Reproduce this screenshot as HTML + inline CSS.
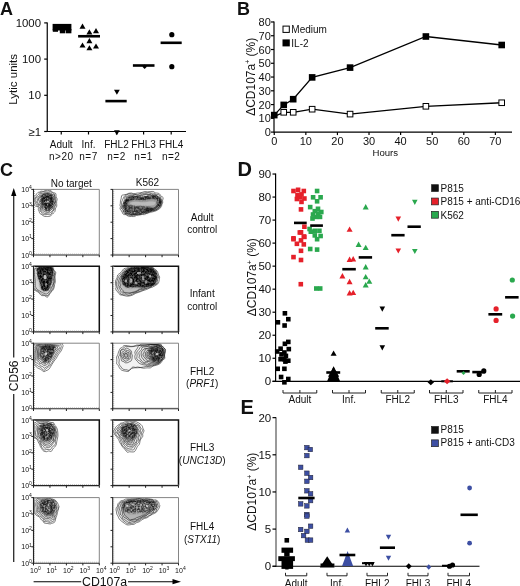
<!DOCTYPE html>
<html><head><meta charset="utf-8"><style>
html,body{margin:0;padding:0;background:#fff;width:520px;height:586px;overflow:hidden;}
svg{display:block;will-change:transform;}
text{font-family:"Liberation Sans",sans-serif;fill:#111;}
</style></head><body>
<svg width="520" height="586" viewBox="0 0 520 586">
<defs><filter id="bl" x="-20%" y="-20%" width="140%" height="140%"><feGaussianBlur stdDeviation="0.7"/></filter><filter id="tx" x="-20%" y="-20%" width="140%" height="140%"><feTurbulence type="fractalNoise" baseFrequency="0.55" numOctaves="2" seed="4" result="n"/><feColorMatrix in="n" type="matrix" values="0 0 0 0 0  0 0 0 0 0  0 0 0 0 0  0 0 0 -3 2.1" result="a"/><feGaussianBlur in="SourceGraphic" stdDeviation="0.8" result="b"/><feComposite in="b" in2="a" operator="in"/></filter><clipPath id="c00"><rect x="33.5" y="189.4" width="65.8" height="65.6"/></clipPath><clipPath id="c01"><rect x="112.7" y="189.4" width="65.8" height="65.6"/></clipPath><clipPath id="c10"><rect x="33.5" y="266.3" width="65.8" height="65.6"/></clipPath><clipPath id="c11"><rect x="112.7" y="266.3" width="65.8" height="65.6"/></clipPath><clipPath id="c20"><rect x="33.5" y="343.2" width="65.8" height="65.6"/></clipPath><clipPath id="c21"><rect x="112.7" y="343.2" width="65.8" height="65.6"/></clipPath><clipPath id="c30"><rect x="33.5" y="420.0" width="65.8" height="65.6"/></clipPath><clipPath id="c31"><rect x="112.7" y="420.0" width="65.8" height="65.6"/></clipPath><clipPath id="c40"><rect x="33.5" y="497.6" width="65.8" height="65.6"/></clipPath><clipPath id="c41"><rect x="112.7" y="497.6" width="65.8" height="65.6"/></clipPath></defs>
<g clip-path="url(#c00)"><path d="M33.04,197.19C33.31,196.71 34.04,196.42 34.44,196.12C34.83,195.81 35.15,195.65 35.43,195.38C35.71,195.11 35.83,194.81 36.10,194.51C36.38,194.20 36.75,193.90 37.08,193.54C37.42,193.18 37.72,192.57 38.11,192.33C38.50,192.09 38.95,192.29 39.43,192.09C39.91,191.90 40.35,191.27 40.99,191.15C41.64,191.04 42.60,191.51 43.28,191.40C43.96,191.30 44.38,190.69 45.07,190.51C45.76,190.32 46.72,190.27 47.43,190.29C48.14,190.31 48.78,190.57 49.32,190.61C49.86,190.65 50.18,190.32 50.68,190.56C51.18,190.80 51.82,191.69 52.33,192.05C52.83,192.41 53.16,192.48 53.71,192.71C54.26,192.93 55.24,193.01 55.63,193.39C56.01,193.76 55.96,194.35 56.04,194.94C56.12,195.53 55.92,196.24 56.10,196.90C56.29,197.57 57.07,198.18 57.16,198.93C57.26,199.69 56.76,200.65 56.67,201.41C56.58,202.17 56.61,202.69 56.62,203.49C56.64,204.28 56.94,205.42 56.76,206.18C56.59,206.94 55.87,207.37 55.60,208.07C55.34,208.76 55.34,209.71 55.19,210.34C55.04,210.96 55.00,211.35 54.71,211.81C54.41,212.27 53.98,212.54 53.43,213.09C52.89,213.64 52.05,214.56 51.43,215.10C50.80,215.63 50.33,216.05 49.69,216.29C49.05,216.53 48.16,216.48 47.59,216.52C47.01,216.55 46.78,216.53 46.24,216.50C45.70,216.47 44.93,216.51 44.34,216.33C43.74,216.15 43.22,215.79 42.68,215.42C42.13,215.05 41.55,214.46 41.07,214.13C40.59,213.79 40.14,213.87 39.81,213.40C39.47,212.93 39.33,211.96 39.08,211.31C38.83,210.67 38.41,210.08 38.30,209.51C38.20,208.95 38.57,208.42 38.43,207.94C38.30,207.46 37.90,206.91 37.49,206.64C37.08,206.37 36.48,206.51 36.00,206.32C35.51,206.12 34.89,205.85 34.57,205.47C34.25,205.08 34.30,204.33 34.10,203.99C33.91,203.65 33.61,203.78 33.40,203.41C33.20,203.04 32.92,202.20 32.87,201.77C32.82,201.34 33.11,201.30 33.10,200.83C33.09,200.36 32.83,199.56 32.82,198.95C32.81,198.35 32.77,197.66 33.04,197.19Z" fill="#000" fill-opacity="0.0" stroke="#000" stroke-width="0.6" stroke-opacity="0.85"/>
<path d="M34.67,198.20C34.91,197.95 35.62,197.65 35.91,197.28C36.20,196.91 36.15,196.27 36.41,195.97C36.67,195.68 37.06,195.82 37.47,195.50C37.89,195.17 38.64,194.39 38.91,194.03C39.18,193.66 38.92,193.51 39.11,193.29C39.30,193.07 39.57,192.90 40.06,192.71C40.55,192.52 41.51,192.28 42.03,192.15C42.55,192.02 42.64,192.00 43.15,191.93C43.67,191.85 44.41,191.70 45.13,191.70C45.85,191.70 46.84,191.86 47.46,191.90C48.08,191.94 48.31,191.99 48.86,191.93C49.42,191.86 50.23,191.34 50.81,191.51C51.39,191.68 51.88,192.57 52.36,192.94C52.84,193.31 53.31,193.54 53.69,193.74C54.06,193.94 54.42,193.78 54.60,194.16C54.79,194.54 54.69,195.52 54.79,196.02C54.89,196.52 55.04,196.68 55.21,197.16C55.37,197.64 55.70,198.27 55.79,198.90C55.88,199.52 55.84,200.20 55.76,200.90C55.67,201.60 55.39,202.34 55.30,203.09C55.21,203.83 55.36,204.62 55.24,205.38C55.12,206.14 54.70,207.07 54.57,207.64C54.45,208.20 54.67,208.26 54.50,208.78C54.34,209.30 53.94,210.25 53.58,210.76C53.21,211.27 52.69,211.32 52.33,211.85C51.97,212.38 51.85,213.44 51.41,213.92C50.98,214.41 50.36,214.66 49.72,214.76C49.08,214.85 48.20,214.48 47.58,214.47C46.96,214.46 46.50,214.65 46.01,214.68C45.52,214.71 45.22,214.71 44.65,214.65C44.07,214.58 43.07,214.66 42.57,214.31C42.08,213.95 42.05,213.02 41.68,212.53C41.30,212.04 40.62,211.70 40.34,211.37C40.05,211.05 40.04,211.03 39.97,210.58C39.89,210.13 40.07,209.32 39.91,208.68C39.75,208.03 39.33,207.09 39.01,206.73C38.68,206.37 38.22,206.63 37.93,206.49C37.64,206.36 37.57,206.18 37.27,205.90C36.96,205.62 36.31,205.04 36.10,204.80C35.88,204.56 36.09,204.70 35.99,204.44C35.89,204.17 35.67,203.61 35.49,203.23C35.31,202.84 35.10,202.56 34.92,202.12C34.73,201.67 34.45,201.12 34.38,200.57C34.31,200.01 34.45,199.17 34.50,198.78C34.55,198.38 34.44,198.44 34.67,198.20Z" fill="#000" fill-opacity="0.015" stroke="#000" stroke-width="0.6" stroke-opacity="0.85"/>
<path d="M35.64,198.00C35.78,197.73 36.29,197.81 36.72,197.57C37.16,197.33 37.84,196.77 38.23,196.55C38.63,196.33 38.81,196.50 39.09,196.24C39.37,195.97 39.75,195.31 39.91,194.96C40.07,194.60 39.90,194.38 40.05,194.11C40.20,193.85 40.39,193.45 40.83,193.37C41.27,193.30 42.09,193.75 42.68,193.68C43.26,193.61 43.85,193.10 44.34,192.98C44.83,192.86 45.24,192.96 45.64,192.95C46.04,192.94 46.15,192.88 46.73,192.90C47.30,192.93 48.44,193.09 49.07,193.09C49.70,193.09 50.17,192.77 50.53,192.90C50.88,193.03 50.87,193.59 51.21,193.87C51.55,194.15 52.03,194.41 52.55,194.58C53.07,194.75 54.05,194.52 54.32,194.91C54.60,195.29 54.11,196.41 54.21,196.87C54.31,197.32 54.81,197.27 54.90,197.64C54.99,198.01 54.69,198.44 54.76,199.09C54.84,199.74 55.37,200.82 55.33,201.54C55.29,202.27 54.55,202.83 54.51,203.43C54.48,204.03 55.21,204.61 55.13,205.14C55.05,205.68 54.34,206.21 54.03,206.64C53.73,207.08 53.39,207.21 53.30,207.76C53.22,208.31 53.75,209.34 53.52,209.93C53.29,210.53 52.40,210.92 51.92,211.34C51.44,211.75 51.00,212.15 50.64,212.43C50.29,212.70 50.29,212.87 49.79,212.98C49.30,213.09 48.30,213.03 47.68,213.11C47.06,213.18 46.60,213.39 46.07,213.42C45.53,213.46 44.97,213.43 44.48,213.33C44.00,213.23 43.55,213.14 43.17,212.84C42.78,212.53 42.50,211.81 42.17,211.50C41.84,211.18 41.42,211.29 41.18,210.96C40.93,210.63 40.83,210.05 40.71,209.51C40.59,208.96 40.55,208.32 40.46,207.70C40.37,207.07 40.37,206.15 40.16,205.77C39.95,205.38 39.58,205.44 39.21,205.38C38.83,205.32 38.27,205.54 37.93,205.40C37.60,205.27 37.32,204.86 37.21,204.58C37.09,204.30 37.36,204.02 37.22,203.72C37.09,203.41 36.57,203.03 36.38,202.75C36.20,202.47 36.22,202.41 36.11,202.06C36.00,201.71 35.75,201.13 35.71,200.65C35.66,200.18 35.85,199.64 35.83,199.20C35.82,198.76 35.49,198.27 35.64,198.00Z" fill="#000" fill-opacity="0.03" stroke="#000" stroke-width="0.6" stroke-opacity="0.85"/>
<path d="M37.74,198.56C37.86,198.24 38.04,198.33 38.32,198.08C38.59,197.84 39.14,197.37 39.40,197.10C39.67,196.83 39.72,196.64 39.90,196.45C40.09,196.27 40.30,196.20 40.51,195.99C40.72,195.79 40.93,195.39 41.16,195.22C41.39,195.05 41.51,195.06 41.88,194.96C42.25,194.86 42.87,194.81 43.36,194.62C43.86,194.42 44.46,193.87 44.86,193.78C45.27,193.70 45.37,194.17 45.80,194.12C46.24,194.07 47.06,193.52 47.46,193.46C47.86,193.41 47.86,193.77 48.21,193.81C48.56,193.85 49.16,193.55 49.57,193.70C49.97,193.84 50.16,194.39 50.62,194.69C51.07,194.99 51.94,195.29 52.31,195.50C52.67,195.71 52.57,195.74 52.79,195.94C53.00,196.15 53.37,196.25 53.59,196.71C53.82,197.18 54.09,198.19 54.14,198.74C54.20,199.29 53.93,199.59 53.90,200.01C53.86,200.42 53.87,200.70 53.94,201.22C54.02,201.75 54.43,202.63 54.36,203.17C54.28,203.70 53.66,204.01 53.50,204.44C53.33,204.87 53.50,205.31 53.35,205.76C53.20,206.20 52.72,206.72 52.59,207.14C52.47,207.56 52.80,207.85 52.60,208.27C52.40,208.69 51.85,209.27 51.40,209.65C50.94,210.03 50.21,210.21 49.87,210.56C49.53,210.90 49.76,211.45 49.36,211.72C48.96,211.99 47.90,212.11 47.46,212.19C47.02,212.28 47.17,212.32 46.71,212.23C46.25,212.14 45.21,211.80 44.69,211.64C44.17,211.48 43.91,211.58 43.59,211.28C43.26,210.99 43.04,210.14 42.74,209.88C42.45,209.63 41.97,210.10 41.83,209.77C41.69,209.44 42.04,208.33 41.91,207.90C41.77,207.47 41.16,207.57 41.02,207.21C40.89,206.85 41.31,206.15 41.12,205.73C40.94,205.31 40.16,204.88 39.92,204.69C39.68,204.49 39.95,204.57 39.69,204.55C39.43,204.53 38.57,204.70 38.37,204.54C38.16,204.39 38.59,203.89 38.45,203.60C38.31,203.32 37.76,203.10 37.54,202.84C37.31,202.57 37.11,202.42 37.10,202.03C37.09,201.64 37.38,200.85 37.45,200.51C37.52,200.16 37.49,200.31 37.54,199.98C37.59,199.66 37.61,198.87 37.74,198.56Z" fill="#000" fill-opacity="0.045" stroke="#000" stroke-width="0.6" stroke-opacity="0.85"/>
<path d="M38.71,198.57C38.89,198.23 39.41,198.26 39.60,198.06C39.80,197.87 39.74,197.60 39.89,197.40C40.04,197.19 40.25,197.00 40.50,196.83C40.74,196.66 41.02,196.55 41.33,196.38C41.64,196.22 42.11,196.03 42.33,195.83C42.56,195.63 42.48,195.36 42.70,195.19C42.92,195.02 43.33,194.91 43.66,194.81C43.99,194.70 44.25,194.56 44.68,194.56C45.10,194.56 45.84,194.77 46.21,194.81C46.58,194.84 46.49,194.84 46.92,194.80C47.35,194.75 48.30,194.51 48.79,194.53C49.29,194.54 49.60,194.67 49.89,194.88C50.17,195.08 50.26,195.58 50.50,195.76C50.73,195.95 50.97,195.79 51.30,195.99C51.63,196.18 52.28,196.62 52.47,196.93C52.66,197.25 52.36,197.58 52.46,197.90C52.56,198.21 52.98,198.53 53.09,198.82C53.20,199.12 53.18,199.32 53.11,199.66C53.05,200.00 52.78,200.34 52.70,200.87C52.62,201.39 52.62,202.35 52.61,202.82C52.61,203.29 52.76,203.25 52.68,203.70C52.60,204.15 52.17,205.03 52.13,205.51C52.08,205.98 52.54,206.24 52.43,206.55C52.33,206.86 51.81,207.06 51.50,207.37C51.20,207.68 50.93,208.11 50.61,208.42C50.30,208.74 49.90,208.91 49.59,209.27C49.29,209.63 49.01,210.43 48.79,210.60C48.56,210.76 48.63,210.25 48.23,210.26C47.82,210.28 46.87,210.69 46.37,210.68C45.87,210.66 45.62,210.37 45.23,210.17C44.84,209.97 44.33,209.70 44.05,209.49C43.78,209.28 43.85,209.12 43.58,208.90C43.31,208.69 42.69,208.54 42.43,208.20C42.17,207.87 42.11,207.27 42.01,206.89C41.92,206.51 41.93,206.31 41.85,205.91C41.78,205.51 41.69,204.75 41.57,204.47C41.45,204.20 41.28,204.32 41.14,204.26C41.01,204.20 40.89,204.20 40.74,204.13C40.58,204.06 40.38,203.97 40.23,203.84C40.08,203.71 40.01,203.62 39.83,203.34C39.66,203.06 39.26,202.49 39.18,202.14C39.10,201.80 39.37,201.50 39.36,201.28C39.35,201.07 39.26,201.03 39.12,200.83C38.98,200.63 38.58,200.48 38.51,200.10C38.44,199.72 38.53,198.91 38.71,198.57Z" fill="#000" fill-opacity="0.06" stroke="#000" stroke-width="0.6" stroke-opacity="0.85"/>
<path d="M40.70,199.36C40.83,199.27 41.04,199.21 41.11,199.03C41.18,198.85 40.98,198.43 41.13,198.27C41.27,198.11 41.73,198.16 42.00,198.05C42.28,197.94 42.60,197.74 42.77,197.59C42.95,197.45 42.93,197.37 43.08,197.20C43.22,197.03 43.48,196.81 43.66,196.57C43.85,196.34 43.95,195.89 44.17,195.78C44.40,195.66 44.72,195.82 45.00,195.87C45.29,195.93 45.51,196.09 45.89,196.10C46.28,196.12 46.89,195.97 47.30,195.96C47.71,195.96 48.04,196.14 48.36,196.06C48.69,195.99 48.92,195.41 49.24,195.50C49.56,195.59 50.02,196.38 50.27,196.61C50.52,196.83 50.52,196.81 50.75,196.85C50.98,196.89 51.44,196.68 51.64,196.86C51.85,197.04 51.97,197.61 51.96,197.94C51.96,198.28 51.53,198.57 51.62,198.87C51.70,199.17 52.33,199.28 52.46,199.73C52.58,200.19 52.45,201.18 52.38,201.59C52.32,202.01 52.14,201.88 52.08,202.23C52.01,202.57 52.01,203.27 51.98,203.67C51.95,204.06 51.99,204.36 51.91,204.61C51.82,204.85 51.67,204.84 51.46,205.12C51.26,205.40 50.85,205.96 50.68,206.28C50.52,206.60 50.66,206.84 50.47,207.04C50.28,207.24 49.91,207.26 49.56,207.49C49.21,207.73 48.63,208.21 48.35,208.44C48.08,208.67 48.15,208.84 47.90,208.86C47.66,208.87 47.26,208.55 46.91,208.53C46.55,208.51 46.09,208.84 45.76,208.72C45.44,208.60 45.16,208.06 44.97,207.82C44.78,207.59 44.78,207.38 44.60,207.31C44.43,207.24 44.22,207.60 43.93,207.39C43.64,207.18 42.96,206.35 42.87,206.05C42.78,205.75 43.39,205.92 43.39,205.59C43.39,205.25 43.07,204.25 42.85,204.04C42.64,203.83 42.31,204.38 42.09,204.32C41.87,204.25 41.73,203.83 41.54,203.66C41.35,203.48 40.96,203.49 40.93,203.27C40.90,203.05 41.36,202.53 41.36,202.34C41.36,202.14 41.05,202.20 40.94,202.09C40.83,201.98 40.84,201.85 40.70,201.68C40.56,201.52 40.17,201.46 40.11,201.11C40.05,200.76 40.24,199.86 40.34,199.57C40.44,199.28 40.57,199.45 40.70,199.36Z" fill="#000" fill-opacity="0.07" stroke="#000" stroke-width="0.6" stroke-opacity="0.85"/>
<path d="M41.05,199.52C41.12,199.30 41.74,199.09 41.91,198.93C42.09,198.77 41.96,198.61 42.09,198.55C42.23,198.49 42.59,198.65 42.71,198.58C42.84,198.50 42.63,198.35 42.85,198.12C43.07,197.88 43.75,197.30 44.03,197.17C44.30,197.04 44.32,197.39 44.52,197.33C44.73,197.26 45.10,196.88 45.27,196.78C45.44,196.67 45.29,196.71 45.56,196.70C45.84,196.69 46.63,196.73 46.90,196.71C47.17,196.70 46.99,196.68 47.16,196.61C47.34,196.54 47.69,196.23 47.93,196.31C48.17,196.38 48.36,196.86 48.61,197.06C48.86,197.26 49.17,197.48 49.41,197.51C49.64,197.55 49.76,197.27 50.00,197.28C50.25,197.28 50.71,197.28 50.87,197.57C51.03,197.86 50.83,198.68 50.96,199.03C51.08,199.38 51.52,199.42 51.63,199.67C51.73,199.92 51.58,200.28 51.61,200.53C51.64,200.78 51.83,200.99 51.82,201.18C51.81,201.38 51.60,201.40 51.55,201.71C51.49,202.03 51.54,202.66 51.49,203.06C51.44,203.45 51.39,203.85 51.23,204.07C51.07,204.29 50.59,204.17 50.53,204.37C50.46,204.58 50.95,205.00 50.82,205.28C50.70,205.57 50.09,205.79 49.78,206.08C49.48,206.37 49.13,206.85 49.00,207.04C48.86,207.23 49.17,207.17 48.98,207.21C48.79,207.25 48.19,207.25 47.85,207.27C47.51,207.30 47.27,207.40 46.92,207.39C46.57,207.38 46.03,207.21 45.73,207.21C45.43,207.21 45.30,207.54 45.14,207.39C44.98,207.23 44.87,206.43 44.77,206.28C44.66,206.13 44.65,206.71 44.51,206.49C44.37,206.26 44.09,205.34 43.93,204.95C43.76,204.55 43.60,204.40 43.53,204.13C43.45,203.87 43.59,203.51 43.49,203.36C43.40,203.21 43.06,203.21 42.94,203.23C42.82,203.26 42.85,203.59 42.77,203.52C42.70,203.45 42.62,202.99 42.47,202.81C42.33,202.63 42.06,202.60 41.92,202.42C41.78,202.25 41.77,201.96 41.64,201.76C41.50,201.56 41.05,201.44 41.10,201.22C41.15,201.00 41.85,200.61 41.91,200.45C41.98,200.30 41.64,200.43 41.50,200.28C41.35,200.12 40.98,199.75 41.05,199.52Z" fill="#000" fill-opacity="0.08" stroke="#000" stroke-width="0.6" stroke-opacity="0.85"/>
<path d="M42.96,199.55C43.03,199.39 42.75,199.32 42.81,199.24C42.86,199.16 43.07,199.10 43.30,199.08C43.52,199.06 43.98,199.28 44.17,199.10C44.36,198.93 44.46,198.18 44.44,198.05C44.41,197.93 43.90,198.40 44.02,198.37C44.14,198.33 44.89,198.03 45.14,197.85C45.38,197.67 45.35,197.26 45.48,197.29C45.61,197.31 45.69,197.90 45.93,197.98C46.17,198.07 46.64,197.90 46.94,197.78C47.25,197.67 47.64,197.37 47.76,197.27C47.87,197.18 47.50,197.14 47.66,197.22C47.82,197.30 48.39,197.59 48.71,197.73C49.03,197.87 49.41,197.95 49.60,198.06C49.79,198.17 49.75,198.32 49.84,198.39C49.94,198.47 50.16,198.34 50.18,198.50C50.20,198.65 49.95,199.06 49.98,199.33C50.00,199.59 50.17,199.94 50.32,200.07C50.47,200.21 50.86,200.01 50.86,200.14C50.86,200.28 50.36,200.57 50.34,200.89C50.32,201.21 50.76,201.85 50.74,202.09C50.72,202.32 50.27,202.09 50.21,202.31C50.15,202.54 50.39,203.20 50.36,203.45C50.32,203.70 50.07,203.67 50.01,203.81C49.94,203.95 50.11,204.07 49.97,204.30C49.84,204.53 49.31,204.93 49.19,205.19C49.08,205.45 49.36,205.68 49.27,205.84C49.19,206.01 49.00,206.15 48.70,206.18C48.39,206.21 47.65,205.96 47.43,206.00C47.22,206.04 47.62,206.46 47.40,206.43C47.19,206.41 46.40,205.91 46.14,205.84C45.87,205.77 45.95,206.13 45.80,206.03C45.65,205.93 45.36,205.35 45.22,205.26C45.07,205.16 45.07,205.67 44.93,205.46C44.79,205.26 44.49,204.32 44.40,204.04C44.30,203.75 44.34,203.95 44.36,203.76C44.39,203.58 44.55,203.03 44.54,202.94C44.52,202.84 44.42,203.27 44.27,203.20C44.11,203.12 43.73,202.63 43.63,202.49C43.53,202.35 43.72,202.46 43.67,202.36C43.62,202.26 43.51,201.96 43.33,201.89C43.15,201.83 42.74,202.00 42.59,201.97C42.44,201.95 42.45,201.98 42.45,201.75C42.46,201.51 42.64,200.80 42.63,200.55C42.62,200.30 42.33,200.41 42.39,200.25C42.44,200.08 42.90,199.72 42.96,199.55Z" fill="#000" fill-opacity="0.1" stroke="#000" stroke-width="0.6" stroke-opacity="0.85"/>
<path d="M41.00,196.00C41.75,194.42 44.17,193.75 46.00,193.50C47.83,193.25 50.67,193.42 52.00,194.50C53.33,195.58 53.83,197.92 54.00,200.00C54.17,202.08 53.83,205.17 53.00,207.00C52.17,208.83 50.50,210.67 49.00,211.00C47.50,211.33 45.25,210.33 44.00,209.00C42.75,207.67 42.00,205.17 41.50,203.00C41.00,200.83 40.25,197.58 41.00,196.00Z" fill="#000" fill-opacity="0.18" filter="url(#bl)"/><path d="M41.00,196.00C41.75,194.42 44.17,193.75 46.00,193.50C47.83,193.25 50.67,193.42 52.00,194.50C53.33,195.58 53.83,197.92 54.00,200.00C54.17,202.08 53.83,205.17 53.00,207.00C52.17,208.83 50.50,210.67 49.00,211.00C47.50,211.33 45.25,210.33 44.00,209.00C42.75,207.67 42.00,205.17 41.50,203.00C41.00,200.83 40.25,197.58 41.00,196.00Z" fill="#000" fill-opacity="0.75" filter="url(#tx)"/>
<path d="M44.00,198.00C44.67,197.17 46.83,196.67 48.00,197.00C49.17,197.33 50.75,198.67 51.00,200.00C51.25,201.33 50.33,204.00 49.50,205.00C48.67,206.00 46.92,206.50 46.00,206.00C45.08,205.50 44.33,203.33 44.00,202.00C43.67,200.67 43.33,198.83 44.00,198.00Z" fill="#000" fill-opacity="0.5" filter="url(#tx)"/>
<circle cx="47.8" cy="201.5" r="1" fill="#fff" fill-opacity="0.7"/></g>
<g clip-path="url(#c01)"><path d="M120.35,203.40C120.44,202.63 120.35,201.34 120.48,200.57C120.61,199.80 120.94,199.59 121.14,198.76C121.34,197.93 121.27,196.24 121.68,195.60C122.09,194.95 122.82,195.11 123.60,194.90C124.38,194.70 125.59,194.59 126.36,194.35C127.13,194.10 127.37,193.67 128.21,193.45C129.05,193.23 130.47,192.97 131.39,193.01C132.31,193.06 132.74,193.71 133.72,193.73C134.69,193.74 136.21,193.22 137.22,193.08C138.24,192.94 138.98,193.01 139.81,192.89C140.65,192.77 141.41,192.57 142.22,192.35C143.03,192.13 143.83,191.64 144.70,191.55C145.58,191.46 146.46,191.80 147.47,191.80C148.48,191.80 149.75,191.57 150.74,191.53C151.73,191.48 152.67,191.32 153.42,191.54C154.16,191.75 154.45,192.54 155.20,192.82C155.96,193.10 157.22,193.01 157.96,193.21C158.69,193.40 159.12,193.56 159.59,193.98C160.07,194.39 160.49,195.28 160.82,195.71C161.15,196.14 161.20,196.23 161.59,196.54C161.98,196.86 163.00,196.90 163.16,197.58C163.32,198.26 162.63,199.83 162.55,200.61C162.48,201.39 162.82,201.59 162.71,202.25C162.59,202.92 162.13,203.91 161.88,204.61C161.64,205.31 161.62,205.77 161.24,206.45C160.87,207.13 160.22,208.13 159.66,208.69C159.09,209.25 158.51,209.42 157.86,209.80C157.20,210.17 156.65,210.59 155.75,210.94C154.84,211.28 153.44,211.64 152.45,211.86C151.47,212.09 150.87,212.01 149.83,212.30C148.80,212.58 147.24,213.23 146.22,213.56C145.20,213.89 144.68,214.12 143.71,214.29C142.74,214.46 141.61,214.37 140.40,214.57C139.19,214.77 137.54,215.17 136.43,215.48C135.32,215.78 134.83,216.28 133.74,216.41C132.66,216.54 130.92,216.40 129.90,216.28C128.87,216.15 128.30,215.95 127.60,215.66C126.91,215.37 126.44,214.79 125.72,214.55C125.00,214.31 123.83,214.54 123.27,214.21C122.71,213.89 122.70,213.20 122.36,212.58C122.02,211.96 121.62,211.13 121.23,210.51C120.84,209.89 120.17,209.52 120.04,208.88C119.91,208.23 120.47,207.23 120.45,206.62C120.44,206.01 119.95,205.76 119.93,205.23C119.91,204.69 120.26,204.18 120.35,203.40Z" fill="#000" fill-opacity="0.0" stroke="#000" stroke-width="0.6" stroke-opacity="0.85"/>
<path d="M121.64,202.69C121.69,201.96 121.80,201.56 122.00,200.98C122.19,200.40 122.50,199.87 122.81,199.22C123.12,198.57 123.48,197.72 123.87,197.08C124.25,196.43 124.65,195.73 125.15,195.35C125.64,194.97 126.16,195.05 126.84,194.80C127.52,194.55 128.44,193.97 129.23,193.83C130.02,193.69 130.65,193.87 131.56,193.96C132.47,194.04 133.67,194.23 134.67,194.34C135.67,194.46 136.67,194.79 137.54,194.65C138.42,194.52 139.09,193.78 139.92,193.54C140.75,193.30 141.73,193.35 142.53,193.23C143.34,193.12 143.94,192.95 144.74,192.85C145.54,192.74 146.58,192.67 147.35,192.63C148.12,192.59 148.63,192.53 149.36,192.61C150.09,192.69 150.91,193.01 151.73,193.12C152.54,193.24 153.51,193.05 154.26,193.29C155.01,193.54 155.53,194.36 156.24,194.57C156.94,194.78 157.92,194.29 158.49,194.56C159.05,194.82 159.26,195.78 159.62,196.16C159.98,196.55 160.40,196.46 160.64,196.90C160.88,197.33 160.94,198.08 161.03,198.77C161.13,199.45 161.33,200.36 161.21,201.00C161.09,201.64 160.49,201.98 160.34,202.59C160.18,203.19 160.36,203.98 160.25,204.64C160.15,205.30 160.02,205.99 159.70,206.53C159.39,207.07 158.80,207.38 158.35,207.87C157.89,208.36 157.70,209.03 156.97,209.47C156.24,209.92 154.78,210.33 153.97,210.54C153.16,210.74 152.90,210.47 152.13,210.70C151.37,210.93 150.40,211.63 149.37,211.93C148.34,212.22 147.05,212.28 145.96,212.47C144.87,212.66 143.84,212.80 142.82,213.09C141.81,213.38 140.81,214.01 139.86,214.21C138.91,214.41 138.21,214.20 137.15,214.31C136.09,214.43 134.53,214.73 133.51,214.88C132.49,215.04 131.86,215.29 131.04,215.22C130.22,215.15 129.26,214.67 128.56,214.47C127.87,214.27 127.61,214.28 126.85,214.01C126.10,213.74 124.61,213.22 124.05,212.84C123.49,212.46 123.69,212.22 123.49,211.71C123.29,211.20 123.17,210.25 122.85,209.77C122.53,209.28 121.74,209.31 121.56,208.78C121.38,208.24 121.76,207.14 121.78,206.56C121.80,205.99 121.72,205.97 121.69,205.33C121.67,204.68 121.59,203.41 121.64,202.69Z" fill="#000" fill-opacity="0.02" stroke="#000" stroke-width="0.6" stroke-opacity="0.85"/>
<path d="M123.36,203.22C123.48,202.61 123.65,201.71 123.90,201.12C124.15,200.54 124.69,200.37 124.86,199.69C125.03,199.00 124.57,197.59 124.92,197.01C125.26,196.42 126.42,196.35 126.93,196.17C127.43,196.00 127.44,196.15 127.96,195.96C128.47,195.77 129.25,195.17 130.01,195.05C130.77,194.93 131.67,195.30 132.52,195.24C133.36,195.19 134.30,194.74 135.08,194.74C135.87,194.73 136.38,195.16 137.20,195.23C138.02,195.29 139.25,195.26 140.01,195.13C140.76,195.00 141.04,194.65 141.75,194.45C142.46,194.25 143.49,194.05 144.24,193.92C145.00,193.79 145.51,193.62 146.28,193.67C147.05,193.71 148.12,194.18 148.86,194.19C149.60,194.20 149.99,193.64 150.73,193.74C151.47,193.84 152.65,194.64 153.31,194.79C153.98,194.94 154.05,194.44 154.73,194.65C155.40,194.85 156.86,195.75 157.36,196.03C157.86,196.31 157.47,196.03 157.73,196.32C157.99,196.60 158.59,197.28 158.91,197.74C159.24,198.20 159.58,198.59 159.68,199.07C159.77,199.55 159.53,200.02 159.46,200.61C159.40,201.21 159.40,201.87 159.29,202.63C159.18,203.39 159.02,204.60 158.81,205.15C158.59,205.71 158.41,205.55 157.98,205.95C157.55,206.35 156.68,207.05 156.23,207.55C155.78,208.05 155.88,208.61 155.30,208.94C154.71,209.26 153.42,209.20 152.70,209.51C151.99,209.82 151.76,210.52 151.00,210.80C150.24,211.08 148.98,211.09 148.15,211.20C147.31,211.30 146.81,211.26 145.99,211.42C145.18,211.59 144.22,211.89 143.26,212.20C142.31,212.51 141.21,213.07 140.25,213.29C139.28,213.50 138.43,213.34 137.47,213.49C136.51,213.63 135.45,213.96 134.49,214.15C133.52,214.35 132.48,214.71 131.69,214.64C130.90,214.57 130.47,213.98 129.75,213.74C129.04,213.51 128.06,213.47 127.41,213.21C126.76,212.94 126.22,212.49 125.87,212.16C125.52,211.84 125.60,211.73 125.33,211.25C125.07,210.78 124.58,209.88 124.27,209.31C123.97,208.74 123.68,208.32 123.50,207.85C123.32,207.37 123.25,206.97 123.19,206.46C123.14,205.95 123.13,205.33 123.16,204.79C123.19,204.25 123.24,203.83 123.36,203.22Z" fill="#000" fill-opacity="0.04" stroke="#000" stroke-width="0.6" stroke-opacity="0.85"/>
<path d="M125.20,202.83C125.36,202.24 125.59,201.57 125.77,201.09C125.96,200.61 126.18,200.54 126.31,199.94C126.45,199.35 126.28,198.00 126.57,197.52C126.87,197.04 127.51,197.29 128.08,197.05C128.66,196.81 129.45,196.23 130.01,196.07C130.57,195.91 130.84,196.09 131.44,196.09C132.04,196.08 132.95,196.01 133.61,196.05C134.27,196.09 134.68,196.26 135.40,196.33C136.13,196.39 137.13,196.60 137.95,196.43C138.78,196.27 139.64,195.47 140.36,195.34C141.08,195.21 141.72,195.75 142.27,195.65C142.82,195.55 142.98,194.93 143.65,194.75C144.32,194.56 145.50,194.55 146.30,194.52C147.10,194.49 147.77,194.60 148.45,194.58C149.13,194.56 149.83,194.23 150.40,194.41C150.98,194.59 151.40,195.46 151.90,195.66C152.40,195.87 152.81,195.53 153.40,195.63C154.00,195.72 155.06,195.99 155.45,196.24C155.83,196.49 155.55,196.70 155.73,197.13C155.92,197.56 156.22,198.37 156.55,198.82C156.89,199.26 157.63,199.35 157.73,199.80C157.83,200.24 157.27,200.93 157.14,201.47C157.02,202.01 156.94,202.49 156.97,203.01C157.00,203.54 157.40,204.12 157.31,204.63C157.22,205.14 156.81,205.58 156.43,206.08C156.06,206.58 155.56,207.15 155.08,207.64C154.60,208.13 154.08,208.76 153.56,209.00C153.05,209.25 152.58,209.00 152.01,209.10C151.44,209.20 150.76,209.38 150.13,209.61C149.51,209.85 149.11,210.24 148.28,210.53C147.46,210.82 146.11,211.18 145.18,211.33C144.25,211.48 143.51,211.33 142.72,211.44C141.93,211.54 141.25,211.77 140.46,211.95C139.67,212.13 138.85,212.25 137.99,212.52C137.13,212.79 136.18,213.37 135.30,213.56C134.42,213.74 133.48,213.84 132.72,213.65C131.95,213.46 131.37,212.71 130.70,212.42C130.02,212.13 129.22,212.06 128.67,211.92C128.13,211.77 127.77,211.74 127.42,211.54C127.08,211.33 126.93,211.14 126.62,210.69C126.31,210.24 125.79,209.37 125.57,208.82C125.35,208.27 125.47,207.82 125.33,207.37C125.19,206.92 124.83,206.61 124.74,206.15C124.66,205.69 124.76,205.19 124.84,204.63C124.91,204.08 125.05,203.42 125.20,202.83Z" fill="#000" fill-opacity="0.06" stroke="#000" stroke-width="0.6" stroke-opacity="0.85"/>
<path d="M124.00,208.00C123.83,206.00 124.33,201.50 127.00,200.00C129.67,198.50 135.17,199.17 140.00,199.00C144.83,198.83 153.00,198.00 156.00,199.00C159.00,200.00 159.00,203.17 158.00,205.00C157.00,206.83 153.00,208.83 150.00,210.00C147.00,211.17 143.67,211.67 140.00,212.00C136.33,212.33 130.67,212.67 128.00,212.00C125.33,211.33 124.17,210.00 124.00,208.00Z" fill="#000" fill-opacity="0.30" filter="url(#bl)"/><path d="M124.00,208.00C123.83,206.00 124.33,201.50 127.00,200.00C129.67,198.50 135.17,199.17 140.00,199.00C144.83,198.83 153.00,198.00 156.00,199.00C159.00,200.00 159.00,203.17 158.00,205.00C157.00,206.83 153.00,208.83 150.00,210.00C147.00,211.17 143.67,211.67 140.00,212.00C136.33,212.33 130.67,212.67 128.00,212.00C125.33,211.33 124.17,210.00 124.00,208.00Z" fill="#000" fill-opacity="0.0" filter="url(#tx)"/>
<path d="M123.50,212.00C122.58,210.25 121.75,206.17 122.50,205.00C123.25,203.83 125.75,204.83 128.00,205.00C130.25,205.17 133.17,205.75 136.00,206.00C138.83,206.25 142.17,206.08 145.00,206.50C147.83,206.92 152.50,207.42 153.00,208.50C153.50,209.58 150.50,211.92 148.00,213.00C145.50,214.08 141.33,214.58 138.00,215.00C134.67,215.42 130.42,216.00 128.00,215.50C125.58,215.00 124.42,213.75 123.50,212.00Z" fill="#000" fill-opacity="0.22" filter="url(#bl)"/><path d="M123.50,212.00C122.58,210.25 121.75,206.17 122.50,205.00C123.25,203.83 125.75,204.83 128.00,205.00C130.25,205.17 133.17,205.75 136.00,206.00C138.83,206.25 142.17,206.08 145.00,206.50C147.83,206.92 152.50,207.42 153.00,208.50C153.50,209.58 150.50,211.92 148.00,213.00C145.50,214.08 141.33,214.58 138.00,215.00C134.67,215.42 130.42,216.00 128.00,215.50C125.58,215.00 124.42,213.75 123.50,212.00Z" fill="#000" fill-opacity="0.6" filter="url(#tx)"/>
<path d="M124.50,205.00C125.08,204.08 126.25,200.70 128.00,199.50C129.75,198.30 132.50,198.02 135.00,197.80C137.50,197.58 140.33,198.33 143.00,198.20C145.67,198.07 148.67,197.12 151.00,197.00C153.33,196.88 155.47,196.75 157.00,197.50C158.53,198.25 159.95,200.00 160.20,201.50C160.45,203.00 159.62,205.17 158.50,206.50C157.38,207.83 155.58,209.00 153.50,209.50C151.42,210.00 147.25,209.50 146.00,209.50" fill="none" stroke="#000" stroke-opacity="0.5" stroke-width="3.6" filter="url(#bl)"/>
<path d="M124.50,205.00C125.08,204.08 126.25,200.70 128.00,199.50C129.75,198.30 132.50,198.02 135.00,197.80C137.50,197.58 140.33,198.33 143.00,198.20C145.67,198.07 148.67,197.12 151.00,197.00C153.33,196.88 155.47,196.75 157.00,197.50C158.53,198.25 159.95,200.00 160.20,201.50C160.45,203.00 158.78,205.67 158.50,206.50" fill="none" stroke="#000" stroke-opacity="0.95" stroke-width="3.0" filter="url(#tx)"/>
<path d="M130.00,203.00C130.33,202.42 132.83,201.92 135.00,201.80C137.17,201.68 140.33,202.35 143.00,202.30C145.67,202.25 148.92,201.50 151.00,201.50C153.08,201.50 155.00,201.72 155.50,202.30C156.00,202.88 155.25,204.42 154.00,205.00C152.75,205.58 150.33,205.72 148.00,205.80C145.67,205.88 142.50,205.58 140.00,205.50C137.50,205.42 134.67,205.72 133.00,205.30C131.33,204.88 129.67,203.58 130.00,203.00Z" fill="#fff" fill-opacity="0.3" filter="url(#bl)"/></g>
<g clip-path="url(#c10)"><path d="M32.75,266.08C33.78,264.82 37.24,265.75 39.41,265.73C41.58,265.72 43.74,265.87 45.78,265.98C47.82,266.09 50.48,266.11 51.67,266.39C52.86,266.68 52.53,267.06 52.90,267.68C53.27,268.31 53.43,269.36 53.90,270.12C54.37,270.89 55.51,271.42 55.73,272.25C55.96,273.09 55.40,274.03 55.25,275.12C55.09,276.21 54.83,277.67 54.83,278.80C54.83,279.92 55.29,280.90 55.26,281.87C55.22,282.84 54.79,283.67 54.60,284.62C54.41,285.56 54.43,286.59 54.13,287.54C53.82,288.50 53.31,289.57 52.77,290.36C52.24,291.16 51.45,291.64 50.92,292.30C50.39,292.95 50.14,293.50 49.58,294.30C49.03,295.09 48.27,296.70 47.60,297.05C46.93,297.40 46.10,296.65 45.56,296.41C45.03,296.17 45.04,295.75 44.40,295.61C43.76,295.48 42.46,295.84 41.73,295.60C41.00,295.35 40.58,294.69 40.01,294.13C39.43,293.56 38.98,292.76 38.28,292.21C37.59,291.66 36.44,291.13 35.83,290.82C35.21,290.51 34.86,290.62 34.59,290.35C34.33,290.08 34.59,289.53 34.25,289.19C33.92,288.85 32.73,289.74 32.56,288.31C32.38,286.88 33.11,283.14 33.22,280.64C33.33,278.13 33.30,275.72 33.22,273.29C33.14,270.86 31.72,267.33 32.75,266.08Z" fill="#000" fill-opacity="0.04" stroke="#000" stroke-width="0.6" stroke-opacity="0.85"/>
<path d="M33.71,266.76C34.71,265.64 37.59,266.61 39.55,266.70C41.50,266.80 43.45,267.22 45.47,267.34C47.48,267.47 50.41,267.20 51.62,267.43C52.82,267.66 52.35,268.20 52.67,268.75C53.00,269.30 53.21,270.09 53.57,270.74C53.93,271.39 54.71,271.81 54.83,272.66C54.95,273.51 54.29,274.86 54.30,275.83C54.30,276.81 54.79,277.59 54.86,278.52C54.94,279.45 54.95,280.48 54.73,281.40C54.50,282.33 53.74,283.10 53.49,284.06C53.25,285.01 53.41,286.32 53.25,287.15C53.10,287.98 52.93,288.38 52.58,289.04C52.23,289.71 51.76,290.35 51.17,291.13C50.58,291.91 49.61,292.99 49.06,293.74C48.51,294.49 48.38,295.34 47.88,295.63C47.38,295.92 46.71,295.60 46.07,295.49C45.43,295.38 44.66,295.12 44.05,294.96C43.44,294.81 43.04,294.90 42.42,294.58C41.80,294.27 40.98,293.62 40.34,293.08C39.71,292.54 39.27,291.80 38.62,291.33C37.98,290.85 36.99,290.52 36.46,290.23C35.93,289.94 35.74,289.97 35.42,289.57C35.10,289.17 34.86,288.16 34.56,287.85C34.26,287.55 33.73,289.01 33.61,287.75C33.48,286.49 33.83,282.67 33.82,280.29C33.81,277.91 33.55,275.71 33.54,273.45C33.52,271.20 32.71,267.89 33.71,266.76Z" fill="#000" fill-opacity="0.06" stroke="#000" stroke-width="0.6" stroke-opacity="0.85"/>
<path d="M35.09,268.36C36.08,267.41 38.74,268.46 40.42,268.45C42.10,268.45 43.45,268.31 45.17,268.32C46.89,268.33 49.60,268.20 50.76,268.53C51.92,268.85 51.85,269.70 52.12,270.27C52.39,270.84 52.06,271.36 52.39,271.93C52.72,272.50 53.95,273.03 54.11,273.68C54.26,274.33 53.47,275.02 53.33,275.82C53.19,276.61 53.18,277.44 53.27,278.46C53.37,279.49 53.91,281.00 53.88,281.96C53.85,282.92 53.31,283.54 53.07,284.21C52.83,284.88 52.74,285.33 52.45,285.97C52.17,286.61 51.68,287.36 51.36,288.04C51.04,288.72 50.99,289.35 50.55,290.04C50.12,290.72 49.33,291.50 48.76,292.14C48.18,292.78 47.61,293.59 47.09,293.89C46.57,294.19 46.15,294.05 45.64,293.94C45.14,293.83 44.50,293.38 44.04,293.22C43.58,293.07 43.39,293.25 42.90,293.02C42.41,292.80 41.82,292.30 41.12,291.87C40.42,291.43 39.32,290.82 38.70,290.42C38.08,290.02 37.76,289.79 37.38,289.49C37.01,289.18 36.73,288.95 36.46,288.58C36.20,288.22 36.00,287.68 35.79,287.30C35.59,286.93 35.34,287.53 35.25,286.35C35.15,285.18 35.34,282.30 35.21,280.26C35.08,278.23 34.49,276.12 34.47,274.13C34.45,272.15 34.10,269.31 35.09,268.36Z" fill="#000" fill-opacity="0.08" stroke="#000" stroke-width="0.6" stroke-opacity="0.85"/>
<path d="M37.40,268.00C38.65,266.42 42.45,266.50 45.00,266.50C47.55,266.50 51.45,266.08 52.70,268.00C53.95,269.92 52.87,275.00 52.50,278.00C52.13,281.00 51.25,283.92 50.50,286.00C49.75,288.08 49.42,289.83 48.00,290.50C46.58,291.17 43.33,291.25 42.00,290.00C40.67,288.75 40.75,285.33 40.00,283.00C39.25,280.67 37.93,278.50 37.50,276.00C37.07,273.50 36.15,269.58 37.40,268.00Z" fill="#000" fill-opacity="0.60" filter="url(#bl)"/><path d="M37.40,268.00C38.65,266.42 42.45,266.50 45.00,266.50C47.55,266.50 51.45,266.08 52.70,268.00C53.95,269.92 52.87,275.00 52.50,278.00C52.13,281.00 51.25,283.92 50.50,286.00C49.75,288.08 49.42,289.83 48.00,290.50C46.58,291.17 43.33,291.25 42.00,290.00C40.67,288.75 40.75,285.33 40.00,283.00C39.25,280.67 37.93,278.50 37.50,276.00C37.07,273.50 36.15,269.58 37.40,268.00Z" fill="#000" fill-opacity="0.95" filter="url(#tx)"/>
<ellipse cx="45" cy="277" rx="1.6" ry="2.2" fill="#fff" fill-opacity="0.7"/>
<ellipse cx="46" cy="284.5" rx="1.2" ry="1.5" fill="#fff" fill-opacity="0.4"/></g>
<g clip-path="url(#c11)"><path d="M115.44,283.43C115.44,282.66 115.42,281.24 115.69,280.33C115.96,279.41 116.72,278.82 117.06,277.93C117.40,277.05 117.25,275.77 117.72,275.00C118.18,274.22 119.18,273.90 119.86,273.30C120.54,272.70 121.13,272.16 121.78,271.40C122.44,270.64 122.96,269.31 123.81,268.74C124.65,268.18 125.98,268.27 126.85,268.00C127.71,267.73 128.19,267.41 128.98,267.12C129.78,266.83 130.20,266.40 131.62,266.26C133.04,266.12 135.65,266.32 137.51,266.26C139.37,266.19 141.05,265.93 142.78,265.87C144.52,265.81 146.54,265.72 147.91,265.91C149.28,266.09 150.06,266.57 151.02,266.96C151.98,267.35 152.90,267.77 153.68,268.24C154.47,268.71 155.07,269.10 155.74,269.79C156.40,270.47 157.20,271.46 157.66,272.33C158.12,273.21 158.16,274.24 158.49,275.01C158.82,275.78 159.53,276.21 159.66,276.96C159.79,277.72 159.43,278.76 159.30,279.56C159.16,280.37 159.10,281.08 158.86,281.80C158.62,282.51 158.50,283.20 157.86,283.84C157.22,284.48 155.86,285.14 155.02,285.64C154.18,286.15 153.70,286.50 152.81,286.88C151.93,287.27 150.69,287.52 149.70,287.94C148.72,288.36 148.03,288.96 146.91,289.40C145.80,289.85 144.09,290.24 143.00,290.63C141.90,291.03 141.56,291.32 140.35,291.76C139.13,292.21 137.08,292.73 135.72,293.32C134.36,293.91 133.52,294.83 132.18,295.31C130.84,295.79 128.87,296.10 127.69,296.19C126.51,296.28 125.94,296.01 125.11,295.84C124.27,295.68 123.56,295.38 122.69,295.19C121.81,295.01 120.44,295.05 119.85,294.72C119.25,294.39 119.57,293.76 119.09,293.21C118.62,292.66 117.55,292.13 116.97,291.42C116.40,290.70 115.78,289.59 115.64,288.90C115.51,288.20 116.16,287.92 116.17,287.27C116.17,286.61 115.80,285.58 115.68,284.94C115.55,284.30 115.43,284.20 115.44,283.43Z" fill="#000" fill-opacity="0.04" stroke="#000" stroke-width="0.6" stroke-opacity="0.85"/>
<path d="M116.45,282.91C116.57,282.16 116.92,280.96 117.24,280.05C117.56,279.13 118.03,278.15 118.36,277.41C118.69,276.67 118.74,276.27 119.24,275.61C119.74,274.96 120.71,274.16 121.36,273.49C122.02,272.82 122.63,272.20 123.17,271.60C123.71,270.99 123.90,270.29 124.59,269.86C125.28,269.44 126.36,269.39 127.30,269.06C128.25,268.72 129.39,268.16 130.24,267.85C131.09,267.54 131.25,267.39 132.42,267.20C133.58,267.02 135.56,266.72 137.24,266.74C138.91,266.76 140.76,267.25 142.47,267.32C144.18,267.39 146.22,266.98 147.48,267.16C148.74,267.34 149.22,268.01 150.03,268.38C150.83,268.76 151.57,269.01 152.32,269.42C153.06,269.82 153.97,270.25 154.50,270.82C155.03,271.38 155.04,272.06 155.52,272.80C155.99,273.53 156.86,274.53 157.34,275.23C157.82,275.93 158.36,276.30 158.41,276.99C158.46,277.67 157.84,278.59 157.64,279.34C157.44,280.09 157.39,280.67 157.23,281.47C157.07,282.26 157.26,283.50 156.69,284.11C156.11,284.71 154.58,284.77 153.76,285.10C152.95,285.43 152.60,285.64 151.82,286.10C151.04,286.56 150.12,287.43 149.08,287.87C148.04,288.30 146.66,288.33 145.57,288.72C144.49,289.10 143.48,289.76 142.58,290.17C141.69,290.58 141.33,290.77 140.19,291.18C139.04,291.59 137.01,292.13 135.71,292.62C134.41,293.12 133.57,293.67 132.39,294.15C131.21,294.62 129.63,295.34 128.64,295.47C127.65,295.60 127.29,295.01 126.45,294.90C125.60,294.79 124.51,294.95 123.59,294.82C122.67,294.69 121.55,294.53 120.93,294.12C120.31,293.70 120.28,292.90 119.85,292.33C119.43,291.75 118.79,291.39 118.37,290.67C117.95,289.94 117.57,288.68 117.34,287.97C117.11,287.26 117.15,286.99 117.02,286.42C116.88,285.85 116.63,285.16 116.54,284.58C116.44,283.99 116.34,283.67 116.45,282.91Z" fill="#000" fill-opacity="0.06" stroke="#000" stroke-width="0.6" stroke-opacity="0.85"/>
<path d="M118.18,282.76C118.30,282.03 118.68,280.83 118.92,280.08C119.16,279.32 119.25,278.94 119.61,278.21C119.97,277.49 120.64,276.38 121.06,275.72C121.48,275.06 121.64,274.87 122.13,274.25C122.62,273.63 123.44,272.58 124.00,272.00C124.56,271.42 124.75,271.16 125.49,270.79C126.22,270.42 127.58,270.12 128.39,269.80C129.21,269.48 129.70,269.11 130.38,268.88C131.06,268.64 131.32,268.51 132.45,268.38C133.58,268.25 135.54,268.11 137.15,268.08C138.77,268.06 140.61,268.30 142.16,268.24C143.71,268.19 145.33,267.69 146.43,267.77C147.54,267.86 147.98,268.38 148.80,268.77C149.62,269.16 150.54,269.72 151.35,270.12C152.16,270.53 153.16,270.68 153.66,271.19C154.16,271.70 154.04,272.53 154.35,273.18C154.66,273.84 155.19,274.39 155.51,275.13C155.83,275.87 156.17,276.94 156.25,277.62C156.32,278.30 156.09,278.56 155.95,279.20C155.82,279.83 155.59,280.69 155.43,281.41C155.27,282.14 155.42,283.06 155.00,283.56C154.58,284.07 153.60,284.05 152.91,284.46C152.22,284.88 151.71,285.60 150.86,286.05C150.00,286.50 148.64,286.80 147.78,287.18C146.92,287.55 146.62,287.90 145.68,288.28C144.74,288.67 143.12,289.20 142.12,289.47C141.13,289.74 140.77,289.46 139.70,289.88C138.63,290.31 136.84,291.55 135.70,292.02C134.56,292.48 133.97,292.37 132.84,292.68C131.71,292.98 129.92,293.65 128.90,293.87C127.88,294.09 127.45,294.15 126.73,294.01C126.00,293.87 125.20,293.16 124.54,293.02C123.87,292.88 123.34,293.41 122.74,293.16C122.14,292.91 121.36,292.11 120.93,291.53C120.51,290.96 120.49,290.29 120.18,289.71C119.88,289.14 119.29,288.66 119.09,288.09C118.89,287.53 119.12,286.93 118.97,286.32C118.82,285.72 118.34,285.07 118.21,284.47C118.08,283.88 118.06,283.49 118.18,282.76Z" fill="#000" fill-opacity="0.08" stroke="#000" stroke-width="0.6" stroke-opacity="0.85"/>
<path d="M119.81,282.59C119.86,281.99 120.21,281.38 120.46,280.61C120.71,279.83 121.09,278.76 121.30,277.94C121.52,277.13 121.37,276.37 121.75,275.73C122.13,275.08 123.00,274.60 123.56,274.07C124.13,273.55 124.59,273.03 125.12,272.57C125.65,272.11 126.10,271.60 126.72,271.31C127.35,271.02 128.24,271.06 128.87,270.85C129.50,270.63 129.81,270.35 130.50,270.04C131.19,269.73 131.87,269.13 133.02,269.00C134.17,268.86 136.02,269.27 137.41,269.25C138.80,269.22 139.92,268.98 141.36,268.87C142.81,268.75 145.01,268.35 146.10,268.56C147.20,268.77 147.36,269.68 147.92,270.12C148.48,270.55 148.77,270.75 149.48,271.15C150.19,271.54 151.61,271.95 152.17,272.49C152.74,273.03 152.57,273.83 152.88,274.38C153.20,274.92 153.65,275.30 154.07,275.77C154.50,276.25 155.33,276.57 155.45,277.21C155.57,277.85 155.04,278.85 154.79,279.59C154.54,280.32 154.16,281.05 153.95,281.64C153.73,282.23 153.88,282.67 153.47,283.14C153.06,283.61 152.23,284.11 151.51,284.46C150.78,284.80 149.83,284.89 149.12,285.21C148.40,285.53 147.90,286.04 147.20,286.37C146.50,286.70 145.75,286.86 144.93,287.19C144.11,287.52 143.22,287.99 142.30,288.34C141.37,288.69 140.39,288.82 139.37,289.27C138.36,289.73 137.25,290.62 136.22,291.09C135.19,291.57 134.27,291.82 133.19,292.11C132.11,292.41 130.67,292.77 129.74,292.87C128.81,292.97 128.26,292.78 127.60,292.72C126.95,292.66 126.54,292.61 125.80,292.50C125.06,292.39 123.65,292.42 123.16,292.05C122.67,291.69 123.21,290.90 122.86,290.31C122.51,289.72 121.54,289.09 121.06,288.51C120.58,287.93 120.05,287.31 119.97,286.83C119.89,286.35 120.55,286.06 120.58,285.63C120.61,285.19 120.26,284.72 120.13,284.21C120.00,283.70 119.75,283.19 119.81,282.59Z" fill="#000" fill-opacity="0.1" stroke="#000" stroke-width="0.6" stroke-opacity="0.85"/>
<path d="M121.70,281.00C121.37,278.67 122.62,275.17 124.00,273.00C125.38,270.83 127.33,269.08 130.00,268.00C132.67,266.92 136.67,266.67 140.00,266.50C143.33,266.33 147.33,266.25 150.00,267.00C152.67,267.75 154.80,269.17 156.00,271.00C157.20,272.83 157.53,275.67 157.20,278.00C156.87,280.33 155.87,283.50 154.00,285.00C152.13,286.50 149.00,286.65 146.00,287.00C143.00,287.35 139.33,287.10 136.00,287.10C132.67,287.10 128.38,288.02 126.00,287.00C123.62,285.98 122.03,283.33 121.70,281.00Z" fill="#000" fill-opacity="0.55" filter="url(#bl)"/><path d="M121.70,281.00C121.37,278.67 122.62,275.17 124.00,273.00C125.38,270.83 127.33,269.08 130.00,268.00C132.67,266.92 136.67,266.67 140.00,266.50C143.33,266.33 147.33,266.25 150.00,267.00C152.67,267.75 154.80,269.17 156.00,271.00C157.20,272.83 157.53,275.67 157.20,278.00C156.87,280.33 155.87,283.50 154.00,285.00C152.13,286.50 149.00,286.65 146.00,287.00C143.00,287.35 139.33,287.10 136.00,287.10C132.67,287.10 128.38,288.02 126.00,287.00C123.62,285.98 122.03,283.33 121.70,281.00Z" fill="#000" fill-opacity="0.95" filter="url(#tx)"/>
<ellipse cx="126" cy="281" rx="1.3" ry="1.8" fill="#fff" fill-opacity="0.55" filter="url(#bl)"/>
<ellipse cx="131" cy="280.5" rx="1.6" ry="2.2" fill="#fff" fill-opacity="0.55" filter="url(#bl)"/>
<ellipse cx="139" cy="273" rx="2.2" ry="1.3" fill="#fff" fill-opacity="0.55" filter="url(#bl)"/>
<ellipse cx="146" cy="282" rx="1.4" ry="1.8" fill="#fff" fill-opacity="0.55" filter="url(#bl)"/>
<ellipse cx="136" cy="283" rx="1.4" ry="1.2" fill="#fff" fill-opacity="0.55" filter="url(#bl)"/>
<ellipse cx="143" cy="278" rx="1.2" ry="2.5" fill="#fff" fill-opacity="0.55" filter="url(#bl)"/>
<ellipse cx="150" cy="276" rx="1.2" ry="1.6" fill="#fff" fill-opacity="0.55" filter="url(#bl)"/></g>
<g clip-path="url(#c20)"><path d="M33.37,343.60C35.05,342.55 39.58,343.62 42.77,343.61C45.96,343.61 49.28,343.65 52.51,343.59C55.74,343.52 60.49,343.07 62.16,343.24C63.84,343.41 62.40,344.26 62.55,344.63C62.70,345.00 62.98,345.15 63.04,345.47C63.10,345.80 63.24,345.66 62.91,346.58C62.58,347.51 61.78,349.77 61.05,351.04C60.32,352.31 59.33,353.01 58.54,354.22C57.75,355.42 57.04,357.11 56.29,358.26C55.54,359.41 54.80,360.06 54.06,361.12C53.31,362.17 52.53,363.46 51.82,364.60C51.12,365.73 50.43,367.08 49.84,367.94C49.24,368.80 48.92,369.28 48.26,369.76C47.60,370.23 46.58,370.46 45.87,370.79C45.15,371.13 44.54,371.76 43.99,371.76C43.43,371.76 43.13,371.21 42.55,370.80C41.97,370.39 41.34,369.80 40.51,369.32C39.68,368.83 38.25,368.27 37.56,367.90C36.88,367.52 36.83,367.49 36.42,367.06C36.01,366.63 35.68,365.88 35.10,365.31C34.52,364.74 33.25,365.04 32.92,363.64C32.59,362.24 33.17,359.20 33.13,356.91C33.09,354.62 32.65,352.12 32.69,349.90C32.73,347.68 31.69,344.65 33.37,343.60Z" fill="#000" fill-opacity="0.0" stroke="#000" stroke-width="0.6" stroke-opacity="0.85"/>
<path d="M33.75,344.52C35.16,343.52 39.65,344.74 42.56,344.77C45.47,344.80 48.33,344.82 51.23,344.68C54.13,344.54 58.36,343.84 59.97,343.92C61.57,344.00 60.65,344.79 60.86,345.17C61.07,345.54 61.21,345.74 61.23,346.17C61.25,346.60 61.28,346.92 60.98,347.75C60.67,348.57 60.03,350.12 59.41,351.12C58.79,352.12 58.00,352.65 57.27,353.73C56.53,354.80 55.72,356.41 55.02,357.59C54.32,358.77 53.72,359.75 53.06,360.79C52.41,361.83 51.64,362.96 51.08,363.82C50.52,364.68 50.31,365.30 49.70,365.96C49.08,366.62 47.93,367.35 47.38,367.77C46.84,368.19 46.94,368.06 46.43,368.48C45.91,368.90 44.99,370.18 44.29,370.30C43.59,370.41 42.85,369.70 42.24,369.18C41.63,368.67 41.22,367.69 40.61,367.23C40.00,366.78 39.16,366.78 38.58,366.47C38.00,366.16 37.68,365.73 37.14,365.36C36.61,364.99 35.89,364.67 35.38,364.27C34.87,363.86 34.25,364.21 34.08,362.93C33.90,361.65 34.31,358.60 34.32,356.58C34.32,354.55 34.19,352.77 34.10,350.76C34.00,348.75 32.34,345.51 33.75,344.52Z" fill="#000" fill-opacity="0.015" stroke="#000" stroke-width="0.6" stroke-opacity="0.85"/>
<path d="M35.80,345.46C37.08,344.49 40.75,344.98 43.19,345.01C45.64,345.04 47.87,345.55 50.47,345.63C53.07,345.71 57.40,345.39 58.78,345.49C60.17,345.60 58.62,345.92 58.77,346.23C58.92,346.54 59.52,347.10 59.67,347.36C59.82,347.63 60.00,347.17 59.65,347.83C59.30,348.48 58.25,350.25 57.58,351.28C56.90,352.32 56.22,353.05 55.61,354.03C54.99,355.01 54.41,356.28 53.89,357.16C53.37,358.03 53.10,358.48 52.48,359.27C51.85,360.07 50.74,360.99 50.15,361.92C49.56,362.85 49.32,364.16 48.93,364.88C48.54,365.60 48.35,365.84 47.79,366.24C47.24,366.64 46.10,366.93 45.60,367.29C45.10,367.65 45.25,368.49 44.80,368.41C44.35,368.33 43.44,367.16 42.88,366.78C42.32,366.41 41.97,366.44 41.42,366.17C40.87,365.90 40.15,365.64 39.57,365.17C38.98,364.70 38.39,363.73 37.93,363.36C37.46,362.99 37.25,363.19 36.78,362.93C36.32,362.68 35.30,363.00 35.13,361.83C34.96,360.65 35.73,357.73 35.79,355.89C35.85,354.06 35.49,352.57 35.50,350.83C35.50,349.09 34.52,346.43 35.80,345.46Z" fill="#000" fill-opacity="0.03" stroke="#000" stroke-width="0.6" stroke-opacity="0.85"/>
<path d="M36.57,345.79C37.61,344.96 40.84,346.24 43.15,346.28C45.45,346.31 48.17,346.01 50.40,346.01C52.63,346.02 55.36,346.22 56.53,346.33C57.70,346.43 57.26,346.34 57.42,346.63C57.59,346.91 57.42,347.72 57.53,348.04C57.64,348.36 58.34,348.00 58.09,348.52C57.84,349.04 56.70,350.34 56.04,351.15C55.37,351.95 54.70,352.48 54.10,353.36C53.50,354.23 52.90,355.51 52.41,356.38C51.93,357.25 51.61,357.84 51.18,358.59C50.74,359.34 50.31,360.18 49.81,360.88C49.31,361.58 48.55,362.26 48.18,362.79C47.82,363.32 48.08,363.64 47.64,364.04C47.20,364.45 46.00,364.95 45.53,365.23C45.07,365.52 45.23,365.80 44.84,365.76C44.45,365.72 43.71,365.31 43.17,364.97C42.64,364.63 42.19,363.95 41.61,363.73C41.03,363.50 40.07,363.89 39.68,363.64C39.29,363.40 39.57,362.67 39.26,362.25C38.95,361.83 38.23,361.44 37.83,361.12C37.43,360.80 36.99,361.21 36.85,360.33C36.71,359.46 37.00,357.37 37.00,355.86C37.01,354.34 36.96,352.93 36.89,351.25C36.81,349.57 35.53,346.61 36.57,345.79Z" fill="#000" fill-opacity="0.045" stroke="#000" stroke-width="0.6" stroke-opacity="0.85"/>
<path d="M37.58,346.48C38.56,345.78 41.42,346.61 43.33,346.61C45.24,346.61 47.04,346.39 49.03,346.50C51.01,346.60 54.19,346.98 55.25,347.23C56.31,347.48 55.27,347.89 55.40,348.00C55.54,348.11 55.95,347.76 56.05,347.91C56.15,348.06 56.33,348.29 56.01,348.91C55.69,349.53 54.67,350.85 54.14,351.61C53.61,352.37 53.22,352.73 52.82,353.46C52.42,354.19 52.10,355.34 51.73,356.01C51.35,356.69 50.98,356.96 50.55,357.50C50.12,358.05 49.51,358.54 49.15,359.29C48.80,360.05 48.84,361.59 48.42,362.04C48.00,362.49 47.11,361.83 46.63,362.00C46.15,362.18 45.81,362.70 45.54,363.11C45.27,363.51 45.32,364.47 45.00,364.42C44.69,364.38 44.11,363.13 43.66,362.83C43.22,362.53 42.79,362.74 42.34,362.61C41.88,362.48 41.42,362.39 40.93,362.04C40.44,361.68 39.72,360.75 39.40,360.48C39.08,360.21 39.27,360.64 39.03,360.40C38.79,360.15 38.15,359.86 37.96,359.02C37.77,358.18 37.97,356.70 37.88,355.33C37.80,353.97 37.50,352.32 37.44,350.84C37.39,349.37 36.60,347.19 37.58,346.48Z" fill="#000" fill-opacity="0.06" stroke="#000" stroke-width="0.6" stroke-opacity="0.85"/>
<path d="M38.78,347.41C39.65,346.73 42.21,347.45 43.82,347.45C45.42,347.45 46.79,347.45 48.43,347.43C50.07,347.41 52.75,347.21 53.66,347.31C54.57,347.42 53.93,347.73 53.90,348.06C53.87,348.39 53.49,349.00 53.48,349.30C53.47,349.61 53.89,349.49 53.85,349.89C53.81,350.29 53.64,351.15 53.23,351.68C52.82,352.22 51.89,352.50 51.38,353.12C50.86,353.74 50.40,354.78 50.14,355.39C49.88,356.00 50.09,356.31 49.81,356.78C49.53,357.25 48.79,357.66 48.46,358.19C48.12,358.72 48.09,359.62 47.79,359.98C47.49,360.34 47.08,360.20 46.68,360.36C46.28,360.53 45.68,360.68 45.38,360.97C45.08,361.26 45.24,361.98 44.89,362.10C44.55,362.22 43.74,361.95 43.31,361.70C42.89,361.45 42.71,360.92 42.36,360.60C42.00,360.29 41.42,360.03 41.19,359.79C40.96,359.56 41.25,359.37 40.97,359.18C40.70,359.00 39.89,358.80 39.53,358.66C39.18,358.52 38.98,358.97 38.84,358.36C38.69,357.76 38.69,356.15 38.65,355.01C38.61,353.87 38.58,352.79 38.60,351.52C38.62,350.26 37.91,348.09 38.78,347.41Z" fill="#000" fill-opacity="0.07" stroke="#000" stroke-width="0.6" stroke-opacity="0.85"/>
<path d="M40.11,348.17C40.75,347.67 42.71,348.24 44.00,348.24C45.29,348.24 46.53,348.06 47.86,348.16C49.20,348.27 51.20,348.68 52.02,348.87C52.83,349.06 52.74,349.24 52.76,349.30C52.77,349.36 52.07,349.19 52.11,349.22C52.15,349.25 53.05,349.16 53.00,349.50C52.95,349.84 52.16,350.75 51.84,351.25C51.52,351.76 51.38,352.02 51.06,352.54C50.73,353.06 50.33,353.89 49.90,354.38C49.46,354.86 48.73,354.98 48.46,355.47C48.18,355.97 48.51,356.81 48.24,357.34C47.97,357.88 47.08,358.38 46.82,358.66C46.56,358.94 46.89,358.89 46.69,359.04C46.48,359.19 45.97,359.27 45.60,359.54C45.23,359.82 44.72,360.68 44.46,360.69C44.20,360.69 44.36,359.89 44.04,359.60C43.73,359.30 42.89,359.07 42.58,358.92C42.26,358.78 42.39,358.89 42.16,358.72C41.92,358.54 41.39,358.05 41.16,357.90C40.92,357.74 40.91,357.92 40.76,357.79C40.61,357.66 40.42,357.78 40.24,357.11C40.06,356.45 39.70,354.76 39.69,353.78C39.68,352.80 40.10,352.15 40.17,351.22C40.24,350.28 39.47,348.67 40.11,348.17Z" fill="#000" fill-opacity="0.08" stroke="#000" stroke-width="0.6" stroke-opacity="0.85"/>
<path d="M41.12,348.71C41.68,348.34 43.37,348.84 44.49,348.96C45.60,349.08 46.75,349.49 47.80,349.44C48.85,349.39 50.19,348.67 50.77,348.67C51.35,348.68 51.18,349.32 51.29,349.49C51.39,349.66 51.45,349.51 51.39,349.69C51.32,349.88 51.09,350.34 50.91,350.60C50.72,350.86 50.50,350.86 50.25,351.24C50.01,351.62 49.77,352.41 49.44,352.88C49.11,353.35 48.53,353.67 48.29,354.06C48.06,354.44 48.22,354.78 48.01,355.19C47.80,355.59 47.21,356.07 47.04,356.50C46.87,356.93 47.17,357.50 46.98,357.77C46.80,358.03 46.18,357.96 45.90,358.09C45.63,358.23 45.57,358.42 45.32,358.60C45.07,358.77 44.54,359.21 44.40,359.17C44.26,359.13 44.65,358.57 44.48,358.36C44.31,358.16 43.66,358.16 43.36,357.93C43.05,357.71 42.80,357.21 42.65,357.01C42.51,356.81 42.72,356.88 42.47,356.74C42.23,356.60 41.50,356.24 41.20,356.18C40.90,356.11 40.81,356.83 40.70,356.37C40.58,355.90 40.43,354.26 40.50,353.39C40.56,352.53 41.00,351.94 41.10,351.16C41.20,350.38 40.55,349.08 41.12,348.71Z" fill="#000" fill-opacity="0.1" stroke="#000" stroke-width="0.6" stroke-opacity="0.85"/>
<path d="M41.00,350.00C41.42,348.00 42.33,345.92 44.00,345.00C45.67,344.08 49.17,344.17 51.00,344.50C52.83,344.83 54.67,345.25 55.00,347.00C55.33,348.75 54.00,352.67 53.00,355.00C52.00,357.33 50.50,359.83 49.00,361.00C47.50,362.17 45.25,362.67 44.00,362.00C42.75,361.33 42.00,359.00 41.50,357.00C41.00,355.00 40.58,352.00 41.00,350.00Z" fill="#000" fill-opacity="0.14" filter="url(#bl)"/><path d="M41.00,350.00C41.42,348.00 42.33,345.92 44.00,345.00C45.67,344.08 49.17,344.17 51.00,344.50C52.83,344.83 54.67,345.25 55.00,347.00C55.33,348.75 54.00,352.67 53.00,355.00C52.00,357.33 50.50,359.83 49.00,361.00C47.50,362.17 45.25,362.67 44.00,362.00C42.75,361.33 42.00,359.00 41.50,357.00C41.00,355.00 40.58,352.00 41.00,350.00Z" fill="#000" fill-opacity="0.72" filter="url(#tx)"/>
<ellipse cx="46" cy="354" rx="1" ry="1.3" fill="#fff" fill-opacity="0.7"/></g>
<g clip-path="url(#c21)"><path d="M116.57,357.09C116.72,356.35 117.41,355.54 117.74,354.69C118.06,353.84 118.25,352.72 118.52,351.98C118.78,351.23 119.04,350.80 119.33,350.20C119.62,349.59 119.76,348.80 120.26,348.33C120.76,347.85 121.74,347.78 122.33,347.33C122.92,346.89 122.98,345.94 123.80,345.66C124.62,345.38 126.09,345.56 127.25,345.67C128.41,345.78 129.68,346.26 130.75,346.32C131.82,346.39 132.66,346.28 133.68,346.07C134.71,345.85 135.90,345.20 136.89,345.03C137.88,344.86 138.79,345.24 139.63,345.06C140.46,344.88 140.45,344.10 141.90,343.93C143.35,343.76 146.30,343.94 148.31,344.02C150.31,344.10 151.92,344.43 153.91,344.40C155.90,344.37 158.98,343.67 160.25,343.85C161.51,344.04 160.97,344.87 161.50,345.52C162.03,346.17 162.75,347.12 163.41,347.77C164.07,348.41 165.17,348.61 165.47,349.37C165.78,350.13 165.44,351.37 165.25,352.31C165.06,353.25 164.39,354.00 164.33,355.02C164.28,356.03 165.17,357.57 164.91,358.39C164.65,359.21 163.32,359.35 162.77,359.93C162.23,360.51 162.08,361.26 161.62,361.88C161.16,362.49 160.86,363.06 160.03,363.61C159.19,364.17 157.79,364.79 156.61,365.20C155.42,365.61 153.93,365.63 152.90,366.08C151.87,366.52 151.40,367.55 150.42,367.85C149.45,368.15 148.20,367.79 147.06,367.85C145.92,367.91 144.73,368.26 143.61,368.21C142.49,368.17 141.37,367.65 140.35,367.58C139.32,367.51 138.38,367.75 137.46,367.79C136.54,367.83 135.73,367.70 134.83,367.80C133.92,367.89 132.71,368.19 132.04,368.38C131.36,368.58 131.22,368.65 130.78,368.98C130.33,369.30 129.75,369.93 129.35,370.34C128.96,370.75 129.05,371.27 128.41,371.41C127.76,371.55 126.39,371.33 125.49,371.20C124.59,371.07 123.67,370.82 122.99,370.62C122.31,370.42 122.00,370.45 121.41,370.01C120.82,369.57 119.97,368.69 119.46,367.97C118.95,367.25 118.83,366.40 118.36,365.68C117.90,364.97 116.92,364.35 116.66,363.67C116.40,362.98 116.79,362.34 116.81,361.58C116.84,360.82 116.85,359.85 116.81,359.10C116.77,358.35 116.41,357.83 116.57,357.09Z" fill="#000" fill-opacity="0.02" stroke="#000" stroke-width="0.6" stroke-opacity="0.85"/>
<path d="M118.45,356.90C118.55,356.14 119.47,355.50 119.75,354.79C120.02,354.08 120.01,353.36 120.12,352.66C120.23,351.95 120.07,351.12 120.41,350.54C120.76,349.96 121.62,349.60 122.19,349.15C122.77,348.70 123.39,348.30 123.88,347.84C124.38,347.38 124.44,346.60 125.16,346.40C125.88,346.20 127.14,346.59 128.18,346.64C129.22,346.69 130.42,346.73 131.42,346.71C132.43,346.68 133.19,346.65 134.19,346.50C135.19,346.34 136.53,345.96 137.44,345.77C138.34,345.59 138.90,345.48 139.64,345.38C140.38,345.29 140.57,345.27 141.88,345.21C143.18,345.15 145.62,345.15 147.47,345.01C149.31,344.88 150.98,344.43 152.92,344.38C154.87,344.33 157.96,344.41 159.14,344.72C160.33,345.02 159.56,345.66 160.03,346.22C160.50,346.78 161.44,347.59 161.98,348.08C162.52,348.57 162.98,348.45 163.29,349.17C163.60,349.90 163.91,351.48 163.84,352.42C163.78,353.37 163.06,353.93 162.90,354.85C162.74,355.77 163.06,357.10 162.86,357.95C162.66,358.80 162.10,359.37 161.70,359.96C161.31,360.56 160.94,360.92 160.49,361.53C160.05,362.13 159.78,363.10 159.02,363.59C158.27,364.08 156.97,364.10 155.94,364.46C154.92,364.83 153.88,365.47 152.87,365.79C151.86,366.11 150.90,366.28 149.88,366.38C148.86,366.48 147.80,366.29 146.74,366.40C145.69,366.51 144.64,366.86 143.55,367.04C142.46,367.23 141.17,367.51 140.21,367.51C139.25,367.50 138.58,367.03 137.79,367.02C137.01,367.00 136.33,367.43 135.51,367.43C134.68,367.42 133.54,366.86 132.87,366.98C132.20,367.11 131.88,367.81 131.49,368.17C131.09,368.53 130.91,368.75 130.49,369.14C130.07,369.52 129.57,370.38 128.95,370.49C128.33,370.60 127.44,369.90 126.78,369.78C126.11,369.66 125.67,369.91 124.97,369.76C124.26,369.61 123.20,369.37 122.54,368.90C121.88,368.43 121.48,367.51 121.02,366.91C120.55,366.31 120.09,365.95 119.74,365.30C119.39,364.65 118.98,363.71 118.89,363.00C118.80,362.29 119.16,361.65 119.20,361.04C119.24,360.43 119.25,360.02 119.13,359.33C119.00,358.64 118.35,357.66 118.45,356.90Z" fill="#000" fill-opacity="0.03" stroke="#000" stroke-width="0.6" stroke-opacity="0.85"/>
<path d="M120.41,355.23C120.34,354.70 120.41,354.67 120.43,354.04C120.46,353.40 120.37,352.10 120.56,351.43C120.75,350.75 121.08,350.31 121.56,350.00C122.04,349.69 122.93,349.73 123.44,349.58C123.96,349.43 124.21,349.38 124.67,349.12C125.13,348.85 125.67,348.11 126.22,348.02C126.77,347.92 127.46,348.33 127.97,348.57C128.48,348.80 128.79,349.11 129.27,349.42C129.76,349.72 130.47,350.00 130.87,350.40C131.26,350.81 131.53,351.33 131.66,351.86C131.79,352.38 131.51,352.94 131.64,353.55C131.76,354.17 132.34,354.87 132.41,355.56C132.48,356.24 132.15,357.08 132.07,357.68C131.98,358.28 132.10,358.58 131.92,359.15C131.73,359.73 131.29,360.72 130.95,361.11C130.60,361.51 130.37,361.27 129.85,361.53C129.33,361.78 128.48,362.40 127.83,362.62C127.17,362.84 126.36,362.83 125.90,362.84C125.44,362.84 125.53,362.88 125.06,362.63C124.59,362.37 123.61,361.56 123.08,361.32C122.54,361.07 122.15,361.46 121.86,361.17C121.56,360.89 121.46,360.26 121.29,359.61C121.12,358.96 121.00,357.99 120.85,357.26C120.70,356.53 120.48,355.77 120.41,355.23Z" fill="#000" fill-opacity="0.04" stroke="#000" stroke-width="0.6" stroke-opacity="0.85"/>
<path d="M121.24,355.31C121.29,354.89 121.81,354.60 121.94,354.13C122.07,353.65 121.88,352.91 122.02,352.46C122.16,352.02 122.51,351.66 122.79,351.47C123.08,351.28 123.33,351.57 123.72,351.32C124.11,351.07 124.75,350.16 125.15,349.96C125.55,349.77 125.77,350.04 126.12,350.13C126.47,350.23 126.89,350.45 127.23,350.55C127.56,350.64 127.67,350.55 128.15,350.70C128.63,350.85 129.75,351.16 130.11,351.45C130.47,351.75 130.25,352.02 130.33,352.48C130.40,352.93 130.48,353.65 130.55,354.17C130.61,354.70 130.71,355.11 130.71,355.63C130.72,356.16 130.66,356.90 130.58,357.32C130.50,357.75 130.43,357.84 130.24,358.17C130.06,358.50 129.69,359.05 129.46,359.32C129.22,359.58 129.24,359.60 128.83,359.77C128.43,359.94 127.48,360.05 127.04,360.33C126.60,360.60 126.54,361.32 126.22,361.42C125.90,361.51 125.59,361.19 125.13,360.90C124.67,360.61 123.82,359.93 123.46,359.69C123.09,359.45 123.08,359.73 122.92,359.47C122.76,359.20 122.71,358.59 122.49,358.12C122.28,357.65 121.84,357.13 121.63,356.66C121.42,356.20 121.19,355.73 121.24,355.31Z" fill="#000" fill-opacity="0.06" stroke="#000" stroke-width="0.6" stroke-opacity="0.85"/>
<path d="M122.74,355.86C122.77,355.57 123.29,354.83 123.42,354.45C123.56,354.06 123.55,353.79 123.55,353.56C123.56,353.34 123.26,353.22 123.45,353.10C123.64,352.98 124.39,352.98 124.71,352.83C125.03,352.68 125.15,352.44 125.36,352.19C125.57,351.94 125.64,351.30 125.97,351.34C126.31,351.37 127.11,352.16 127.39,352.40C127.66,352.64 127.38,352.75 127.63,352.78C127.88,352.80 128.67,352.36 128.88,352.57C129.10,352.79 128.91,353.68 128.94,354.08C128.98,354.48 129.07,354.77 129.10,354.99C129.13,355.21 129.09,355.20 129.12,355.40C129.15,355.60 129.37,355.79 129.30,356.17C129.22,356.54 128.80,357.28 128.68,357.67C128.56,358.06 128.77,358.41 128.59,358.51C128.40,358.62 127.85,358.27 127.57,358.29C127.28,358.31 127.03,358.51 126.87,358.63C126.72,358.76 126.86,359.07 126.62,359.06C126.39,359.05 125.80,358.67 125.47,358.57C125.15,358.47 124.95,358.60 124.66,358.48C124.38,358.36 124.00,358.00 123.76,357.86C123.53,357.72 123.35,357.91 123.26,357.63C123.17,357.35 123.30,356.48 123.22,356.19C123.13,355.89 122.70,356.15 122.74,355.86Z" fill="#000" fill-opacity="0.08" stroke="#000" stroke-width="0.6" stroke-opacity="0.85"/>
<path d="M124.37,355.31C124.38,355.03 124.43,354.77 124.54,354.62C124.65,354.48 125.02,354.49 125.05,354.44C125.08,354.39 124.71,354.43 124.72,354.31C124.72,354.20 124.82,353.89 125.05,353.75C125.28,353.61 125.93,353.43 126.11,353.46C126.29,353.49 126.02,353.92 126.15,353.93C126.28,353.93 126.75,353.45 126.87,353.48C126.99,353.52 126.80,353.98 126.87,354.16C126.94,354.33 127.22,354.40 127.29,354.54C127.35,354.68 127.20,354.95 127.26,354.99C127.32,355.03 127.58,354.77 127.65,354.80C127.73,354.83 127.70,355.01 127.73,355.17C127.76,355.33 127.81,355.52 127.84,355.74C127.86,355.96 127.98,356.34 127.88,356.50C127.79,356.65 127.41,356.60 127.28,356.65C127.15,356.69 127.16,356.75 127.10,356.78C127.04,356.82 127.08,356.76 126.94,356.87C126.79,356.97 126.43,357.32 126.21,357.41C125.99,357.51 125.75,357.49 125.60,357.45C125.45,357.41 125.40,357.31 125.31,357.18C125.23,357.06 125.17,356.89 125.09,356.70C125.00,356.51 124.90,356.12 124.80,356.04C124.70,355.97 124.56,356.40 124.48,356.27C124.41,356.15 124.36,355.58 124.37,355.31Z" fill="#000" fill-opacity="0.1" stroke="#000" stroke-width="0.6" stroke-opacity="0.85"/>
<path d="M134.84,352.15C134.95,351.42 135.53,350.75 135.98,350.06C136.43,349.36 137.07,348.74 137.54,348.00C138.01,347.26 137.99,346.08 138.82,345.61C139.64,345.13 141.30,345.26 142.50,345.15C143.69,345.05 144.78,345.17 146.00,345.00C147.21,344.82 148.52,344.20 149.80,344.11C151.09,344.02 152.50,344.38 153.70,344.45C154.90,344.52 156.02,344.60 157.01,344.53C158.01,344.45 158.96,343.76 159.67,344.00C160.37,344.24 160.61,345.42 161.24,345.96C161.88,346.51 162.87,346.74 163.48,347.27C164.09,347.80 164.69,348.39 164.92,349.14C165.15,349.89 164.89,350.82 164.85,351.77C164.80,352.73 164.77,353.88 164.65,354.87C164.52,355.86 164.61,356.80 164.12,357.71C163.62,358.63 162.30,359.63 161.65,360.37C161.00,361.12 160.89,361.66 160.21,362.19C159.53,362.73 158.56,363.22 157.59,363.59C156.61,363.95 155.43,364.12 154.36,364.39C153.29,364.67 152.29,364.99 151.16,365.23C150.03,365.47 148.54,365.86 147.59,365.83C146.64,365.80 146.23,365.23 145.46,365.05C144.69,364.86 143.85,364.94 142.97,364.73C142.10,364.52 140.98,364.15 140.19,363.78C139.41,363.41 138.89,363.09 138.27,362.50C137.66,361.91 137.03,360.76 136.53,360.22C136.04,359.68 135.59,359.91 135.30,359.25C135.01,358.59 134.80,357.06 134.81,356.26C134.81,355.45 135.31,355.11 135.32,354.43C135.32,353.75 134.73,352.88 134.84,352.15Z" fill="#000" fill-opacity="0.0" stroke="#000" stroke-width="0.6" stroke-opacity="0.85"/>
<path d="M136.69,351.97C136.83,351.32 137.53,351.16 137.95,350.66C138.37,350.16 138.74,349.68 139.24,348.97C139.73,348.27 140.10,346.90 140.92,346.43C141.75,345.96 143.08,346.23 144.18,346.16C145.27,346.10 146.48,346.24 147.52,346.02C148.56,345.79 149.32,344.96 150.40,344.81C151.48,344.66 152.90,345.02 154.00,345.11C155.10,345.20 156.02,345.29 156.99,345.35C157.96,345.41 159.11,345.27 159.81,345.48C160.52,345.68 160.82,346.12 161.22,346.58C161.61,347.04 161.73,347.75 162.20,348.24C162.67,348.73 163.70,348.91 164.04,349.51C164.37,350.12 164.24,351.04 164.19,351.86C164.14,352.69 163.87,353.49 163.74,354.49C163.60,355.49 163.81,357.05 163.38,357.88C162.96,358.70 161.75,358.87 161.19,359.44C160.63,360.02 160.58,360.77 160.02,361.32C159.46,361.88 158.78,362.42 157.84,362.77C156.90,363.13 155.42,363.28 154.40,363.47C153.38,363.66 152.68,363.76 151.72,363.93C150.76,364.10 149.49,364.40 148.63,364.47C147.77,364.54 147.40,364.54 146.59,364.35C145.78,364.17 144.59,363.60 143.76,363.37C142.94,363.13 142.16,363.28 141.61,362.95C141.07,362.62 141.02,361.80 140.49,361.37C139.96,360.93 139.04,360.81 138.42,360.35C137.80,359.88 137.02,359.17 136.78,358.56C136.53,357.95 136.89,357.35 136.95,356.68C137.01,356.01 137.19,355.32 137.14,354.53C137.10,353.75 136.56,352.62 136.69,351.97Z" fill="#000" fill-opacity="0.015" stroke="#000" stroke-width="0.6" stroke-opacity="0.85"/>
<path d="M138.90,352.55C139.11,351.96 139.91,351.27 140.36,350.77C140.80,350.26 141.29,350.06 141.57,349.50C141.86,348.94 141.45,347.85 142.05,347.41C142.66,346.97 144.24,347.02 145.21,346.86C146.18,346.69 146.92,346.53 147.87,346.44C148.82,346.36 149.94,346.45 150.93,346.34C151.92,346.24 152.91,345.85 153.82,345.81C154.73,345.78 155.50,346.12 156.38,346.13C157.25,346.14 158.45,345.72 159.08,345.86C159.71,346.01 159.61,346.49 160.15,347.00C160.69,347.51 161.86,348.41 162.31,348.95C162.76,349.48 162.65,349.61 162.83,350.20C163.00,350.78 163.45,351.69 163.37,352.46C163.28,353.22 162.49,354.05 162.31,354.79C162.14,355.53 162.59,356.33 162.34,356.92C162.09,357.52 161.30,357.76 160.84,358.36C160.38,358.96 160.10,359.86 159.58,360.53C159.06,361.20 158.47,362.10 157.71,362.39C156.96,362.69 156.02,362.25 155.07,362.31C154.12,362.37 153.02,362.49 152.04,362.74C151.06,363.00 149.89,363.82 149.17,363.85C148.46,363.87 148.46,363.08 147.77,362.88C147.08,362.69 145.76,362.74 145.05,362.66C144.34,362.57 144.09,362.67 143.51,362.38C142.93,362.09 142.02,361.39 141.57,360.92C141.12,360.45 141.25,360.09 140.83,359.55C140.41,359.02 139.27,358.31 139.04,357.72C138.82,357.12 139.49,356.54 139.49,355.97C139.50,355.40 139.18,354.88 139.08,354.31C138.98,353.74 138.69,353.14 138.90,352.55Z" fill="#000" fill-opacity="0.03" stroke="#000" stroke-width="0.6" stroke-opacity="0.85"/>
<path d="M141.18,352.90C141.33,352.31 141.66,351.28 142.00,350.79C142.34,350.29 142.83,350.28 143.23,349.92C143.63,349.55 143.75,348.84 144.39,348.59C145.02,348.33 146.22,348.55 147.03,348.38C147.84,348.21 148.48,347.80 149.23,347.56C149.97,347.32 150.66,347.09 151.49,346.96C152.32,346.83 153.35,346.78 154.21,346.76C155.06,346.74 155.88,346.70 156.64,346.84C157.39,346.97 158.26,347.39 158.75,347.56C159.24,347.73 159.21,347.59 159.60,347.85C159.99,348.10 160.60,348.73 161.08,349.10C161.56,349.47 162.28,349.42 162.50,350.05C162.72,350.69 162.44,352.16 162.37,352.92C162.31,353.68 162.25,353.96 162.09,354.63C161.93,355.30 161.72,356.36 161.40,356.95C161.09,357.53 160.67,357.70 160.21,358.13C159.75,358.56 159.10,359.02 158.65,359.54C158.21,360.07 158.09,361.02 157.55,361.29C157.01,361.56 156.26,361.07 155.43,361.16C154.60,361.26 153.38,361.70 152.55,361.88C151.72,362.07 151.17,362.32 150.46,362.26C149.74,362.21 148.92,361.70 148.26,361.56C147.60,361.42 147.01,361.46 146.51,361.43C146.00,361.40 145.65,361.56 145.22,361.37C144.80,361.17 144.35,360.69 143.96,360.26C143.57,359.83 143.28,359.30 142.88,358.77C142.49,358.25 141.82,357.57 141.58,357.10C141.34,356.64 141.54,356.43 141.46,355.96C141.38,355.50 141.16,354.81 141.12,354.30C141.07,353.79 141.04,353.48 141.18,352.90Z" fill="#000" fill-opacity="0.045" stroke="#000" stroke-width="0.6" stroke-opacity="0.85"/>
<path d="M143.81,352.78C144.04,352.31 144.16,351.76 144.33,351.42C144.51,351.08 144.69,351.16 144.86,350.75C145.03,350.33 144.82,349.25 145.38,348.92C145.93,348.59 147.42,348.84 148.16,348.79C148.90,348.74 149.14,348.72 149.83,348.62C150.51,348.52 151.54,348.27 152.28,348.19C153.03,348.11 153.63,348.17 154.32,348.15C155.02,348.12 155.84,348.08 156.46,348.03C157.08,347.97 157.50,347.65 158.05,347.83C158.60,348.02 159.42,348.70 159.75,349.12C160.08,349.55 159.81,350.11 160.05,350.37C160.29,350.62 160.98,350.27 161.18,350.64C161.37,351.00 161.26,351.91 161.23,352.58C161.20,353.25 161.10,354.00 160.99,354.65C160.88,355.30 160.84,355.97 160.55,356.47C160.26,356.96 159.60,357.29 159.25,357.61C158.91,357.94 158.84,358.09 158.48,358.42C158.12,358.76 157.67,359.23 157.12,359.62C156.56,360.00 155.79,360.50 155.15,360.73C154.50,360.96 153.86,360.97 153.25,360.99C152.63,361.01 151.97,360.85 151.43,360.85C150.90,360.85 150.67,361.03 150.04,361.00C149.41,360.97 148.27,360.91 147.64,360.70C147.02,360.48 146.61,359.98 146.30,359.70C146.00,359.43 146.09,359.40 145.81,359.06C145.54,358.72 145.01,358.08 144.65,357.67C144.29,357.26 143.90,356.97 143.65,356.60C143.40,356.24 143.28,355.87 143.16,355.49C143.05,355.10 142.86,354.74 142.96,354.28C143.07,353.83 143.58,353.26 143.81,352.78Z" fill="#000" fill-opacity="0.06" stroke="#000" stroke-width="0.6" stroke-opacity="0.85"/>
<path d="M145.24,352.82C145.36,352.46 146.03,352.22 146.35,351.93C146.68,351.65 146.94,351.42 147.18,351.11C147.43,350.80 147.41,350.24 147.83,350.06C148.26,349.88 149.20,350.11 149.71,350.03C150.21,349.96 150.34,349.74 150.87,349.62C151.39,349.50 152.20,349.38 152.86,349.34C153.52,349.30 154.31,349.45 154.83,349.39C155.35,349.33 155.43,348.97 155.99,348.99C156.56,349.00 157.71,349.42 158.21,349.50C158.72,349.59 158.78,349.35 159.03,349.49C159.29,349.63 159.51,349.96 159.76,350.34C160.01,350.72 160.51,351.27 160.54,351.77C160.58,352.28 160.02,352.97 159.99,353.38C159.95,353.80 160.37,353.85 160.32,354.28C160.28,354.71 159.89,355.49 159.72,355.95C159.55,356.42 159.65,356.80 159.30,357.07C158.96,357.34 158.09,357.20 157.65,357.57C157.21,357.94 157.08,358.97 156.65,359.27C156.22,359.57 155.58,359.29 155.05,359.38C154.52,359.48 154.00,359.79 153.48,359.84C152.95,359.88 152.30,359.70 151.89,359.68C151.48,359.66 151.40,359.71 151.00,359.70C150.61,359.69 149.94,359.80 149.50,359.61C149.07,359.42 148.82,358.86 148.40,358.56C147.99,358.27 147.37,358.00 147.02,357.85C146.68,357.70 146.54,357.96 146.33,357.67C146.13,357.37 145.96,356.42 145.77,356.08C145.58,355.74 145.23,355.96 145.21,355.62C145.20,355.28 145.66,354.54 145.66,354.07C145.67,353.60 145.13,353.18 145.24,352.82Z" fill="#000" fill-opacity="0.07" stroke="#000" stroke-width="0.6" stroke-opacity="0.85"/>
<path d="M147.16,352.85C147.33,352.46 147.80,352.44 148.05,352.22C148.30,352.01 148.56,351.87 148.64,351.58C148.71,351.29 148.23,350.63 148.48,350.49C148.73,350.35 149.55,350.87 150.14,350.74C150.74,350.62 151.51,349.89 152.02,349.73C152.53,349.56 152.71,349.72 153.18,349.76C153.65,349.80 154.35,349.95 154.85,349.95C155.35,349.95 155.78,349.75 156.18,349.75C156.58,349.75 156.89,349.89 157.24,349.96C157.58,350.02 157.93,349.84 158.23,350.12C158.53,350.41 158.85,351.42 159.04,351.67C159.23,351.91 159.25,351.37 159.37,351.58C159.50,351.80 159.81,352.48 159.79,352.96C159.78,353.43 159.40,353.96 159.30,354.42C159.19,354.88 159.27,355.32 159.15,355.74C159.02,356.16 158.72,356.73 158.55,356.93C158.37,357.13 158.40,356.69 158.12,356.94C157.85,357.19 157.29,358.15 156.89,358.44C156.50,358.74 156.23,358.65 155.78,358.73C155.32,358.80 154.70,358.86 154.16,358.88C153.62,358.90 152.91,358.81 152.52,358.84C152.12,358.88 152.07,359.13 151.79,359.10C151.50,359.06 151.24,358.75 150.79,358.64C150.35,358.53 149.44,358.63 149.10,358.44C148.77,358.25 148.98,357.80 148.80,357.51C148.61,357.21 148.26,356.91 148.00,356.67C147.74,356.42 147.43,356.30 147.23,356.02C147.02,355.73 146.82,355.21 146.78,354.97C146.75,354.73 146.96,354.93 147.02,354.58C147.08,354.23 146.99,353.25 147.16,352.85Z" fill="#000" fill-opacity="0.08" stroke="#000" stroke-width="0.6" stroke-opacity="0.85"/>
<path d="M148.84,353.20C148.82,352.96 148.95,352.66 149.08,352.40C149.21,352.14 149.52,351.76 149.63,351.63C149.75,351.50 149.48,351.71 149.78,351.61C150.08,351.51 150.92,351.18 151.42,351.03C151.92,350.87 152.40,350.82 152.78,350.69C153.15,350.57 153.31,350.31 153.66,350.28C154.02,350.24 154.45,350.42 154.91,350.50C155.38,350.57 155.96,350.71 156.43,350.71C156.90,350.72 157.44,350.43 157.75,350.52C158.07,350.62 158.25,351.13 158.31,351.29C158.37,351.44 157.98,351.22 158.12,351.47C158.25,351.71 159.02,352.39 159.13,352.74C159.25,353.09 158.88,353.24 158.82,353.57C158.76,353.89 158.85,354.37 158.77,354.67C158.69,354.97 158.39,355.15 158.33,355.35C158.27,355.54 158.60,355.68 158.40,355.84C158.20,356.00 157.48,356.07 157.14,356.29C156.80,356.52 156.61,357.01 156.38,357.19C156.14,357.37 156.07,357.31 155.73,357.37C155.39,357.44 154.72,357.41 154.32,357.58C153.93,357.76 153.68,358.41 153.37,358.41C153.07,358.41 152.79,357.64 152.51,357.58C152.22,357.52 151.99,358.14 151.68,358.04C151.37,357.95 150.89,357.17 150.65,357.02C150.42,356.88 150.50,357.35 150.27,357.17C150.04,356.99 149.57,356.18 149.28,355.94C149.00,355.70 148.59,355.88 148.58,355.73C148.57,355.58 149.09,355.35 149.20,355.03C149.31,354.72 149.30,354.16 149.24,353.85C149.18,353.55 148.87,353.44 148.84,353.20Z" fill="#000" fill-opacity="0.1" stroke="#000" stroke-width="0.6" stroke-opacity="0.85"/>
<path d="M150.00,348.00C151.17,346.42 154.83,345.50 157.00,345.50C159.17,345.50 162.00,346.08 163.00,348.00C164.00,349.92 163.67,354.67 163.00,357.00C162.33,359.33 160.67,361.33 159.00,362.00C157.33,362.67 154.50,362.17 153.00,361.00C151.50,359.83 150.50,357.17 150.00,355.00C149.50,352.83 148.83,349.58 150.00,348.00Z" fill="#000" fill-opacity="0.18" filter="url(#bl)"/><path d="M150.00,348.00C151.17,346.42 154.83,345.50 157.00,345.50C159.17,345.50 162.00,346.08 163.00,348.00C164.00,349.92 163.67,354.67 163.00,357.00C162.33,359.33 160.67,361.33 159.00,362.00C157.33,362.67 154.50,362.17 153.00,361.00C151.50,359.83 150.50,357.17 150.00,355.00C149.50,352.83 148.83,349.58 150.00,348.00Z" fill="#000" fill-opacity="0.75" filter="url(#tx)"/>
<ellipse cx="157" cy="354" rx="1.4" ry="1.1" fill="#fff" fill-opacity="0.7"/></g>
<g clip-path="url(#c30)"><path d="M32.84,424.22C33.14,423.43 33.97,423.47 34.47,423.15C34.96,422.83 35.47,422.57 35.83,422.32C36.18,422.07 35.97,421.72 36.60,421.62C37.23,421.53 38.55,421.76 39.59,421.75C40.63,421.74 41.77,421.64 42.85,421.56C43.93,421.48 45.18,421.28 46.09,421.28C47.00,421.28 47.47,421.35 48.30,421.56C49.13,421.77 50.19,422.38 51.05,422.56C51.91,422.73 52.87,422.22 53.44,422.60C54.00,422.99 54.09,424.31 54.44,424.87C54.78,425.43 55.14,425.50 55.51,425.97C55.89,426.44 56.35,426.96 56.69,427.68C57.03,428.40 57.34,429.37 57.54,430.30C57.74,431.23 57.82,432.30 57.88,433.26C57.95,434.23 58.03,435.10 57.93,436.08C57.84,437.06 57.52,438.18 57.32,439.14C57.11,440.10 56.91,440.91 56.72,441.85C56.54,442.79 56.58,443.88 56.22,444.78C55.85,445.68 55.07,446.56 54.52,447.24C53.97,447.91 53.46,448.13 52.92,448.83C52.37,449.53 51.96,451.07 51.25,451.43C50.53,451.79 49.44,450.92 48.62,450.97C47.81,451.02 47.18,451.72 46.35,451.73C45.53,451.75 44.29,451.32 43.67,451.06C43.05,450.79 42.99,450.59 42.64,450.14C42.30,449.69 41.95,448.94 41.58,448.38C41.21,447.81 40.78,447.44 40.44,446.76C40.10,446.08 39.93,445.09 39.56,444.30C39.20,443.51 38.57,442.72 38.24,442.00C37.92,441.29 37.91,440.55 37.60,440.00C37.29,439.45 36.81,439.07 36.38,438.71C35.96,438.36 35.68,438.21 35.06,437.88C34.45,437.55 32.99,437.52 32.68,436.71C32.38,435.90 33.21,434.51 33.21,433.05C33.22,431.58 32.76,429.38 32.70,427.91C32.63,426.44 32.55,425.02 32.84,424.22Z" fill="#000" fill-opacity="0.0" stroke="#000" stroke-width="0.6" stroke-opacity="0.85"/>
<path d="M34.65,424.67C34.95,423.84 35.66,424.42 36.03,424.21C36.41,423.99 36.55,423.62 36.92,423.38C37.30,423.14 37.67,422.84 38.27,422.79C38.87,422.75 39.75,423.11 40.54,423.13C41.34,423.15 42.19,422.98 43.05,422.92C43.91,422.86 44.86,422.70 45.71,422.78C46.55,422.87 47.41,423.29 48.11,423.43C48.81,423.57 49.20,423.45 49.90,423.61C50.61,423.77 51.64,424.04 52.32,424.38C53.00,424.71 53.63,425.21 54.00,425.61C54.37,426.01 54.25,426.31 54.55,426.78C54.85,427.25 55.54,427.80 55.79,428.44C56.03,429.08 55.86,429.80 56.03,430.63C56.19,431.46 56.67,432.51 56.77,433.43C56.87,434.35 56.76,435.31 56.63,436.14C56.50,436.98 56.20,437.58 55.98,438.46C55.77,439.34 55.45,440.57 55.36,441.43C55.27,442.28 55.69,442.85 55.43,443.59C55.18,444.33 54.41,445.28 53.83,445.89C53.24,446.50 52.44,446.64 51.90,447.25C51.36,447.86 51.21,449.17 50.59,449.55C49.97,449.93 48.88,449.53 48.20,449.51C47.51,449.50 47.13,449.38 46.49,449.46C45.85,449.54 44.98,450.13 44.37,449.99C43.76,449.86 43.27,449.11 42.84,448.65C42.41,448.18 42.08,447.76 41.77,447.20C41.47,446.65 41.25,445.86 41.03,445.31C40.80,444.77 40.71,444.67 40.43,443.95C40.14,443.22 39.63,441.68 39.32,440.97C39.00,440.27 38.94,440.09 38.55,439.73C38.16,439.36 37.45,439.11 36.96,438.77C36.46,438.43 36.07,438.12 35.59,437.71C35.10,437.30 34.21,437.20 34.04,436.30C33.87,435.41 34.53,433.52 34.56,432.33C34.60,431.14 34.24,430.45 34.26,429.18C34.27,427.90 34.35,425.50 34.65,424.67Z" fill="#000" fill-opacity="0.015" stroke="#000" stroke-width="0.6" stroke-opacity="0.85"/>
<path d="M35.99,426.14C36.19,425.35 37.02,424.98 37.30,424.77C37.58,424.55 37.38,425.04 37.69,424.84C38.01,424.63 38.55,423.74 39.17,423.54C39.79,423.35 40.64,423.67 41.40,423.67C42.17,423.66 43.01,423.40 43.74,423.50C44.46,423.59 45.07,424.07 45.77,424.24C46.46,424.42 47.26,424.48 47.90,424.54C48.54,424.60 49.00,424.52 49.59,424.59C50.19,424.65 50.97,424.62 51.47,424.94C51.97,425.25 52.22,426.01 52.58,426.50C52.94,426.99 53.21,427.52 53.62,427.88C54.02,428.24 54.75,428.11 55.00,428.65C55.25,429.19 54.97,430.38 55.11,431.13C55.25,431.88 55.80,432.35 55.86,433.13C55.92,433.91 55.51,435.01 55.46,435.82C55.41,436.63 55.72,437.33 55.56,438.01C55.40,438.69 54.76,439.21 54.50,439.91C54.24,440.61 54.33,441.50 53.99,442.21C53.65,442.93 52.88,443.60 52.46,444.21C52.03,444.81 51.85,445.39 51.45,445.85C51.05,446.31 50.57,446.66 50.08,446.96C49.59,447.26 49.10,447.55 48.50,447.67C47.91,447.80 47.13,447.62 46.51,447.71C45.88,447.80 45.21,448.39 44.77,448.23C44.33,448.08 44.27,447.30 43.87,446.80C43.47,446.30 42.80,445.60 42.38,445.24C41.95,444.87 41.60,445.13 41.33,444.63C41.06,444.12 40.94,442.98 40.77,442.23C40.59,441.48 40.34,440.82 40.25,440.15C40.17,439.47 40.53,438.48 40.25,438.15C39.97,437.83 39.12,438.36 38.56,438.18C38.01,438.01 37.39,437.47 36.91,437.10C36.43,436.73 35.92,436.75 35.69,435.97C35.46,435.18 35.46,433.46 35.53,432.39C35.60,431.31 36.03,430.56 36.11,429.52C36.19,428.48 35.80,426.94 35.99,426.14Z" fill="#000" fill-opacity="0.03" stroke="#000" stroke-width="0.6" stroke-opacity="0.85"/>
<path d="M37.57,426.29C37.73,425.69 38.04,426.11 38.31,426.01C38.58,425.90 38.94,425.75 39.20,425.67C39.45,425.59 39.43,425.58 39.83,425.51C40.24,425.45 40.87,425.35 41.65,425.26C42.43,425.18 43.73,424.98 44.52,425.01C45.31,425.03 45.85,425.33 46.38,425.40C46.91,425.46 47.13,425.39 47.69,425.42C48.26,425.44 49.17,425.46 49.79,425.54C50.40,425.62 51.00,425.62 51.39,425.90C51.79,426.19 51.85,426.89 52.16,427.27C52.46,427.65 52.90,427.79 53.23,428.17C53.55,428.55 53.99,428.99 54.12,429.54C54.24,430.09 53.95,430.79 53.96,431.47C53.98,432.15 54.10,432.96 54.21,433.60C54.32,434.24 54.61,434.70 54.61,435.30C54.61,435.90 54.39,436.57 54.21,437.18C54.02,437.79 53.58,438.27 53.49,438.98C53.41,439.69 53.91,440.78 53.68,441.43C53.46,442.07 52.56,442.40 52.15,442.82C51.75,443.25 51.69,443.45 51.25,443.96C50.81,444.48 50.02,445.58 49.51,445.89C48.99,446.20 48.58,445.79 48.13,445.84C47.68,445.89 47.31,446.24 46.83,446.19C46.34,446.14 45.73,445.70 45.23,445.54C44.74,445.37 44.18,445.54 43.86,445.20C43.54,444.86 43.66,443.95 43.32,443.51C42.97,443.07 42.13,442.99 41.79,442.58C41.45,442.16 41.33,441.54 41.28,441.04C41.22,440.53 41.54,440.14 41.44,439.55C41.34,438.97 40.99,437.85 40.66,437.53C40.32,437.21 39.79,437.83 39.44,437.65C39.09,437.47 38.92,436.72 38.54,436.45C38.17,436.19 37.37,436.74 37.18,436.07C37.00,435.40 37.40,433.53 37.43,432.45C37.46,431.38 37.34,430.64 37.36,429.61C37.38,428.59 37.41,426.90 37.57,426.29Z" fill="#000" fill-opacity="0.045" stroke="#000" stroke-width="0.6" stroke-opacity="0.85"/>
<path d="M38.62,427.36C38.80,426.78 39.04,427.18 39.28,427.00C39.53,426.81 39.85,426.36 40.09,426.25C40.33,426.13 40.35,426.34 40.73,426.28C41.12,426.22 41.72,425.95 42.40,425.89C43.08,425.83 44.16,425.94 44.80,425.94C45.44,425.93 45.69,425.85 46.24,425.87C46.79,425.88 47.59,425.84 48.10,426.03C48.61,426.22 48.95,426.87 49.32,427.02C49.69,427.17 49.94,426.75 50.33,426.93C50.72,427.11 51.37,427.83 51.66,428.11C51.96,428.38 51.87,428.29 52.08,428.59C52.30,428.89 52.73,429.41 52.95,429.88C53.16,430.35 53.32,430.84 53.37,431.42C53.43,431.99 53.20,432.79 53.28,433.33C53.35,433.88 53.86,434.11 53.82,434.67C53.78,435.22 53.17,436.09 53.06,436.67C52.95,437.25 53.20,437.50 53.16,438.12C53.12,438.74 53.14,439.82 52.82,440.39C52.51,440.96 51.71,441.25 51.29,441.55C50.86,441.85 50.52,441.86 50.25,442.21C49.97,442.57 50.00,443.41 49.63,443.69C49.26,443.97 48.47,443.81 48.02,443.90C47.58,443.99 47.50,444.18 46.96,444.23C46.42,444.28 45.21,444.36 44.77,444.18C44.34,444.01 44.51,443.49 44.37,443.17C44.22,442.84 44.17,442.46 43.91,442.22C43.64,441.99 43.04,442.12 42.78,441.75C42.52,441.38 42.47,440.47 42.35,439.99C42.22,439.52 42.11,439.32 42.01,438.89C41.91,438.46 42.00,437.87 41.75,437.42C41.50,436.97 40.84,436.41 40.51,436.19C40.18,435.96 40.04,436.14 39.76,436.05C39.48,435.96 39.09,436.23 38.84,435.64C38.59,435.06 38.36,433.41 38.26,432.55C38.15,431.69 38.16,431.35 38.22,430.49C38.28,429.62 38.44,427.95 38.62,427.36Z" fill="#000" fill-opacity="0.06" stroke="#000" stroke-width="0.6" stroke-opacity="0.85"/>
<path d="M39.64,428.13C39.73,427.70 40.68,428.21 40.89,428.17C41.11,428.14 40.72,428.04 40.93,427.90C41.15,427.76 41.83,427.40 42.19,427.33C42.55,427.27 42.64,427.48 43.10,427.49C43.56,427.49 44.28,427.35 44.93,427.36C45.57,427.37 46.44,427.56 46.95,427.54C47.46,427.51 47.71,427.14 48.00,427.18C48.29,427.22 48.43,427.56 48.68,427.77C48.94,427.98 49.26,428.30 49.56,428.44C49.85,428.58 50.20,428.45 50.46,428.62C50.73,428.79 50.86,429.12 51.17,429.45C51.47,429.77 52.16,430.16 52.32,430.55C52.49,430.94 52.23,431.35 52.16,431.76C52.09,432.17 51.79,432.49 51.90,432.99C52.00,433.49 52.69,434.31 52.78,434.77C52.87,435.24 52.66,435.39 52.45,435.78C52.25,436.17 51.70,436.58 51.55,437.10C51.39,437.61 51.69,438.40 51.53,438.89C51.38,439.37 50.91,439.66 50.63,439.99C50.36,440.32 50.14,440.59 49.91,440.88C49.68,441.17 49.55,441.52 49.27,441.73C48.99,441.94 48.71,442.09 48.21,442.13C47.71,442.18 46.71,441.99 46.26,442.00C45.82,442.01 45.76,442.28 45.53,442.17C45.30,442.06 45.15,441.53 44.89,441.34C44.63,441.15 44.23,441.21 43.96,441.02C43.70,440.82 43.40,440.54 43.31,440.19C43.23,439.84 43.53,439.27 43.44,438.92C43.35,438.56 42.96,438.40 42.79,438.06C42.63,437.71 42.70,437.19 42.45,436.84C42.20,436.49 41.52,436.23 41.27,435.94C41.02,435.65 41.12,435.32 40.96,435.09C40.80,434.87 40.47,435.04 40.33,434.61C40.18,434.19 40.08,433.19 40.09,432.55C40.10,431.90 40.45,431.46 40.38,430.72C40.31,429.99 39.56,428.55 39.64,428.13Z" fill="#000" fill-opacity="0.07" stroke="#000" stroke-width="0.6" stroke-opacity="0.85"/>
<path d="M41.39,429.22C41.45,428.96 41.73,429.21 41.84,429.06C41.95,428.91 41.84,428.50 42.06,428.32C42.27,428.13 42.71,427.99 43.10,427.94C43.50,427.88 44.13,427.98 44.44,427.96C44.75,427.95 44.56,427.73 44.96,427.83C45.36,427.94 46.42,428.46 46.84,428.58C47.26,428.69 47.24,428.46 47.48,428.52C47.73,428.59 47.95,428.96 48.32,428.96C48.69,428.95 49.46,428.37 49.69,428.49C49.91,428.61 49.59,429.34 49.68,429.68C49.77,430.01 50.01,430.34 50.23,430.50C50.45,430.67 50.82,430.43 51.01,430.66C51.21,430.89 51.32,431.50 51.40,431.86C51.48,432.22 51.42,432.45 51.51,432.83C51.60,433.20 51.93,433.71 51.95,434.10C51.97,434.50 51.72,434.69 51.62,435.21C51.51,435.73 51.47,436.81 51.32,437.21C51.16,437.61 50.91,437.32 50.68,437.62C50.46,437.92 50.23,438.65 49.97,439.01C49.71,439.36 49.41,439.51 49.13,439.76C48.85,440.01 48.52,440.39 48.31,440.53C48.11,440.66 48.14,440.60 47.91,440.57C47.67,440.54 47.19,440.38 46.88,440.35C46.57,440.33 46.26,440.39 46.04,440.43C45.82,440.47 45.73,440.74 45.56,440.59C45.39,440.44 45.30,439.84 45.02,439.53C44.73,439.23 44.04,439.02 43.87,438.74C43.70,438.47 44.00,438.26 44.01,437.90C44.01,437.53 44.02,436.83 43.89,436.55C43.75,436.28 43.42,436.43 43.21,436.27C42.99,436.10 42.90,435.81 42.61,435.56C42.32,435.31 41.73,434.86 41.45,434.78C41.17,434.69 40.92,435.39 40.91,435.03C40.91,434.67 41.33,433.35 41.43,432.61C41.53,431.88 41.51,431.19 41.50,430.62C41.50,430.05 41.33,429.48 41.39,429.22Z" fill="#000" fill-opacity="0.08" stroke="#000" stroke-width="0.6" stroke-opacity="0.85"/>
<path d="M42.33,430.36C42.32,430.20 42.39,430.30 42.55,430.08C42.71,429.85 43.14,429.17 43.29,429.01C43.44,428.85 43.27,429.06 43.45,429.11C43.63,429.17 44.08,429.31 44.39,429.35C44.71,429.40 45.00,429.48 45.35,429.37C45.70,429.26 46.12,428.78 46.48,428.70C46.84,428.62 47.20,428.73 47.51,428.90C47.81,429.06 48.02,429.58 48.29,429.69C48.56,429.80 49.00,429.48 49.13,429.57C49.26,429.65 49.00,429.96 49.07,430.18C49.15,430.40 49.42,430.67 49.58,430.87C49.75,431.06 49.94,431.17 50.07,431.37C50.20,431.57 50.26,431.85 50.37,432.09C50.48,432.33 50.74,432.42 50.75,432.81C50.76,433.20 50.48,433.99 50.41,434.42C50.34,434.84 50.31,435.08 50.34,435.35C50.37,435.62 50.71,435.81 50.61,436.04C50.51,436.27 49.87,436.49 49.74,436.71C49.61,436.94 49.97,437.12 49.83,437.42C49.70,437.71 49.23,438.19 48.92,438.47C48.62,438.75 48.29,438.97 48.02,439.09C47.74,439.21 47.47,439.20 47.26,439.21C47.06,439.21 47.04,439.11 46.78,439.11C46.52,439.11 45.96,439.31 45.71,439.20C45.45,439.09 45.40,438.54 45.26,438.44C45.11,438.34 44.95,438.66 44.84,438.60C44.73,438.55 44.77,438.32 44.62,438.11C44.47,437.91 44.03,437.65 43.96,437.37C43.88,437.09 44.15,436.74 44.16,436.44C44.16,436.13 44.17,435.75 44.00,435.55C43.83,435.36 43.38,435.44 43.13,435.27C42.88,435.09 42.71,434.65 42.49,434.49C42.28,434.32 41.86,434.56 41.82,434.26C41.78,433.97 42.13,433.24 42.26,432.70C42.39,432.16 42.58,431.43 42.59,431.04C42.60,430.65 42.34,430.52 42.33,430.36Z" fill="#000" fill-opacity="0.1" stroke="#000" stroke-width="0.6" stroke-opacity="0.85"/>
<path d="M39.50,427.00C40.17,425.17 42.08,423.67 44.00,423.00C45.92,422.33 49.17,422.33 51.00,423.00C52.83,423.67 54.42,425.00 55.00,427.00C55.58,429.00 55.33,432.83 54.50,435.00C53.67,437.17 51.92,439.17 50.00,440.00C48.08,440.83 44.67,441.00 43.00,440.00C41.33,439.00 40.58,436.17 40.00,434.00C39.42,431.83 38.83,428.83 39.50,427.00Z" fill="#000" fill-opacity="0.14" filter="url(#bl)"/><path d="M39.50,427.00C40.17,425.17 42.08,423.67 44.00,423.00C45.92,422.33 49.17,422.33 51.00,423.00C52.83,423.67 54.42,425.00 55.00,427.00C55.58,429.00 55.33,432.83 54.50,435.00C53.67,437.17 51.92,439.17 50.00,440.00C48.08,440.83 44.67,441.00 43.00,440.00C41.33,439.00 40.58,436.17 40.00,434.00C39.42,431.83 38.83,428.83 39.50,427.00Z" fill="#000" fill-opacity="0.72" filter="url(#tx)"/>
<ellipse cx="47" cy="430" rx="1" ry="1.2" fill="#fff" fill-opacity="0.6"/></g>
<g clip-path="url(#c31)"><path d="M113.07,431.26C113.04,430.78 113.73,430.78 114.09,430.26C114.44,429.73 114.91,428.63 115.19,428.11C115.47,427.58 115.34,427.54 115.77,427.09C116.20,426.64 117.27,425.80 117.77,425.42C118.27,425.05 118.35,425.18 118.77,424.84C119.19,424.50 119.64,423.69 120.28,423.36C120.92,423.02 121.82,423.09 122.61,422.83C123.41,422.57 124.25,422.01 125.05,421.79C125.84,421.57 126.64,421.61 127.40,421.52C128.15,421.43 128.80,421.18 129.58,421.23C130.37,421.28 131.17,421.80 132.10,421.81C133.03,421.82 134.37,421.24 135.16,421.29C135.95,421.33 136.27,421.80 136.86,422.08C137.45,422.35 138.06,422.56 138.73,422.95C139.39,423.34 140.24,423.88 140.85,424.43C141.45,424.98 142.03,425.67 142.35,426.26C142.67,426.86 142.51,427.31 142.78,428.00C143.05,428.68 143.83,429.68 143.95,430.37C144.08,431.05 143.75,431.50 143.53,432.12C143.31,432.75 142.75,433.42 142.63,434.11C142.51,434.80 143.09,435.47 142.81,436.26C142.53,437.05 141.43,438.07 140.97,438.86C140.50,439.66 140.29,440.15 140.03,441.03C139.77,441.91 139.83,443.30 139.42,444.16C139.01,445.01 138.13,445.30 137.55,446.17C136.98,447.04 136.49,448.47 135.96,449.39C135.43,450.32 135.03,451.30 134.36,451.72C133.70,452.14 132.79,451.93 131.97,451.94C131.14,451.95 130.19,451.72 129.41,451.78C128.64,451.83 127.92,452.53 127.29,452.26C126.67,451.99 126.20,450.75 125.67,450.15C125.13,449.56 124.63,449.28 124.08,448.70C123.54,448.11 122.84,447.28 122.40,446.65C121.96,446.03 121.86,445.59 121.42,444.93C120.98,444.26 120.22,443.50 119.78,442.64C119.33,441.77 119.06,440.43 118.76,439.73C118.46,439.03 118.26,438.77 117.96,438.43C117.67,438.09 117.29,438.07 116.99,437.70C116.69,437.33 116.52,436.68 116.17,436.19C115.82,435.70 115.22,435.26 114.90,434.76C114.59,434.25 114.57,433.75 114.26,433.16C113.96,432.58 113.10,431.75 113.07,431.26Z" fill="#000" fill-opacity="0.0" stroke="#000" stroke-width="0.6" stroke-opacity="0.85"/>
<path d="M115.00,432.04C114.96,431.52 115.16,430.48 115.42,430.03C115.67,429.58 116.25,429.73 116.54,429.35C116.83,428.98 116.78,428.19 117.16,427.79C117.53,427.38 118.45,427.28 118.80,426.91C119.15,426.55 118.98,426.04 119.25,425.59C119.53,425.14 119.79,424.48 120.46,424.20C121.14,423.92 122.49,424.04 123.28,423.91C124.07,423.77 124.57,423.59 125.19,423.37C125.82,423.15 126.34,422.62 127.05,422.58C127.76,422.55 128.63,423.14 129.47,423.15C130.31,423.16 131.35,422.74 132.11,422.65C132.87,422.57 133.32,422.49 134.03,422.63C134.74,422.78 135.70,423.19 136.38,423.51C137.07,423.83 137.63,424.28 138.14,424.56C138.66,424.83 139.12,424.74 139.46,425.16C139.80,425.59 139.92,426.55 140.20,427.09C140.48,427.63 140.73,427.86 141.14,428.39C141.54,428.93 142.56,429.58 142.64,430.28C142.72,430.97 141.79,431.87 141.62,432.55C141.45,433.23 141.70,433.81 141.61,434.35C141.51,434.90 141.24,435.16 141.05,435.80C140.87,436.44 140.77,437.45 140.51,438.21C140.25,438.96 139.86,439.57 139.49,440.32C139.12,441.07 138.79,441.95 138.30,442.70C137.80,443.44 137.12,443.93 136.52,444.80C135.93,445.67 135.22,447.03 134.71,447.90C134.20,448.77 134.05,449.72 133.46,450.03C132.87,450.34 131.93,449.76 131.18,449.77C130.42,449.78 129.55,450.02 128.94,450.10C128.33,450.17 128.08,450.38 127.53,450.21C126.97,450.04 126.08,449.56 125.59,449.09C125.09,448.61 125.10,447.90 124.55,447.35C124.01,446.80 122.79,446.37 122.32,445.81C121.85,445.26 122.01,444.71 121.75,444.01C121.49,443.32 121.05,442.43 120.78,441.65C120.50,440.86 120.39,439.84 120.12,439.29C119.84,438.74 119.38,438.74 119.12,438.36C118.86,437.98 118.89,437.35 118.57,437.00C118.24,436.64 117.60,436.60 117.18,436.23C116.75,435.85 116.25,435.26 116.00,434.75C115.75,434.24 115.83,433.60 115.67,433.15C115.50,432.70 115.04,432.56 115.00,432.04Z" fill="#000" fill-opacity="0.015" stroke="#000" stroke-width="0.6" stroke-opacity="0.85"/>
<path d="M116.15,432.23C116.16,431.85 117.04,431.51 117.35,431.01C117.66,430.50 117.84,429.67 118.02,429.18C118.21,428.69 118.10,428.30 118.44,428.07C118.78,427.85 119.75,428.06 120.07,427.82C120.40,427.58 120.11,427.05 120.41,426.61C120.71,426.17 121.34,425.41 121.87,425.19C122.40,424.98 122.94,425.45 123.57,425.32C124.20,425.18 124.98,424.63 125.66,424.39C126.34,424.15 126.98,423.96 127.64,423.89C128.29,423.83 128.83,423.95 129.57,424.01C130.32,424.06 131.35,424.18 132.10,424.21C132.85,424.25 133.54,424.09 134.07,424.24C134.61,424.39 134.77,424.92 135.29,425.14C135.81,425.35 136.67,425.44 137.19,425.53C137.71,425.62 138.03,425.30 138.40,425.70C138.77,426.09 139.07,427.33 139.39,427.89C139.71,428.45 140.13,428.58 140.30,429.06C140.48,429.55 140.36,430.31 140.44,430.81C140.52,431.32 140.80,431.61 140.78,432.10C140.76,432.58 140.53,433.19 140.33,433.70C140.14,434.22 139.91,434.54 139.63,435.20C139.36,435.85 138.90,436.78 138.68,437.63C138.47,438.48 138.68,439.58 138.35,440.28C138.03,440.98 137.10,441.25 136.72,441.83C136.34,442.40 136.49,443.04 136.07,443.73C135.64,444.41 134.74,445.27 134.17,445.94C133.60,446.62 133.17,447.44 132.65,447.78C132.13,448.13 131.53,447.98 131.04,448.03C130.54,448.08 130.33,447.93 129.68,448.06C129.03,448.18 127.74,448.88 127.13,448.77C126.52,448.65 126.40,447.83 126.02,447.37C125.64,446.91 125.32,446.53 124.86,445.98C124.39,445.44 123.57,444.67 123.23,444.09C122.90,443.51 123.06,443.05 122.83,442.51C122.60,441.96 122.12,441.47 121.85,440.82C121.59,440.17 121.52,439.05 121.23,438.60C120.93,438.15 120.38,438.46 120.08,438.11C119.78,437.76 119.65,436.93 119.43,436.48C119.20,436.02 118.95,435.80 118.72,435.38C118.49,434.97 118.28,434.34 118.04,433.99C117.81,433.63 117.61,433.55 117.29,433.26C116.98,432.97 116.14,432.60 116.15,432.23Z" fill="#000" fill-opacity="0.03" stroke="#000" stroke-width="0.6" stroke-opacity="0.85"/>
<path d="M117.67,432.65C117.70,432.21 118.10,431.38 118.29,430.97C118.48,430.56 118.51,430.48 118.81,430.19C119.12,429.91 119.80,429.53 120.13,429.26C120.45,428.99 120.54,428.89 120.75,428.56C120.97,428.23 121.07,427.54 121.42,427.29C121.76,427.04 122.32,427.22 122.83,427.07C123.34,426.92 123.89,426.61 124.45,426.38C125.02,426.15 125.62,425.81 126.21,425.67C126.80,425.53 127.48,425.61 128.00,425.54C128.51,425.46 128.72,425.28 129.32,425.22C129.93,425.16 131.01,425.11 131.61,425.18C132.21,425.26 132.41,425.54 132.92,425.65C133.42,425.77 134.09,425.71 134.63,425.90C135.17,426.09 135.75,426.64 136.15,426.80C136.56,426.96 136.82,426.60 137.07,426.85C137.32,427.11 137.37,427.78 137.64,428.32C137.90,428.87 138.36,429.63 138.66,430.12C138.96,430.61 139.40,430.85 139.44,431.27C139.48,431.69 139.08,432.16 138.92,432.67C138.77,433.17 138.56,433.80 138.53,434.31C138.49,434.82 138.91,435.19 138.71,435.70C138.51,436.22 137.60,436.85 137.32,437.42C137.04,437.99 137.21,438.48 137.05,439.13C136.89,439.79 136.69,440.71 136.36,441.36C136.03,442.01 135.48,442.46 135.05,443.04C134.63,443.62 134.28,444.27 133.80,444.84C133.32,445.41 132.63,446.16 132.17,446.43C131.71,446.70 131.57,446.52 131.05,446.47C130.53,446.41 129.59,446.02 129.03,446.09C128.47,446.16 128.16,447.04 127.69,446.89C127.23,446.74 126.67,445.67 126.23,445.18C125.78,444.68 125.35,444.18 125.02,443.90C124.69,443.63 124.48,443.95 124.26,443.53C124.03,443.10 123.90,442.02 123.67,441.34C123.44,440.66 123.11,440.00 122.88,439.45C122.65,438.90 122.64,438.39 122.30,438.04C121.97,437.70 121.19,437.70 120.85,437.38C120.51,437.06 120.50,436.47 120.27,436.13C120.05,435.79 119.67,435.60 119.50,435.35C119.33,435.10 119.49,434.92 119.25,434.63C119.01,434.33 118.35,433.92 118.09,433.59C117.82,433.26 117.63,433.08 117.67,432.65Z" fill="#000" fill-opacity="0.045" stroke="#000" stroke-width="0.6" stroke-opacity="0.85"/>
<path d="M119.05,432.25C119.01,431.88 119.88,431.70 120.12,431.46C120.35,431.21 120.31,430.99 120.45,430.76C120.59,430.53 120.73,430.29 120.95,430.06C121.16,429.84 121.38,429.68 121.74,429.41C122.09,429.13 122.84,428.68 123.08,428.43C123.32,428.19 122.93,428.14 123.18,427.95C123.43,427.77 124.05,427.56 124.58,427.32C125.10,427.09 125.77,426.64 126.33,426.55C126.89,426.45 127.39,426.77 127.92,426.76C128.44,426.75 128.96,426.49 129.48,426.47C129.99,426.45 130.53,426.57 131.01,426.64C131.49,426.71 131.81,426.78 132.35,426.89C132.89,427.00 133.74,427.23 134.25,427.31C134.76,427.39 135.02,427.32 135.42,427.37C135.81,427.42 136.42,427.36 136.64,427.61C136.86,427.86 136.62,428.38 136.72,428.87C136.82,429.36 137.02,430.12 137.24,430.56C137.45,431.01 137.97,431.23 138.01,431.56C138.04,431.89 137.56,432.15 137.44,432.52C137.31,432.90 137.35,433.32 137.25,433.80C137.15,434.29 136.96,434.92 136.82,435.41C136.69,435.90 136.65,436.22 136.41,436.74C136.18,437.27 135.71,438.08 135.43,438.58C135.15,439.09 134.96,439.27 134.73,439.79C134.50,440.31 134.27,441.11 134.05,441.68C133.84,442.25 133.70,442.69 133.43,443.22C133.15,443.76 132.84,444.62 132.40,444.88C131.97,445.14 131.40,444.87 130.80,444.80C130.20,444.72 129.38,444.38 128.81,444.44C128.23,444.49 127.66,445.21 127.36,445.13C127.06,445.04 127.30,444.33 127.00,443.92C126.70,443.51 126.00,443.00 125.59,442.67C125.17,442.34 124.65,442.33 124.50,441.92C124.34,441.51 124.86,440.76 124.64,440.23C124.42,439.69 123.49,439.09 123.19,438.71C122.89,438.33 122.96,438.28 122.87,437.96C122.78,437.63 122.91,437.15 122.67,436.76C122.44,436.37 121.74,435.86 121.44,435.65C121.14,435.43 121.03,435.60 120.89,435.45C120.74,435.30 120.66,435.04 120.57,434.74C120.49,434.44 120.62,434.08 120.37,433.67C120.12,433.25 119.09,432.62 119.05,432.25Z" fill="#000" fill-opacity="0.06" stroke="#000" stroke-width="0.6" stroke-opacity="0.85"/>
<path d="M120.98,433.04C120.86,432.71 120.99,431.95 121.17,431.65C121.35,431.35 121.88,431.49 122.06,431.26C122.24,431.03 122.13,430.44 122.24,430.28C122.35,430.11 122.44,430.38 122.74,430.28C123.03,430.19 123.66,430.00 124.02,429.73C124.39,429.47 124.62,428.93 124.93,428.69C125.24,428.46 125.51,428.37 125.88,428.33C126.24,428.28 126.81,428.59 127.11,428.42C127.41,428.26 127.34,427.45 127.67,427.36C128.00,427.27 128.59,427.88 129.08,427.88C129.56,427.88 130.02,427.33 130.56,427.36C131.09,427.39 131.90,427.99 132.30,428.06C132.70,428.13 132.63,427.69 132.97,427.79C133.31,427.88 134.08,428.46 134.35,428.63C134.62,428.81 134.41,428.56 134.61,428.84C134.82,429.13 135.35,429.97 135.56,430.35C135.77,430.73 135.80,430.89 135.89,431.13C135.97,431.36 135.98,431.47 136.09,431.77C136.19,432.06 136.60,432.51 136.52,432.89C136.43,433.28 135.78,433.78 135.59,434.08C135.41,434.39 135.49,434.34 135.41,434.73C135.34,435.12 135.25,435.89 135.13,436.41C135.01,436.93 134.90,437.49 134.71,437.85C134.51,438.22 134.17,438.28 133.95,438.61C133.72,438.94 133.64,439.38 133.37,439.85C133.10,440.31 132.59,440.89 132.31,441.41C132.02,441.93 132.02,442.68 131.66,442.94C131.29,443.20 130.49,442.98 130.10,442.97C129.71,442.96 129.74,442.82 129.34,442.89C128.94,442.96 128.02,443.55 127.68,443.37C127.33,443.18 127.52,442.04 127.26,441.77C126.99,441.51 126.43,442.00 126.10,441.77C125.76,441.54 125.40,440.76 125.26,440.40C125.12,440.05 125.37,439.96 125.26,439.62C125.15,439.29 124.90,438.88 124.62,438.38C124.34,437.89 123.70,436.93 123.58,436.63C123.47,436.34 124.10,436.83 123.93,436.61C123.76,436.38 122.86,435.46 122.58,435.26C122.31,435.06 122.41,435.53 122.27,435.39C122.13,435.24 121.81,434.70 121.75,434.40C121.68,434.11 122.02,433.85 121.89,433.62C121.76,433.40 121.10,433.37 120.98,433.04Z" fill="#000" fill-opacity="0.07" stroke="#000" stroke-width="0.6" stroke-opacity="0.85"/>
<path d="M122.66,432.74C122.63,432.48 122.27,432.12 122.39,431.89C122.50,431.65 123.09,431.44 123.35,431.33C123.61,431.23 123.89,431.33 123.97,431.25C124.04,431.17 123.75,431.04 123.82,430.85C123.88,430.65 124.18,430.26 124.36,430.09C124.53,429.92 124.50,429.91 124.87,429.85C125.23,429.78 126.24,429.78 126.55,429.70C126.86,429.62 126.46,429.48 126.73,429.37C127.01,429.27 127.79,429.16 128.21,429.08C128.64,429.00 128.90,428.90 129.28,428.90C129.66,428.90 130.18,429.15 130.49,429.06C130.79,428.98 130.82,428.41 131.14,428.39C131.46,428.37 132.07,428.83 132.40,428.94C132.73,429.04 132.80,428.95 133.11,429.02C133.42,429.09 133.99,429.06 134.26,429.37C134.53,429.69 134.63,430.63 134.71,430.92C134.80,431.22 134.66,430.95 134.76,431.14C134.86,431.33 135.28,431.78 135.31,432.06C135.34,432.33 134.95,432.48 134.94,432.81C134.94,433.14 135.33,433.76 135.27,434.04C135.20,434.32 134.68,434.10 134.54,434.47C134.39,434.85 134.48,435.90 134.39,436.27C134.30,436.65 134.22,436.43 134.00,436.72C133.79,437.01 133.29,437.65 133.08,438.02C132.87,438.39 132.93,438.48 132.74,438.93C132.54,439.38 132.13,440.40 131.90,440.73C131.66,441.06 131.70,440.85 131.34,440.91C130.98,440.96 130.08,440.96 129.74,441.07C129.40,441.18 129.57,441.50 129.31,441.58C129.05,441.65 128.50,441.62 128.18,441.52C127.86,441.42 127.59,441.12 127.38,440.96C127.16,440.80 127.08,440.74 126.89,440.53C126.71,440.33 126.42,440.02 126.27,439.73C126.12,439.44 126.15,439.23 126.01,438.78C125.87,438.34 125.59,437.40 125.42,437.08C125.24,436.75 125.15,436.96 124.96,436.83C124.78,436.71 124.53,436.47 124.32,436.30C124.10,436.13 123.81,436.01 123.67,435.80C123.53,435.59 123.62,435.32 123.49,435.03C123.36,434.73 123.05,434.30 122.90,434.03C122.74,433.76 122.60,433.64 122.56,433.42C122.52,433.21 122.69,432.99 122.66,432.74Z" fill="#000" fill-opacity="0.08" stroke="#000" stroke-width="0.6" stroke-opacity="0.85"/>
<path d="M123.20,433.10C123.23,433.01 124.09,432.90 124.33,432.78C124.57,432.66 124.54,432.49 124.63,432.37C124.72,432.25 124.78,432.29 124.88,432.06C124.99,431.84 125.20,431.24 125.26,431.02C125.32,430.80 125.22,430.89 125.26,430.75C125.30,430.61 125.21,430.21 125.51,430.19C125.81,430.16 126.77,430.58 127.08,430.59C127.39,430.60 127.12,430.32 127.37,430.24C127.62,430.17 128.21,430.21 128.57,430.13C128.92,430.06 129.29,429.82 129.49,429.81C129.69,429.80 129.55,430.06 129.78,430.08C130.01,430.09 130.57,429.90 130.87,429.90C131.18,429.90 131.28,430.07 131.60,430.09C131.92,430.11 132.57,429.92 132.82,430.02C133.07,430.13 133.01,430.46 133.11,430.73C133.21,431.01 133.34,431.41 133.42,431.67C133.50,431.94 133.48,432.10 133.61,432.33C133.73,432.56 134.19,432.94 134.17,433.06C134.15,433.18 133.60,432.84 133.49,433.06C133.39,433.28 133.59,434.13 133.53,434.37C133.48,434.60 133.18,434.19 133.15,434.46C133.13,434.74 133.50,435.70 133.39,436.03C133.28,436.36 132.64,436.18 132.51,436.44C132.37,436.69 132.64,437.23 132.57,437.57C132.49,437.91 132.31,438.26 132.05,438.48C131.80,438.70 131.34,438.61 131.04,438.88C130.74,439.16 130.51,439.97 130.27,440.12C130.04,440.27 129.77,439.78 129.64,439.79C129.52,439.80 129.74,440.11 129.53,440.19C129.32,440.27 128.68,440.34 128.40,440.26C128.12,440.18 128.07,440.01 127.84,439.73C127.61,439.45 127.28,438.89 127.01,438.59C126.74,438.30 126.37,438.20 126.23,437.98C126.09,437.77 126.26,437.50 126.16,437.30C126.05,437.11 125.61,437.01 125.59,436.83C125.57,436.65 126.11,436.38 126.02,436.21C125.93,436.04 125.29,436.07 125.06,435.83C124.82,435.59 124.74,434.98 124.63,434.77C124.52,434.57 124.44,434.71 124.40,434.60C124.37,434.49 124.46,434.34 124.41,434.12C124.36,433.90 124.31,433.47 124.11,433.30C123.90,433.13 123.16,433.18 123.20,433.10Z" fill="#000" fill-opacity="0.1" stroke="#000" stroke-width="0.6" stroke-opacity="0.85"/>
<path d="M121.00,428.00C121.50,426.33 123.00,424.75 125.00,424.00C127.00,423.25 131.00,423.00 133.00,423.50C135.00,424.00 136.33,425.25 137.00,427.00C137.67,428.75 137.67,432.08 137.00,434.00C136.33,435.92 134.83,437.83 133.00,438.50C131.17,439.17 127.83,438.75 126.00,438.00C124.17,437.25 122.83,435.67 122.00,434.00C121.17,432.33 120.50,429.67 121.00,428.00Z" fill="#000" fill-opacity="0.18" filter="url(#bl)"/><path d="M121.00,428.00C121.50,426.33 123.00,424.75 125.00,424.00C127.00,423.25 131.00,423.00 133.00,423.50C135.00,424.00 136.33,425.25 137.00,427.00C137.67,428.75 137.67,432.08 137.00,434.00C136.33,435.92 134.83,437.83 133.00,438.50C131.17,439.17 127.83,438.75 126.00,438.00C124.17,437.25 122.83,435.67 122.00,434.00C121.17,432.33 120.50,429.67 121.00,428.00Z" fill="#000" fill-opacity="0.75" filter="url(#tx)"/>
<ellipse cx="129.5" cy="430.5" rx="1.2" ry="1" fill="#fff" fill-opacity="0.7"/></g>
<g clip-path="url(#c40)"><path d="M33.39,499.86C33.54,498.99 33.98,499.11 34.30,498.84C34.62,498.58 34.96,498.42 35.30,498.29C35.63,498.16 35.40,498.19 36.32,498.07C37.24,497.96 39.39,497.69 40.82,497.60C42.25,497.51 43.30,497.54 44.89,497.52C46.48,497.50 49.16,497.25 50.36,497.49C51.57,497.73 51.51,498.59 52.14,498.94C52.77,499.30 53.56,499.36 54.15,499.65C54.73,499.93 55.11,500.10 55.68,500.64C56.24,501.18 57.09,502.16 57.53,502.89C57.98,503.63 58.08,504.44 58.34,505.06C58.59,505.68 59.09,505.79 59.05,506.61C59.01,507.43 58.37,508.96 58.10,509.98C57.83,511.01 57.64,511.88 57.43,512.75C57.23,513.62 57.11,514.39 56.88,515.20C56.64,516.01 56.25,516.87 56.01,517.59C55.77,518.32 55.61,518.87 55.44,519.55C55.28,520.22 55.41,521.07 55.02,521.65C54.63,522.23 53.70,522.71 53.11,523.00C52.52,523.28 51.95,523.20 51.47,523.36C51.00,523.52 50.86,523.92 50.24,523.95C49.61,523.98 48.45,523.66 47.72,523.55C47.00,523.43 46.50,523.37 45.90,523.28C45.30,523.18 44.61,523.37 44.13,522.97C43.64,522.58 43.44,521.43 43.00,520.93C42.56,520.43 42.02,520.53 41.48,519.97C40.94,519.41 40.30,518.18 39.76,517.58C39.23,516.97 38.80,516.66 38.28,516.32C37.76,515.98 37.24,515.97 36.63,515.52C36.02,515.08 35.02,514.07 34.63,513.66C34.25,513.24 34.52,513.21 34.31,513.04C34.11,512.87 33.70,512.85 33.42,512.61C33.15,512.37 32.75,512.38 32.66,511.61C32.56,510.84 32.75,509.23 32.88,507.97C33.00,506.71 33.31,505.40 33.39,504.05C33.48,502.70 33.24,500.73 33.39,499.86Z" fill="#000" fill-opacity="0.0" stroke="#000" stroke-width="0.6" stroke-opacity="0.85"/>
<path d="M34.11,500.55C34.28,499.89 35.20,500.31 35.62,500.20C36.04,500.09 36.32,500.18 36.63,499.90C36.95,499.61 36.66,498.64 37.52,498.47C38.38,498.29 40.49,498.83 41.80,498.84C43.11,498.85 43.98,498.57 45.37,498.52C46.75,498.48 49.15,498.39 50.13,498.56C51.10,498.74 50.62,499.21 51.22,499.57C51.83,499.93 53.08,500.41 53.78,500.70C54.48,501.00 55.01,500.88 55.41,501.32C55.80,501.76 55.90,502.65 56.15,503.34C56.40,504.02 56.60,504.88 56.91,505.45C57.23,506.02 57.88,506.08 58.05,506.76C58.21,507.43 58.17,508.70 57.92,509.48C57.66,510.27 56.78,510.65 56.50,511.46C56.22,512.26 56.48,513.49 56.24,514.31C56.00,515.13 55.26,515.67 55.07,516.37C54.89,517.08 55.28,517.83 55.12,518.53C54.95,519.24 54.43,520.12 54.06,520.60C53.69,521.08 53.41,521.13 52.89,521.40C52.38,521.66 51.43,521.96 50.98,522.19C50.53,522.43 50.64,522.81 50.20,522.80C49.76,522.78 48.93,522.30 48.32,522.10C47.72,521.90 47.26,521.66 46.56,521.57C45.87,521.49 44.65,521.91 44.15,521.59C43.65,521.26 43.96,520.21 43.56,519.62C43.16,519.04 42.21,518.57 41.75,518.08C41.28,517.59 41.20,517.02 40.75,516.68C40.29,516.33 39.50,516.30 39.02,516.02C38.54,515.74 38.34,515.41 37.87,515.00C37.41,514.59 36.65,513.86 36.21,513.56C35.78,513.26 35.49,513.43 35.26,513.20C35.04,512.97 34.98,512.38 34.86,512.18C34.73,511.98 34.57,512.63 34.51,512.00C34.45,511.38 34.48,509.75 34.49,508.44C34.51,507.13 34.67,505.46 34.61,504.14C34.55,502.83 33.95,501.21 34.11,500.55Z" fill="#000" fill-opacity="0.015" stroke="#000" stroke-width="0.6" stroke-opacity="0.85"/>
<path d="M36.30,501.33C36.55,500.71 37.07,501.06 37.25,500.97C37.43,500.89 37.19,501.04 37.35,500.84C37.52,500.64 37.47,499.90 38.24,499.76C39.01,499.61 40.79,500.00 41.99,499.99C43.19,499.99 44.22,499.70 45.44,499.73C46.65,499.75 48.41,499.96 49.30,500.14C50.18,500.31 50.20,500.56 50.75,500.79C51.30,501.02 51.96,501.21 52.58,501.51C53.20,501.81 54.06,502.21 54.46,502.59C54.85,502.97 54.73,503.20 54.95,503.77C55.18,504.34 55.52,505.50 55.82,506.01C56.11,506.53 56.62,506.31 56.72,506.87C56.83,507.44 56.54,508.71 56.45,509.41C56.35,510.11 56.41,510.42 56.16,511.07C55.91,511.72 55.20,512.57 54.96,513.30C54.72,514.03 54.90,514.69 54.74,515.42C54.59,516.15 54.22,517.00 54.05,517.68C53.89,518.37 53.97,519.21 53.75,519.52C53.52,519.84 53.08,519.45 52.68,519.58C52.28,519.71 51.91,520.00 51.33,520.29C50.75,520.58 49.81,521.35 49.20,521.33C48.58,521.32 48.14,520.41 47.64,520.21C47.15,520.01 46.61,520.11 46.21,520.13C45.81,520.15 45.65,520.57 45.22,520.33C44.80,520.09 44.03,519.15 43.66,518.69C43.29,518.24 43.30,518.06 42.98,517.61C42.66,517.16 42.25,516.50 41.74,516.01C41.23,515.53 40.37,515.05 39.92,514.70C39.48,514.36 39.42,514.20 39.08,513.94C38.73,513.69 38.14,513.48 37.87,513.16C37.61,512.83 37.77,512.17 37.48,511.99C37.20,511.81 36.39,512.27 36.15,512.09C35.92,511.91 36.06,511.63 36.06,510.91C36.07,510.19 36.22,508.82 36.17,507.78C36.12,506.74 35.74,505.75 35.76,504.68C35.78,503.60 36.05,501.95 36.30,501.33Z" fill="#000" fill-opacity="0.03" stroke="#000" stroke-width="0.6" stroke-opacity="0.85"/>
<path d="M37.52,502.56C37.64,502.12 37.57,502.31 37.82,502.10C38.06,501.90 38.69,501.51 39.01,501.35C39.33,501.19 39.19,501.21 39.75,501.13C40.32,501.04 41.34,500.85 42.43,500.84C43.52,500.82 45.11,501.09 46.29,501.05C47.48,501.00 48.71,500.44 49.53,500.57C50.35,500.71 50.81,501.58 51.21,501.86C51.62,502.15 51.49,502.13 51.96,502.29C52.43,502.45 53.62,502.40 54.01,502.84C54.40,503.27 54.04,504.44 54.29,504.92C54.54,505.39 55.19,505.28 55.50,505.66C55.81,506.04 56.12,506.55 56.12,507.17C56.13,507.80 55.79,508.81 55.52,509.41C55.25,510.01 54.75,510.24 54.50,510.78C54.26,511.33 54.22,512.12 54.04,512.69C53.86,513.26 53.54,513.64 53.42,514.21C53.29,514.77 53.43,515.48 53.28,516.10C53.13,516.71 52.71,517.49 52.52,517.87C52.33,518.26 52.48,518.19 52.13,518.38C51.78,518.57 50.90,518.90 50.44,519.01C49.97,519.12 49.75,519.11 49.34,519.05C48.93,518.98 48.41,518.72 47.98,518.63C47.55,518.53 47.24,518.43 46.76,518.47C46.27,518.52 45.46,519.06 45.08,518.92C44.71,518.78 44.78,518.07 44.51,517.64C44.24,517.20 43.78,516.66 43.46,516.29C43.14,515.92 43.00,515.75 42.58,515.42C42.17,515.09 41.41,514.72 40.96,514.31C40.51,513.89 40.18,513.25 39.89,512.91C39.59,512.58 39.38,512.43 39.19,512.29C39.00,512.15 38.94,512.29 38.75,512.07C38.56,511.85 38.33,511.20 38.05,511.00C37.77,510.79 37.12,511.36 37.06,510.83C37.01,510.30 37.69,508.81 37.70,507.80C37.71,506.78 37.14,505.63 37.11,504.75C37.08,503.88 37.40,503.00 37.52,502.56Z" fill="#000" fill-opacity="0.045" stroke="#000" stroke-width="0.6" stroke-opacity="0.85"/>
<path d="M38.71,503.38C38.71,502.90 38.94,502.66 39.15,502.52C39.37,502.37 39.64,502.69 39.99,502.51C40.34,502.33 40.69,501.49 41.24,501.45C41.78,501.41 42.32,502.25 43.25,502.27C44.18,502.29 45.86,501.63 46.82,501.56C47.79,501.50 48.48,501.75 49.05,501.90C49.62,502.05 49.82,502.27 50.24,502.45C50.66,502.62 51.22,502.78 51.58,502.94C51.94,503.11 52.14,503.14 52.40,503.43C52.66,503.71 52.85,504.14 53.16,504.63C53.46,505.12 54.00,505.87 54.23,506.38C54.47,506.88 54.52,507.25 54.57,507.66C54.62,508.08 54.64,508.41 54.53,508.86C54.41,509.30 53.98,509.75 53.85,510.32C53.73,510.89 54.00,511.76 53.79,512.25C53.58,512.75 52.76,512.85 52.60,513.29C52.43,513.73 52.81,514.42 52.77,514.90C52.74,515.37 52.61,515.79 52.40,516.16C52.18,516.53 51.89,516.91 51.47,517.11C51.04,517.31 50.26,517.23 49.83,517.36C49.41,517.49 49.18,517.84 48.92,517.91C48.66,517.97 48.67,517.91 48.27,517.74C47.88,517.57 46.98,516.99 46.56,516.87C46.14,516.76 46.09,517.25 45.75,517.06C45.40,516.87 44.75,516.13 44.47,515.72C44.20,515.32 44.27,514.97 44.07,514.65C43.88,514.32 43.67,514.02 43.32,513.77C42.97,513.51 42.33,513.33 41.98,513.13C41.63,512.94 41.60,512.82 41.23,512.60C40.86,512.38 40.06,512.07 39.78,511.80C39.50,511.54 39.59,511.15 39.55,511.01C39.51,510.87 39.60,511.01 39.53,510.97C39.45,510.93 39.24,511.29 39.10,510.76C38.97,510.24 38.73,508.73 38.73,507.83C38.74,506.93 39.15,506.13 39.15,505.38C39.14,504.64 38.70,503.85 38.71,503.38Z" fill="#000" fill-opacity="0.06" stroke="#000" stroke-width="0.6" stroke-opacity="0.85"/>
<path d="M40.19,503.75C40.27,503.46 40.99,503.94 41.24,503.93C41.49,503.92 41.52,503.88 41.69,503.68C41.86,503.48 41.85,502.83 42.26,502.73C42.68,502.63 43.50,503.05 44.17,503.10C44.83,503.14 45.52,503.10 46.27,503.00C47.01,502.90 48.01,502.47 48.63,502.49C49.25,502.51 49.55,502.82 50.01,503.12C50.47,503.42 51.06,504.12 51.39,504.31C51.71,504.49 51.83,504.03 51.97,504.23C52.10,504.43 52.02,505.15 52.21,505.51C52.40,505.86 52.85,506.04 53.12,506.38C53.39,506.71 53.78,507.18 53.84,507.53C53.91,507.88 53.74,508.06 53.51,508.48C53.29,508.90 52.67,509.60 52.50,510.06C52.32,510.53 52.51,510.89 52.49,511.28C52.46,511.67 52.45,511.99 52.32,512.42C52.18,512.84 51.77,513.34 51.67,513.81C51.57,514.28 51.88,514.99 51.69,515.24C51.50,515.49 50.80,515.17 50.55,515.32C50.31,515.47 50.46,516.05 50.22,516.12C49.98,516.19 49.48,515.76 49.11,515.74C48.73,515.73 48.34,516.10 47.96,516.02C47.58,515.95 47.06,515.31 46.80,515.28C46.55,515.26 46.73,515.98 46.43,515.87C46.13,515.76 45.28,515.01 45.00,514.64C44.72,514.27 45.01,513.89 44.77,513.65C44.54,513.42 43.84,513.46 43.61,513.23C43.38,513.00 43.69,512.55 43.41,512.28C43.14,512.00 42.34,511.71 41.96,511.57C41.58,511.43 41.33,511.60 41.13,511.42C40.94,511.23 40.77,510.71 40.76,510.48C40.75,510.24 41.18,510.15 41.07,510.00C40.97,509.86 40.29,509.94 40.15,509.61C40.00,509.28 40.09,508.68 40.20,508.03C40.31,507.38 40.80,506.41 40.80,505.70C40.80,504.99 40.12,504.05 40.19,503.75Z" fill="#000" fill-opacity="0.07" stroke="#000" stroke-width="0.6" stroke-opacity="0.85"/>
<path d="M41.41,504.88C41.41,504.58 41.92,504.37 42.05,504.19C42.19,504.01 41.98,503.93 42.20,503.79C42.42,503.66 42.97,503.35 43.38,503.37C43.80,503.39 44.06,503.81 44.70,503.93C45.34,504.05 46.55,504.05 47.23,504.08C47.92,504.11 48.39,504.14 48.82,504.13C49.24,504.11 49.49,503.86 49.77,503.97C50.05,504.09 50.19,504.68 50.49,504.81C50.79,504.93 51.39,504.48 51.57,504.73C51.75,504.98 51.49,505.93 51.55,506.31C51.61,506.69 51.75,506.85 51.93,507.02C52.11,507.20 52.56,507.08 52.60,507.35C52.65,507.63 52.21,508.31 52.20,508.67C52.19,509.03 52.56,509.15 52.54,509.50C52.53,509.85 52.32,510.34 52.10,510.78C51.88,511.22 51.38,511.83 51.21,512.14C51.04,512.45 51.13,512.28 51.08,512.62C51.02,512.96 50.95,513.90 50.87,514.17C50.78,514.44 50.86,514.16 50.57,514.26C50.27,514.35 49.37,514.58 49.10,514.73C48.83,514.88 49.05,515.21 48.94,515.16C48.82,515.12 48.65,514.55 48.41,514.48C48.16,514.41 47.86,514.81 47.47,514.76C47.09,514.70 46.41,514.39 46.11,514.18C45.80,513.96 45.82,513.74 45.65,513.47C45.48,513.20 45.30,512.70 45.09,512.55C44.88,512.40 44.60,512.70 44.39,512.57C44.19,512.44 43.99,511.97 43.86,511.76C43.73,511.55 43.85,511.45 43.59,511.31C43.33,511.17 42.49,511.00 42.31,510.90C42.13,510.79 42.55,510.80 42.53,510.68C42.51,510.56 42.28,510.39 42.19,510.19C42.09,509.99 42.04,509.84 41.98,509.46C41.92,509.08 41.84,508.47 41.84,507.89C41.84,507.31 42.08,506.49 42.01,505.99C41.93,505.49 41.40,505.18 41.41,504.88Z" fill="#000" fill-opacity="0.08" stroke="#000" stroke-width="0.6" stroke-opacity="0.85"/>
<path d="M42.94,505.13C43.08,504.80 43.37,504.90 43.53,504.89C43.69,504.89 43.77,505.21 43.89,505.09C44.01,504.98 43.93,504.26 44.26,504.21C44.60,504.15 45.40,504.67 45.90,504.75C46.40,504.83 46.86,504.65 47.25,504.67C47.65,504.69 47.91,504.83 48.27,504.87C48.63,504.90 49.13,504.75 49.40,504.85C49.67,504.96 49.63,505.33 49.90,505.51C50.16,505.69 50.82,505.85 50.97,505.95C51.13,506.06 50.79,506.05 50.84,506.16C50.88,506.27 51.10,506.44 51.24,506.62C51.38,506.80 51.59,506.95 51.69,507.23C51.79,507.52 51.97,508.01 51.85,508.32C51.72,508.63 51.03,508.79 50.93,509.08C50.84,509.38 51.30,509.78 51.28,510.11C51.25,510.44 50.87,510.71 50.80,511.08C50.73,511.46 50.98,512.08 50.88,512.38C50.78,512.67 50.33,512.78 50.21,512.88C50.09,512.98 50.27,512.88 50.17,512.98C50.07,513.08 49.88,513.33 49.61,513.47C49.33,513.61 48.77,513.92 48.51,513.84C48.25,513.77 48.25,513.07 48.07,513.02C47.88,512.97 47.63,513.52 47.40,513.53C47.16,513.54 46.87,513.20 46.66,513.09C46.44,512.98 46.24,513.11 46.11,512.88C45.98,512.65 46.04,511.97 45.88,511.70C45.72,511.44 45.28,511.37 45.16,511.28C45.03,511.18 45.35,511.19 45.13,511.12C44.90,511.05 44.14,511.03 43.81,510.87C43.48,510.70 43.25,510.26 43.16,510.12C43.08,509.98 43.31,510.16 43.29,510.01C43.28,509.86 43.12,509.28 43.06,509.22C43.00,509.16 42.91,509.87 42.92,509.65C42.94,509.42 43.21,508.34 43.16,507.87C43.11,507.41 42.69,507.32 42.65,506.86C42.61,506.40 42.79,505.46 42.94,505.13Z" fill="#000" fill-opacity="0.1" stroke="#000" stroke-width="0.6" stroke-opacity="0.85"/>
<path d="M40.00,503.00C40.50,501.33 42.00,499.67 44.00,499.00C46.00,498.33 50.00,498.33 52.00,499.00C54.00,499.67 55.50,501.17 56.00,503.00C56.50,504.83 55.83,508.17 55.00,510.00C54.17,511.83 52.83,513.33 51.00,514.00C49.17,514.67 45.67,514.83 44.00,514.00C42.33,513.17 41.67,510.83 41.00,509.00C40.33,507.17 39.50,504.67 40.00,503.00Z" fill="#000" fill-opacity="0.10" filter="url(#bl)"/><path d="M40.00,503.00C40.50,501.33 42.00,499.67 44.00,499.00C46.00,498.33 50.00,498.33 52.00,499.00C54.00,499.67 55.50,501.17 56.00,503.00C56.50,504.83 55.83,508.17 55.00,510.00C54.17,511.83 52.83,513.33 51.00,514.00C49.17,514.67 45.67,514.83 44.00,514.00C42.33,513.17 41.67,510.83 41.00,509.00C40.33,507.17 39.50,504.67 40.00,503.00Z" fill="#000" fill-opacity="0.68" filter="url(#tx)"/>
<ellipse cx="48.5" cy="505" rx="1" ry="1.6" fill="#fff" fill-opacity="0.6"/></g>
<g clip-path="url(#c41)"><path d="M116.27,507.75C116.49,507.17 117.07,507.09 117.34,506.44C117.62,505.80 117.63,504.57 117.94,503.89C118.25,503.22 118.67,502.90 119.19,502.39C119.71,501.87 120.34,501.18 121.06,500.82C121.79,500.46 122.74,500.51 123.51,500.21C124.29,499.91 124.53,499.26 125.72,499.04C126.91,498.83 129.12,498.93 130.67,498.92C132.22,498.90 133.38,499.04 135.01,498.94C136.64,498.85 138.91,498.47 140.45,498.35C141.99,498.24 142.95,498.17 144.27,498.25C145.59,498.32 147.04,498.63 148.37,498.81C149.70,498.99 151.32,499.13 152.23,499.33C153.15,499.54 153.29,499.95 153.88,500.05C154.46,500.14 155.05,499.69 155.74,499.90C156.42,500.12 157.46,500.83 158.00,501.36C158.54,501.89 158.76,502.52 158.96,503.08C159.16,503.64 159.06,504.29 159.21,504.72C159.36,505.16 159.89,505.09 159.85,505.68C159.82,506.27 159.32,507.54 158.98,508.27C158.65,509.01 158.23,509.50 157.86,510.09C157.50,510.68 157.33,511.26 156.78,511.80C156.24,512.34 155.34,512.93 154.59,513.35C153.85,513.76 153.14,513.88 152.30,514.30C151.46,514.72 150.35,515.31 149.56,515.86C148.76,516.40 148.38,517.13 147.53,517.56C146.67,517.99 145.35,518.09 144.43,518.45C143.51,518.81 142.85,519.17 142.02,519.71C141.18,520.25 140.36,521.19 139.43,521.70C138.49,522.20 137.27,522.32 136.40,522.74C135.53,523.16 135.01,523.93 134.20,524.22C133.39,524.52 132.48,524.40 131.52,524.52C130.57,524.65 129.32,524.96 128.46,524.97C127.61,524.98 127.06,524.88 126.38,524.60C125.71,524.32 125.19,523.83 124.40,523.28C123.61,522.73 122.32,521.80 121.63,521.28C120.94,520.76 120.76,520.71 120.27,520.16C119.78,519.61 119.03,518.58 118.68,517.96C118.32,517.35 118.43,517.07 118.12,516.45C117.82,515.83 117.13,515.03 116.85,514.24C116.57,513.45 116.57,512.45 116.44,511.73C116.30,511.01 116.06,510.58 116.03,509.92C116.00,509.26 116.05,508.33 116.27,507.75Z" fill="#000" fill-opacity="0.03" stroke="#000" stroke-width="0.6" stroke-opacity="0.85"/>
<path d="M117.87,507.82C117.97,507.14 118.15,506.54 118.38,505.91C118.60,505.28 118.90,504.61 119.23,504.04C119.56,503.47 119.83,502.90 120.35,502.48C120.88,502.07 121.65,501.78 122.38,501.54C123.12,501.31 124.00,501.30 124.76,501.07C125.52,500.83 125.87,500.43 126.95,500.12C128.03,499.81 129.78,499.43 131.23,499.23C132.67,499.04 134.24,499.06 135.63,498.97C137.02,498.88 138.20,498.57 139.54,498.69C140.89,498.82 142.44,499.60 143.70,499.71C144.96,499.82 145.93,499.39 147.11,499.37C148.30,499.35 149.85,499.44 150.81,499.59C151.78,499.73 152.32,499.95 152.89,500.24C153.46,500.52 153.65,501.13 154.25,501.27C154.84,501.42 155.96,500.78 156.47,501.12C156.97,501.45 157.12,502.69 157.27,503.30C157.42,503.90 157.18,504.28 157.37,504.74C157.57,505.21 158.47,505.56 158.43,506.07C158.39,506.58 157.48,507.17 157.14,507.82C156.80,508.47 156.63,509.28 156.39,509.99C156.15,510.70 156.25,511.62 155.69,512.08C155.13,512.55 153.71,512.40 153.01,512.79C152.32,513.17 152.15,513.94 151.50,514.40C150.85,514.85 149.96,515.09 149.12,515.52C148.28,515.95 147.27,516.62 146.44,516.99C145.62,517.35 145.02,517.44 144.18,517.73C143.34,518.01 142.16,518.23 141.39,518.69C140.63,519.16 140.43,520.10 139.58,520.54C138.74,520.98 137.23,520.97 136.35,521.33C135.47,521.70 135.07,522.37 134.30,522.72C133.53,523.06 132.58,523.27 131.74,523.38C130.91,523.49 130.01,523.30 129.28,523.36C128.55,523.43 128.04,524.00 127.35,523.77C126.65,523.53 125.79,522.47 125.10,521.96C124.40,521.44 123.75,521.19 123.18,520.67C122.61,520.15 122.16,519.42 121.70,518.82C121.23,518.23 120.77,517.61 120.40,517.10C120.03,516.58 119.76,516.36 119.48,515.73C119.20,515.10 118.92,513.95 118.72,513.32C118.51,512.69 118.38,512.52 118.22,511.97C118.06,511.42 117.82,510.70 117.76,510.01C117.70,509.32 117.76,508.51 117.87,507.82Z" fill="#000" fill-opacity="0.05" stroke="#000" stroke-width="0.6" stroke-opacity="0.85"/>
<path d="M119.09,507.72C119.13,507.14 119.66,507.15 119.96,506.60C120.26,506.04 120.60,505.04 120.88,504.40C121.16,503.75 121.09,503.09 121.64,502.75C122.20,502.40 123.43,502.50 124.21,502.32C124.99,502.14 125.70,501.93 126.33,501.68C126.96,501.43 127.11,501.00 127.97,500.82C128.82,500.64 130.18,500.80 131.47,500.63C132.76,500.45 134.30,499.85 135.70,499.77C137.11,499.70 138.70,500.19 139.90,500.17C141.11,500.16 141.80,499.63 142.94,499.68C144.08,499.73 145.58,500.27 146.74,500.47C147.89,500.67 149.13,500.85 149.85,500.87C150.56,500.89 150.54,500.56 151.02,500.60C151.51,500.64 152.12,500.86 152.78,501.13C153.44,501.40 154.63,501.89 154.99,502.24C155.35,502.58 154.87,502.75 154.96,503.22C155.04,503.68 155.27,504.43 155.52,505.02C155.77,505.61 156.49,506.17 156.47,506.74C156.45,507.31 155.70,507.96 155.40,508.43C155.11,508.90 154.96,509.13 154.69,509.58C154.41,510.03 154.11,510.56 153.74,511.12C153.36,511.68 153.01,512.56 152.43,512.93C151.84,513.29 151.00,513.06 150.23,513.31C149.45,513.55 148.55,513.95 147.79,514.41C147.04,514.86 146.47,515.62 145.71,516.05C144.94,516.48 143.90,516.72 143.20,516.99C142.51,517.25 142.21,517.25 141.52,517.66C140.83,518.07 139.83,519.03 139.07,519.46C138.30,519.90 137.63,519.93 136.95,520.28C136.27,520.62 135.77,521.31 134.98,521.53C134.20,521.76 132.99,521.49 132.25,521.63C131.52,521.76 131.22,522.21 130.56,522.32C129.90,522.44 129.07,522.62 128.29,522.33C127.52,522.05 126.56,521.03 125.92,520.59C125.28,520.14 125.04,520.02 124.45,519.65C123.87,519.28 122.79,518.89 122.43,518.35C122.07,517.81 122.58,516.97 122.30,516.41C122.02,515.85 121.09,515.53 120.76,514.99C120.42,514.45 120.38,513.76 120.28,513.19C120.18,512.62 120.24,512.08 120.14,511.57C120.05,511.05 119.89,510.73 119.72,510.09C119.54,509.45 119.05,508.31 119.09,507.72Z" fill="#000" fill-opacity="0.07" stroke="#000" stroke-width="0.6" stroke-opacity="0.85"/>
<path d="M121.69,508.39C121.76,507.82 121.98,506.92 122.14,506.31C122.31,505.71 122.39,505.19 122.69,504.75C122.99,504.32 123.44,504.00 123.92,503.70C124.41,503.41 124.99,503.24 125.59,502.97C126.20,502.70 127.03,502.35 127.55,502.09C128.07,501.83 127.94,501.56 128.72,501.39C129.49,501.22 131.05,501.13 132.21,501.08C133.37,501.04 134.45,501.24 135.67,501.13C136.88,501.02 138.30,500.54 139.51,500.43C140.72,500.31 141.86,500.30 142.94,500.43C144.02,500.56 145.09,501.05 145.99,501.21C146.88,501.37 147.62,501.26 148.32,501.39C149.03,501.53 149.65,501.91 150.23,502.03C150.80,502.15 151.20,502.06 151.76,502.11C152.32,502.15 153.23,502.06 153.59,502.31C153.95,502.56 153.85,503.16 153.91,503.59C153.96,504.02 153.74,504.39 153.91,504.87C154.08,505.34 154.88,505.94 154.90,506.43C154.93,506.91 154.32,507.24 154.06,507.78C153.80,508.32 153.69,509.11 153.36,509.65C153.03,510.20 152.49,510.68 152.08,511.03C151.66,511.39 151.37,511.49 150.87,511.80C150.36,512.10 149.68,512.42 149.03,512.87C148.39,513.31 147.59,514.01 147.00,514.46C146.41,514.90 146.16,515.26 145.49,515.54C144.82,515.83 143.70,515.87 143.00,516.17C142.31,516.47 141.99,516.97 141.32,517.35C140.65,517.73 139.71,518.09 138.97,518.46C138.24,518.83 137.57,519.33 136.90,519.55C136.22,519.78 135.56,519.73 134.94,519.82C134.31,519.91 133.80,520.02 133.16,520.09C132.51,520.17 131.71,520.12 131.07,520.26C130.43,520.41 129.90,521.11 129.32,520.96C128.74,520.80 128.14,519.77 127.58,519.32C127.02,518.87 126.54,518.60 125.96,518.28C125.38,517.96 124.56,517.85 124.09,517.40C123.62,516.95 123.42,516.08 123.14,515.58C122.86,515.08 122.55,514.97 122.43,514.40C122.30,513.82 122.51,512.70 122.39,512.14C122.28,511.58 121.87,511.41 121.75,511.01C121.64,510.61 121.74,510.16 121.73,509.73C121.72,509.29 121.62,508.95 121.69,508.39Z" fill="#000" fill-opacity="0.09" stroke="#000" stroke-width="0.6" stroke-opacity="0.85"/>
<path d="M122.90,508.39C122.93,507.94 123.14,506.89 123.44,506.31C123.73,505.74 124.46,505.34 124.68,504.94C124.91,504.54 124.49,504.25 124.80,503.92C125.10,503.59 125.88,503.17 126.52,502.94C127.16,502.71 128.04,502.75 128.64,502.54C129.24,502.32 129.31,501.83 130.10,501.66C130.89,501.48 132.31,501.47 133.38,501.47C134.46,501.47 135.49,501.63 136.55,501.66C137.62,501.69 138.84,501.66 139.78,501.65C140.72,501.64 141.31,501.59 142.20,501.59C143.09,501.60 144.29,501.56 145.12,501.67C145.95,501.78 146.49,502.11 147.16,502.25C147.83,502.39 148.60,502.45 149.16,502.50C149.71,502.55 150.06,502.37 150.46,502.55C150.86,502.72 151.24,503.16 151.57,503.53C151.89,503.90 152.33,504.40 152.42,504.75C152.51,505.11 152.04,505.37 152.11,505.67C152.19,505.97 152.91,506.22 152.87,506.55C152.84,506.89 152.11,507.21 151.89,507.67C151.67,508.14 151.72,508.87 151.53,509.35C151.33,509.84 151.07,510.18 150.71,510.60C150.35,511.02 149.86,511.59 149.38,511.86C148.90,512.13 148.31,511.99 147.83,512.23C147.35,512.47 147.02,512.90 146.51,513.32C146.00,513.75 145.48,514.45 144.76,514.78C144.04,515.11 142.81,515.11 142.21,515.33C141.61,515.54 141.68,515.79 141.14,516.06C140.60,516.32 139.69,516.62 138.95,516.90C138.20,517.17 137.34,517.41 136.67,517.71C136.00,518.01 135.46,518.44 134.94,518.69C134.43,518.93 134.06,519.03 133.58,519.16C133.10,519.30 132.70,519.37 132.06,519.50C131.41,519.63 130.29,520.14 129.72,519.96C129.14,519.79 128.98,518.89 128.60,518.47C128.22,518.05 127.94,517.81 127.45,517.45C126.95,517.08 126.06,516.62 125.63,516.25C125.21,515.88 125.14,515.62 124.90,515.22C124.66,514.82 124.43,514.46 124.17,513.87C123.91,513.27 123.43,512.21 123.33,511.64C123.22,511.07 123.55,510.89 123.54,510.46C123.53,510.02 123.38,509.36 123.27,509.02C123.17,508.67 122.87,508.84 122.90,508.39Z" fill="#000" fill-opacity="0.1" stroke="#000" stroke-width="0.6" stroke-opacity="0.85"/>
<path d="M122.00,505.00C122.67,503.42 124.33,501.33 127.00,500.50C129.67,499.67 134.17,500.08 138.00,500.00C141.83,499.92 146.83,499.50 150.00,500.00C153.17,500.50 156.00,501.50 157.00,503.00C158.00,504.50 157.50,507.50 156.00,509.00C154.50,510.50 151.00,511.33 148.00,512.00C145.00,512.67 141.33,512.83 138.00,513.00C134.67,513.17 130.50,513.50 128.00,513.00C125.50,512.50 124.00,511.33 123.00,510.00C122.00,508.67 121.33,506.58 122.00,505.00Z" fill="#000" fill-opacity="0.10" filter="url(#bl)"/><path d="M122.00,505.00C122.67,503.42 124.33,501.33 127.00,500.50C129.67,499.67 134.17,500.08 138.00,500.00C141.83,499.92 146.83,499.50 150.00,500.00C153.17,500.50 156.00,501.50 157.00,503.00C158.00,504.50 157.50,507.50 156.00,509.00C154.50,510.50 151.00,511.33 148.00,512.00C145.00,512.67 141.33,512.83 138.00,513.00C134.67,513.17 130.50,513.50 128.00,513.00C125.50,512.50 124.00,511.33 123.00,510.00C122.00,508.67 121.33,506.58 122.00,505.00Z" fill="#000" fill-opacity="0.68" filter="url(#tx)"/>
<ellipse cx="127" cy="506" rx="1.3" ry="1" fill="#fff" fill-opacity="0.6"/>
<ellipse cx="133" cy="504.5" rx="1.5" ry="1" fill="#fff" fill-opacity="0.6"/>
<ellipse cx="141" cy="505" rx="1.2" ry="1" fill="#fff" fill-opacity="0.6"/>
<ellipse cx="147" cy="506" rx="1.2" ry="0.9" fill="#fff" fill-opacity="0.6"/></g>
<text x="0.00" y="14.80" font-size="18" text-anchor="start" font-weight="bold">A</text>
<line x1="47.25" y1="22.40" x2="47.25" y2="132.00" stroke="#000" stroke-width="1.2"/>
<line x1="47.25" y1="131.50" x2="186.00" y2="131.50" stroke="#000" stroke-width="1.2"/>
<line x1="44.20" y1="22.90" x2="47.25" y2="22.90" stroke="#000" stroke-width="1.2"/>
<text x="41.00" y="27.00" font-size="11.4" text-anchor="end">1000</text>
<line x1="44.20" y1="59.10" x2="47.25" y2="59.10" stroke="#000" stroke-width="1.2"/>
<text x="41.00" y="63.20" font-size="11.4" text-anchor="end">100</text>
<line x1="44.20" y1="95.30" x2="47.25" y2="95.30" stroke="#000" stroke-width="1.2"/>
<text x="41.00" y="99.40" font-size="11.4" text-anchor="end">10</text>
<line x1="44.20" y1="131.50" x2="47.25" y2="131.50" stroke="#000" stroke-width="1.2"/>
<text x="41.00" y="135.60" font-size="11.4" text-anchor="end">≥1</text>
<text transform="translate(17.2,79.3) rotate(-90)" font-size="11.5" text-anchor="middle">Lytic units</text>
<line x1="61.25" y1="131.50" x2="61.25" y2="134.50" stroke="#000" stroke-width="1.2"/>
<text x="61.25" y="147.60" font-size="10" text-anchor="middle">Adult</text>
<text x="61.25" y="159.60" font-size="10" text-anchor="middle" letter-spacing="0.5">n&gt;20</text>
<line x1="88.50" y1="131.50" x2="88.50" y2="134.50" stroke="#000" stroke-width="1.2"/>
<text x="88.50" y="147.60" font-size="10" text-anchor="middle">Inf.</text>
<text x="88.50" y="159.60" font-size="10" text-anchor="middle" letter-spacing="0.5">n=7</text>
<line x1="116.50" y1="131.50" x2="116.50" y2="134.50" stroke="#000" stroke-width="1.2"/>
<text x="116.50" y="147.60" font-size="10" text-anchor="middle">FHL2</text>
<text x="116.50" y="159.60" font-size="10" text-anchor="middle" letter-spacing="0.5">n=2</text>
<line x1="143.60" y1="131.50" x2="143.60" y2="134.50" stroke="#000" stroke-width="1.2"/>
<text x="143.60" y="147.60" font-size="10" text-anchor="middle">FHL3</text>
<text x="143.60" y="159.60" font-size="10" text-anchor="middle" letter-spacing="0.5">n=1</text>
<line x1="171.20" y1="131.50" x2="171.20" y2="134.50" stroke="#000" stroke-width="1.2"/>
<text x="171.20" y="147.60" font-size="10" text-anchor="middle">FHL4</text>
<text x="171.20" y="159.60" font-size="10" text-anchor="middle" letter-spacing="0.5">n=2</text>
<rect x="52.60" y="23.90" width="18.80" height="6.60" fill="#000" stroke="none" stroke-width="0"/>
<rect x="52.80" y="29.00" width="5.20" height="2.80" fill="#000" stroke="none" stroke-width="0"/>
<rect x="59.80" y="29.00" width="5.60" height="4.30" fill="#000" stroke="none" stroke-width="0"/>
<rect x="66.00" y="29.00" width="5.40" height="4.30" fill="#000" stroke="none" stroke-width="0"/>
<polygon points="82.50,23.60 85.50,28.80 79.50,28.80" fill="#000" stroke="none" stroke-width="0"/>
<polygon points="89.40,29.30 92.40,34.50 86.40,34.50" fill="#000" stroke="none" stroke-width="0"/>
<polygon points="96.00,28.00 99.00,33.20 93.00,33.20" fill="#000" stroke="none" stroke-width="0"/>
<polygon points="89.40,38.00 92.40,43.20 86.40,43.20" fill="#000" stroke="none" stroke-width="0"/>
<polygon points="82.50,42.40 85.50,47.60 79.50,47.60" fill="#000" stroke="none" stroke-width="0"/>
<polygon points="89.40,45.15 92.40,50.35 86.40,50.35" fill="#000" stroke="none" stroke-width="0"/>
<polygon points="96.00,43.40 99.00,48.60 93.00,48.60" fill="#000" stroke="none" stroke-width="0"/>
<rect x="78.10" y="34.95" width="21.90" height="2.60" fill="#000" stroke="none" stroke-width="0"/>
<polygon points="116.90,94.80 119.80,89.80 114.00,89.80" fill="#000" stroke="none" stroke-width="0"/>
<polygon points="116.90,135.30 119.80,130.30 114.00,130.30" fill="#000" stroke="none" stroke-width="0"/>
<rect x="105.40" y="99.80" width="21.30" height="2.60" fill="#000" stroke="none" stroke-width="0"/>
<rect x="132.90" y="64.20" width="21.60" height="2.60" fill="#000" stroke="none" stroke-width="0"/>
<polygon points="144.60,64.55 146.85,66.80 144.60,69.05 142.35,66.80" fill="#000"/>
<circle cx="171.80" cy="34.70" r="2.60" fill="#000"/>
<circle cx="171.80" cy="66.70" r="2.60" fill="#000"/>
<rect x="160.60" y="41.50" width="21.10" height="2.60" fill="#000" stroke="none" stroke-width="0"/>
<text x="236.90" y="14.75" font-size="18" text-anchor="start" font-weight="bold">B</text>
<line x1="274.00" y1="21.48" x2="274.00" y2="132.60" stroke="#000" stroke-width="1.2"/>
<line x1="274.00" y1="132.10" x2="512.00" y2="132.10" stroke="#000" stroke-width="1.2"/>
<line x1="271.00" y1="132.10" x2="274.00" y2="132.10" stroke="#000" stroke-width="1.2"/>
<text x="270.80" y="136.10" font-size="11" text-anchor="end">0</text>
<line x1="271.00" y1="118.33" x2="274.00" y2="118.33" stroke="#000" stroke-width="1.2"/>
<text x="270.80" y="122.33" font-size="11" text-anchor="end">10</text>
<line x1="271.00" y1="104.57" x2="274.00" y2="104.57" stroke="#000" stroke-width="1.2"/>
<text x="270.80" y="108.57" font-size="11" text-anchor="end">20</text>
<line x1="271.00" y1="90.80" x2="274.00" y2="90.80" stroke="#000" stroke-width="1.2"/>
<text x="270.80" y="94.80" font-size="11" text-anchor="end">30</text>
<line x1="271.00" y1="77.04" x2="274.00" y2="77.04" stroke="#000" stroke-width="1.2"/>
<text x="270.80" y="81.04" font-size="11" text-anchor="end">40</text>
<line x1="271.00" y1="63.27" x2="274.00" y2="63.27" stroke="#000" stroke-width="1.2"/>
<text x="270.80" y="67.27" font-size="11" text-anchor="end">50</text>
<line x1="271.00" y1="49.51" x2="274.00" y2="49.51" stroke="#000" stroke-width="1.2"/>
<text x="270.80" y="53.51" font-size="11" text-anchor="end">60</text>
<line x1="271.00" y1="35.74" x2="274.00" y2="35.74" stroke="#000" stroke-width="1.2"/>
<text x="270.80" y="39.74" font-size="11" text-anchor="end">70</text>
<line x1="271.00" y1="21.98" x2="274.00" y2="21.98" stroke="#000" stroke-width="1.2"/>
<text x="270.80" y="25.98" font-size="11" text-anchor="end">80</text>
<line x1="274.25" y1="132.10" x2="274.25" y2="135.10" stroke="#000" stroke-width="1.2"/>
<text x="274.25" y="145.00" font-size="11" text-anchor="middle">0</text>
<line x1="305.84" y1="132.10" x2="305.84" y2="135.10" stroke="#000" stroke-width="1.2"/>
<text x="305.84" y="145.00" font-size="11" text-anchor="middle">10</text>
<line x1="337.43" y1="132.10" x2="337.43" y2="135.10" stroke="#000" stroke-width="1.2"/>
<text x="337.43" y="145.00" font-size="11" text-anchor="middle">20</text>
<line x1="369.02" y1="132.10" x2="369.02" y2="135.10" stroke="#000" stroke-width="1.2"/>
<text x="369.02" y="145.00" font-size="11" text-anchor="middle">30</text>
<line x1="400.61" y1="132.10" x2="400.61" y2="135.10" stroke="#000" stroke-width="1.2"/>
<text x="400.61" y="145.00" font-size="11" text-anchor="middle">40</text>
<line x1="432.20" y1="132.10" x2="432.20" y2="135.10" stroke="#000" stroke-width="1.2"/>
<text x="432.20" y="145.00" font-size="11" text-anchor="middle">50</text>
<line x1="463.79" y1="132.10" x2="463.79" y2="135.10" stroke="#000" stroke-width="1.2"/>
<text x="463.79" y="145.00" font-size="11" text-anchor="middle">60</text>
<line x1="495.38" y1="132.10" x2="495.38" y2="135.10" stroke="#000" stroke-width="1.2"/>
<text x="495.38" y="145.00" font-size="11" text-anchor="middle">70</text>
<text x="385.30" y="155.60" font-size="9.6" text-anchor="middle">Hours</text>
<text transform="translate(254.6,76.8) rotate(-90)" font-size="12" text-anchor="middle">ΔCD107a<tspan dy="-4.5" font-size="7">+</tspan><tspan dy="4.5"> (%)</tspan></text>
<rect x="283.00" y="26.10" width="6.30" height="6.30" fill="#fff" stroke="#000" stroke-width="1"/>
<text x="291.30" y="33.00" font-size="10" text-anchor="start">Medium</text>
<rect x="282.50" y="39.40" width="7.30" height="7.00" fill="#000" stroke="none" stroke-width="0"/>
<text x="291.30" y="47.40" font-size="10" text-anchor="start">IL-2</text>
<polyline points="274.25,116.30 283.73,112.30 293.20,112.30 312.16,109.20 350.07,114.10 425.88,106.30 501.70,102.75" fill="none" stroke="#000" stroke-width="1.3"/>
<polyline points="274.25,115.10 283.73,104.90 293.20,99.20 312.16,77.40 350.07,67.60 425.88,36.50 501.70,45.00" fill="none" stroke="#000" stroke-width="1.3"/>
<rect x="280.93" y="109.50" width="5.60" height="5.60" fill="#fff" stroke="#000" stroke-width="1"/>
<rect x="290.40" y="109.50" width="5.60" height="5.60" fill="#fff" stroke="#000" stroke-width="1"/>
<rect x="309.36" y="106.40" width="5.60" height="5.60" fill="#fff" stroke="#000" stroke-width="1"/>
<rect x="347.27" y="111.30" width="5.60" height="5.60" fill="#fff" stroke="#000" stroke-width="1"/>
<rect x="423.08" y="103.50" width="5.60" height="5.60" fill="#fff" stroke="#000" stroke-width="1"/>
<rect x="498.90" y="99.95" width="5.60" height="5.60" fill="#fff" stroke="#000" stroke-width="1"/>
<rect x="270.95" y="111.80" width="6.60" height="6.60" fill="#000" stroke="none" stroke-width="0"/>
<rect x="280.43" y="101.60" width="6.60" height="6.60" fill="#000" stroke="none" stroke-width="0"/>
<rect x="289.90" y="95.90" width="6.60" height="6.60" fill="#000" stroke="none" stroke-width="0"/>
<rect x="308.86" y="74.10" width="6.60" height="6.60" fill="#000" stroke="none" stroke-width="0"/>
<rect x="346.77" y="64.30" width="6.60" height="6.60" fill="#000" stroke="none" stroke-width="0"/>
<rect x="422.58" y="33.20" width="6.60" height="6.60" fill="#000" stroke="none" stroke-width="0"/>
<rect x="498.40" y="41.70" width="6.60" height="6.60" fill="#000" stroke="none" stroke-width="0"/>
<text x="0.00" y="176.00" font-size="18" text-anchor="start" font-weight="bold">C</text>
<polyline points="33.5,189.4 99.3,189.4 99.3,255.0" fill="none" stroke="#777" stroke-width="0.9"/>
<line x1="33.50" y1="188.90" x2="33.50" y2="255.50" stroke="#222" stroke-width="1.1"/>
<line x1="33.00" y1="255.00" x2="99.30" y2="255.00" stroke="#222" stroke-width="1.1"/>
<line x1="34.5" y1="254.0" x2="99.3" y2="254.0" stroke="#888" stroke-width="1" stroke-dasharray="0.6 1.4"/>
<line x1="34.5" y1="189.4" x2="34.5" y2="255.0" stroke="#888" stroke-width="1" stroke-dasharray="0.6 1.4"/>
<line x1="31.30" y1="189.40" x2="33.50" y2="189.40" stroke="#222" stroke-width="1"/>
<line x1="33.50" y1="255.00" x2="33.50" y2="257.20" stroke="#222" stroke-width="1"/>
<line x1="31.30" y1="205.80" x2="33.50" y2="205.80" stroke="#222" stroke-width="1"/>
<line x1="49.95" y1="255.00" x2="49.95" y2="257.20" stroke="#222" stroke-width="1"/>
<line x1="31.30" y1="222.20" x2="33.50" y2="222.20" stroke="#222" stroke-width="1"/>
<line x1="66.40" y1="255.00" x2="66.40" y2="257.20" stroke="#222" stroke-width="1"/>
<line x1="31.30" y1="238.60" x2="33.50" y2="238.60" stroke="#222" stroke-width="1"/>
<line x1="82.85" y1="255.00" x2="82.85" y2="257.20" stroke="#222" stroke-width="1"/>
<line x1="31.30" y1="255.00" x2="33.50" y2="255.00" stroke="#222" stroke-width="1"/>
<line x1="99.30" y1="255.00" x2="99.30" y2="257.20" stroke="#222" stroke-width="1"/>
<text x="31.90" y="192.00" font-size="7" text-anchor="end">10<tspan dy="-2.8" font-size="5">4</tspan></text>
<text x="31.90" y="208.40" font-size="7" text-anchor="end">10<tspan dy="-2.8" font-size="5">3</tspan></text>
<text x="31.90" y="224.80" font-size="7" text-anchor="end">10<tspan dy="-2.8" font-size="5">2</tspan></text>
<text x="31.90" y="241.20" font-size="7" text-anchor="end">10<tspan dy="-2.8" font-size="5">1</tspan></text>
<text x="31.90" y="257.60" font-size="7" text-anchor="end">10<tspan dy="-2.8" font-size="5">0</tspan></text>
<polyline points="112.7,189.4 178.5,189.4 178.5,255.0" fill="none" stroke="#777" stroke-width="0.9"/>
<line x1="112.70" y1="188.90" x2="112.70" y2="255.50" stroke="#222" stroke-width="1.1"/>
<line x1="112.20" y1="255.00" x2="178.50" y2="255.00" stroke="#222" stroke-width="1.1"/>
<line x1="113.7" y1="254.0" x2="178.5" y2="254.0" stroke="#888" stroke-width="1" stroke-dasharray="0.6 1.4"/>
<line x1="113.7" y1="189.4" x2="113.7" y2="255.0" stroke="#888" stroke-width="1" stroke-dasharray="0.6 1.4"/>
<line x1="110.50" y1="189.40" x2="112.70" y2="189.40" stroke="#222" stroke-width="1"/>
<line x1="112.70" y1="255.00" x2="112.70" y2="257.20" stroke="#222" stroke-width="1"/>
<line x1="110.50" y1="205.80" x2="112.70" y2="205.80" stroke="#222" stroke-width="1"/>
<line x1="129.15" y1="255.00" x2="129.15" y2="257.20" stroke="#222" stroke-width="1"/>
<line x1="110.50" y1="222.20" x2="112.70" y2="222.20" stroke="#222" stroke-width="1"/>
<line x1="145.60" y1="255.00" x2="145.60" y2="257.20" stroke="#222" stroke-width="1"/>
<line x1="110.50" y1="238.60" x2="112.70" y2="238.60" stroke="#222" stroke-width="1"/>
<line x1="162.05" y1="255.00" x2="162.05" y2="257.20" stroke="#222" stroke-width="1"/>
<line x1="110.50" y1="255.00" x2="112.70" y2="255.00" stroke="#222" stroke-width="1"/>
<line x1="178.50" y1="255.00" x2="178.50" y2="257.20" stroke="#222" stroke-width="1"/>
<polyline points="33.5,266.3 99.3,266.3 99.3,331.9" fill="none" stroke="#111" stroke-width="1.5"/>
<line x1="33.50" y1="265.80" x2="33.50" y2="332.40" stroke="#222" stroke-width="1.1"/>
<line x1="33.00" y1="331.90" x2="99.30" y2="331.90" stroke="#222" stroke-width="1.1"/>
<line x1="34.5" y1="330.9" x2="99.3" y2="330.9" stroke="#888" stroke-width="1" stroke-dasharray="0.6 1.4"/>
<line x1="34.5" y1="266.3" x2="34.5" y2="331.9" stroke="#888" stroke-width="1" stroke-dasharray="0.6 1.4"/>
<line x1="31.30" y1="266.30" x2="33.50" y2="266.30" stroke="#222" stroke-width="1"/>
<line x1="33.50" y1="331.90" x2="33.50" y2="334.10" stroke="#222" stroke-width="1"/>
<line x1="31.30" y1="282.70" x2="33.50" y2="282.70" stroke="#222" stroke-width="1"/>
<line x1="49.95" y1="331.90" x2="49.95" y2="334.10" stroke="#222" stroke-width="1"/>
<line x1="31.30" y1="299.10" x2="33.50" y2="299.10" stroke="#222" stroke-width="1"/>
<line x1="66.40" y1="331.90" x2="66.40" y2="334.10" stroke="#222" stroke-width="1"/>
<line x1="31.30" y1="315.50" x2="33.50" y2="315.50" stroke="#222" stroke-width="1"/>
<line x1="82.85" y1="331.90" x2="82.85" y2="334.10" stroke="#222" stroke-width="1"/>
<line x1="31.30" y1="331.90" x2="33.50" y2="331.90" stroke="#222" stroke-width="1"/>
<line x1="99.30" y1="331.90" x2="99.30" y2="334.10" stroke="#222" stroke-width="1"/>
<text x="31.90" y="268.90" font-size="7" text-anchor="end">10<tspan dy="-2.8" font-size="5">4</tspan></text>
<text x="31.90" y="285.30" font-size="7" text-anchor="end">10<tspan dy="-2.8" font-size="5">3</tspan></text>
<text x="31.90" y="301.70" font-size="7" text-anchor="end">10<tspan dy="-2.8" font-size="5">2</tspan></text>
<text x="31.90" y="318.10" font-size="7" text-anchor="end">10<tspan dy="-2.8" font-size="5">1</tspan></text>
<text x="31.90" y="334.50" font-size="7" text-anchor="end">10<tspan dy="-2.8" font-size="5">0</tspan></text>
<polyline points="112.7,266.3 178.5,266.3 178.5,331.9" fill="none" stroke="#111" stroke-width="1.5"/>
<line x1="112.70" y1="265.80" x2="112.70" y2="332.40" stroke="#222" stroke-width="1.1"/>
<line x1="112.20" y1="331.90" x2="178.50" y2="331.90" stroke="#222" stroke-width="1.1"/>
<line x1="113.7" y1="330.9" x2="178.5" y2="330.9" stroke="#888" stroke-width="1" stroke-dasharray="0.6 1.4"/>
<line x1="113.7" y1="266.3" x2="113.7" y2="331.9" stroke="#888" stroke-width="1" stroke-dasharray="0.6 1.4"/>
<line x1="110.50" y1="266.30" x2="112.70" y2="266.30" stroke="#222" stroke-width="1"/>
<line x1="112.70" y1="331.90" x2="112.70" y2="334.10" stroke="#222" stroke-width="1"/>
<line x1="110.50" y1="282.70" x2="112.70" y2="282.70" stroke="#222" stroke-width="1"/>
<line x1="129.15" y1="331.90" x2="129.15" y2="334.10" stroke="#222" stroke-width="1"/>
<line x1="110.50" y1="299.10" x2="112.70" y2="299.10" stroke="#222" stroke-width="1"/>
<line x1="145.60" y1="331.90" x2="145.60" y2="334.10" stroke="#222" stroke-width="1"/>
<line x1="110.50" y1="315.50" x2="112.70" y2="315.50" stroke="#222" stroke-width="1"/>
<line x1="162.05" y1="331.90" x2="162.05" y2="334.10" stroke="#222" stroke-width="1"/>
<line x1="110.50" y1="331.90" x2="112.70" y2="331.90" stroke="#222" stroke-width="1"/>
<line x1="178.50" y1="331.90" x2="178.50" y2="334.10" stroke="#222" stroke-width="1"/>
<polyline points="33.5,343.2 99.3,343.2 99.3,408.79999999999995" fill="none" stroke="#777" stroke-width="0.9"/>
<line x1="33.50" y1="342.70" x2="33.50" y2="409.30" stroke="#222" stroke-width="1.1"/>
<line x1="33.00" y1="408.80" x2="99.30" y2="408.80" stroke="#222" stroke-width="1.1"/>
<line x1="34.5" y1="407.79999999999995" x2="99.3" y2="407.79999999999995" stroke="#888" stroke-width="1" stroke-dasharray="0.6 1.4"/>
<line x1="34.5" y1="343.2" x2="34.5" y2="408.79999999999995" stroke="#888" stroke-width="1" stroke-dasharray="0.6 1.4"/>
<line x1="31.30" y1="343.20" x2="33.50" y2="343.20" stroke="#222" stroke-width="1"/>
<line x1="33.50" y1="408.80" x2="33.50" y2="411.00" stroke="#222" stroke-width="1"/>
<line x1="31.30" y1="359.60" x2="33.50" y2="359.60" stroke="#222" stroke-width="1"/>
<line x1="49.95" y1="408.80" x2="49.95" y2="411.00" stroke="#222" stroke-width="1"/>
<line x1="31.30" y1="376.00" x2="33.50" y2="376.00" stroke="#222" stroke-width="1"/>
<line x1="66.40" y1="408.80" x2="66.40" y2="411.00" stroke="#222" stroke-width="1"/>
<line x1="31.30" y1="392.40" x2="33.50" y2="392.40" stroke="#222" stroke-width="1"/>
<line x1="82.85" y1="408.80" x2="82.85" y2="411.00" stroke="#222" stroke-width="1"/>
<line x1="31.30" y1="408.80" x2="33.50" y2="408.80" stroke="#222" stroke-width="1"/>
<line x1="99.30" y1="408.80" x2="99.30" y2="411.00" stroke="#222" stroke-width="1"/>
<text x="31.90" y="345.80" font-size="7" text-anchor="end">10<tspan dy="-2.8" font-size="5">4</tspan></text>
<text x="31.90" y="362.20" font-size="7" text-anchor="end">10<tspan dy="-2.8" font-size="5">3</tspan></text>
<text x="31.90" y="378.60" font-size="7" text-anchor="end">10<tspan dy="-2.8" font-size="5">2</tspan></text>
<text x="31.90" y="395.00" font-size="7" text-anchor="end">10<tspan dy="-2.8" font-size="5">1</tspan></text>
<text x="31.90" y="411.40" font-size="7" text-anchor="end">10<tspan dy="-2.8" font-size="5">0</tspan></text>
<polyline points="112.7,343.2 178.5,343.2 178.5,408.79999999999995" fill="none" stroke="#777" stroke-width="0.9"/>
<line x1="112.70" y1="342.70" x2="112.70" y2="409.30" stroke="#222" stroke-width="1.1"/>
<line x1="112.20" y1="408.80" x2="178.50" y2="408.80" stroke="#222" stroke-width="1.1"/>
<line x1="113.7" y1="407.79999999999995" x2="178.5" y2="407.79999999999995" stroke="#888" stroke-width="1" stroke-dasharray="0.6 1.4"/>
<line x1="113.7" y1="343.2" x2="113.7" y2="408.79999999999995" stroke="#888" stroke-width="1" stroke-dasharray="0.6 1.4"/>
<line x1="110.50" y1="343.20" x2="112.70" y2="343.20" stroke="#222" stroke-width="1"/>
<line x1="112.70" y1="408.80" x2="112.70" y2="411.00" stroke="#222" stroke-width="1"/>
<line x1="110.50" y1="359.60" x2="112.70" y2="359.60" stroke="#222" stroke-width="1"/>
<line x1="129.15" y1="408.80" x2="129.15" y2="411.00" stroke="#222" stroke-width="1"/>
<line x1="110.50" y1="376.00" x2="112.70" y2="376.00" stroke="#222" stroke-width="1"/>
<line x1="145.60" y1="408.80" x2="145.60" y2="411.00" stroke="#222" stroke-width="1"/>
<line x1="110.50" y1="392.40" x2="112.70" y2="392.40" stroke="#222" stroke-width="1"/>
<line x1="162.05" y1="408.80" x2="162.05" y2="411.00" stroke="#222" stroke-width="1"/>
<line x1="110.50" y1="408.80" x2="112.70" y2="408.80" stroke="#222" stroke-width="1"/>
<line x1="178.50" y1="408.80" x2="178.50" y2="411.00" stroke="#222" stroke-width="1"/>
<polyline points="33.5,420.0 99.3,420.0 99.3,485.6" fill="none" stroke="#111" stroke-width="1.5"/>
<line x1="33.50" y1="419.50" x2="33.50" y2="486.10" stroke="#222" stroke-width="1.1"/>
<line x1="33.00" y1="485.60" x2="99.30" y2="485.60" stroke="#222" stroke-width="1.1"/>
<line x1="34.5" y1="484.6" x2="99.3" y2="484.6" stroke="#888" stroke-width="1" stroke-dasharray="0.6 1.4"/>
<line x1="34.5" y1="420.0" x2="34.5" y2="485.6" stroke="#888" stroke-width="1" stroke-dasharray="0.6 1.4"/>
<line x1="31.30" y1="420.00" x2="33.50" y2="420.00" stroke="#222" stroke-width="1"/>
<line x1="33.50" y1="485.60" x2="33.50" y2="487.80" stroke="#222" stroke-width="1"/>
<line x1="31.30" y1="436.40" x2="33.50" y2="436.40" stroke="#222" stroke-width="1"/>
<line x1="49.95" y1="485.60" x2="49.95" y2="487.80" stroke="#222" stroke-width="1"/>
<line x1="31.30" y1="452.80" x2="33.50" y2="452.80" stroke="#222" stroke-width="1"/>
<line x1="66.40" y1="485.60" x2="66.40" y2="487.80" stroke="#222" stroke-width="1"/>
<line x1="31.30" y1="469.20" x2="33.50" y2="469.20" stroke="#222" stroke-width="1"/>
<line x1="82.85" y1="485.60" x2="82.85" y2="487.80" stroke="#222" stroke-width="1"/>
<line x1="31.30" y1="485.60" x2="33.50" y2="485.60" stroke="#222" stroke-width="1"/>
<line x1="99.30" y1="485.60" x2="99.30" y2="487.80" stroke="#222" stroke-width="1"/>
<text x="31.90" y="422.60" font-size="7" text-anchor="end">10<tspan dy="-2.8" font-size="5">4</tspan></text>
<text x="31.90" y="439.00" font-size="7" text-anchor="end">10<tspan dy="-2.8" font-size="5">3</tspan></text>
<text x="31.90" y="455.40" font-size="7" text-anchor="end">10<tspan dy="-2.8" font-size="5">2</tspan></text>
<text x="31.90" y="471.80" font-size="7" text-anchor="end">10<tspan dy="-2.8" font-size="5">1</tspan></text>
<text x="31.90" y="488.20" font-size="7" text-anchor="end">10<tspan dy="-2.8" font-size="5">0</tspan></text>
<polyline points="112.7,420.0 178.5,420.0 178.5,485.6" fill="none" stroke="#111" stroke-width="1.5"/>
<line x1="112.70" y1="419.50" x2="112.70" y2="486.10" stroke="#222" stroke-width="1.1"/>
<line x1="112.20" y1="485.60" x2="178.50" y2="485.60" stroke="#222" stroke-width="1.1"/>
<line x1="113.7" y1="484.6" x2="178.5" y2="484.6" stroke="#888" stroke-width="1" stroke-dasharray="0.6 1.4"/>
<line x1="113.7" y1="420.0" x2="113.7" y2="485.6" stroke="#888" stroke-width="1" stroke-dasharray="0.6 1.4"/>
<line x1="110.50" y1="420.00" x2="112.70" y2="420.00" stroke="#222" stroke-width="1"/>
<line x1="112.70" y1="485.60" x2="112.70" y2="487.80" stroke="#222" stroke-width="1"/>
<line x1="110.50" y1="436.40" x2="112.70" y2="436.40" stroke="#222" stroke-width="1"/>
<line x1="129.15" y1="485.60" x2="129.15" y2="487.80" stroke="#222" stroke-width="1"/>
<line x1="110.50" y1="452.80" x2="112.70" y2="452.80" stroke="#222" stroke-width="1"/>
<line x1="145.60" y1="485.60" x2="145.60" y2="487.80" stroke="#222" stroke-width="1"/>
<line x1="110.50" y1="469.20" x2="112.70" y2="469.20" stroke="#222" stroke-width="1"/>
<line x1="162.05" y1="485.60" x2="162.05" y2="487.80" stroke="#222" stroke-width="1"/>
<line x1="110.50" y1="485.60" x2="112.70" y2="485.60" stroke="#222" stroke-width="1"/>
<line x1="178.50" y1="485.60" x2="178.50" y2="487.80" stroke="#222" stroke-width="1"/>
<polyline points="33.5,497.6 99.3,497.6 99.3,563.2" fill="none" stroke="#777" stroke-width="0.9"/>
<line x1="33.50" y1="497.10" x2="33.50" y2="563.70" stroke="#222" stroke-width="1.1"/>
<line x1="33.00" y1="563.20" x2="99.30" y2="563.20" stroke="#222" stroke-width="1.1"/>
<line x1="34.5" y1="562.2" x2="99.3" y2="562.2" stroke="#888" stroke-width="1" stroke-dasharray="0.6 1.4"/>
<line x1="34.5" y1="497.6" x2="34.5" y2="563.2" stroke="#888" stroke-width="1" stroke-dasharray="0.6 1.4"/>
<line x1="31.30" y1="497.60" x2="33.50" y2="497.60" stroke="#222" stroke-width="1"/>
<line x1="33.50" y1="563.20" x2="33.50" y2="565.40" stroke="#222" stroke-width="1"/>
<line x1="31.30" y1="514.00" x2="33.50" y2="514.00" stroke="#222" stroke-width="1"/>
<line x1="49.95" y1="563.20" x2="49.95" y2="565.40" stroke="#222" stroke-width="1"/>
<line x1="31.30" y1="530.40" x2="33.50" y2="530.40" stroke="#222" stroke-width="1"/>
<line x1="66.40" y1="563.20" x2="66.40" y2="565.40" stroke="#222" stroke-width="1"/>
<line x1="31.30" y1="546.80" x2="33.50" y2="546.80" stroke="#222" stroke-width="1"/>
<line x1="82.85" y1="563.20" x2="82.85" y2="565.40" stroke="#222" stroke-width="1"/>
<line x1="31.30" y1="563.20" x2="33.50" y2="563.20" stroke="#222" stroke-width="1"/>
<line x1="99.30" y1="563.20" x2="99.30" y2="565.40" stroke="#222" stroke-width="1"/>
<text x="31.90" y="500.20" font-size="7" text-anchor="end">10<tspan dy="-2.8" font-size="5">4</tspan></text>
<text x="31.90" y="516.60" font-size="7" text-anchor="end">10<tspan dy="-2.8" font-size="5">3</tspan></text>
<text x="31.90" y="533.00" font-size="7" text-anchor="end">10<tspan dy="-2.8" font-size="5">2</tspan></text>
<text x="31.90" y="549.40" font-size="7" text-anchor="end">10<tspan dy="-2.8" font-size="5">1</tspan></text>
<text x="31.90" y="565.80" font-size="7" text-anchor="end">10<tspan dy="-2.8" font-size="5">0</tspan></text>
<text x="30.10" y="573.00" font-size="7">10<tspan dy="-2.8" font-size="5">0</tspan></text>
<text x="46.55" y="573.00" font-size="7">10<tspan dy="-2.8" font-size="5">1</tspan></text>
<text x="63.00" y="573.00" font-size="7">10<tspan dy="-2.8" font-size="5">2</tspan></text>
<text x="79.45" y="573.00" font-size="7">10<tspan dy="-2.8" font-size="5">3</tspan></text>
<text x="95.90" y="573.00" font-size="7">10<tspan dy="-2.8" font-size="5">4</tspan></text>
<polyline points="112.7,497.6 178.5,497.6 178.5,563.2" fill="none" stroke="#777" stroke-width="0.9"/>
<line x1="112.70" y1="497.10" x2="112.70" y2="563.70" stroke="#222" stroke-width="1.1"/>
<line x1="112.20" y1="563.20" x2="178.50" y2="563.20" stroke="#222" stroke-width="1.1"/>
<line x1="113.7" y1="562.2" x2="178.5" y2="562.2" stroke="#888" stroke-width="1" stroke-dasharray="0.6 1.4"/>
<line x1="113.7" y1="497.6" x2="113.7" y2="563.2" stroke="#888" stroke-width="1" stroke-dasharray="0.6 1.4"/>
<line x1="110.50" y1="497.60" x2="112.70" y2="497.60" stroke="#222" stroke-width="1"/>
<line x1="112.70" y1="563.20" x2="112.70" y2="565.40" stroke="#222" stroke-width="1"/>
<line x1="110.50" y1="514.00" x2="112.70" y2="514.00" stroke="#222" stroke-width="1"/>
<line x1="129.15" y1="563.20" x2="129.15" y2="565.40" stroke="#222" stroke-width="1"/>
<line x1="110.50" y1="530.40" x2="112.70" y2="530.40" stroke="#222" stroke-width="1"/>
<line x1="145.60" y1="563.20" x2="145.60" y2="565.40" stroke="#222" stroke-width="1"/>
<line x1="110.50" y1="546.80" x2="112.70" y2="546.80" stroke="#222" stroke-width="1"/>
<line x1="162.05" y1="563.20" x2="162.05" y2="565.40" stroke="#222" stroke-width="1"/>
<line x1="110.50" y1="563.20" x2="112.70" y2="563.20" stroke="#222" stroke-width="1"/>
<line x1="178.50" y1="563.20" x2="178.50" y2="565.40" stroke="#222" stroke-width="1"/>
<text x="109.30" y="573.00" font-size="7">10<tspan dy="-2.8" font-size="5">0</tspan></text>
<text x="125.75" y="573.00" font-size="7">10<tspan dy="-2.8" font-size="5">1</tspan></text>
<text x="142.20" y="573.00" font-size="7">10<tspan dy="-2.8" font-size="5">2</tspan></text>
<text x="158.65" y="573.00" font-size="7">10<tspan dy="-2.8" font-size="5">3</tspan></text>
<text x="175.10" y="573.00" font-size="7">10<tspan dy="-2.8" font-size="5">4</tspan></text>
<text x="71.30" y="187.00" font-size="10" text-anchor="middle">No target</text>
<text x="147.50" y="185.80" font-size="10" text-anchor="middle">K562</text>
<text x="202.20" y="220.50" font-size="10" text-anchor="middle">Adult</text>
<text x="202.20" y="233.40" font-size="10" text-anchor="middle">control</text>
<text x="202.20" y="297.10" font-size="10" text-anchor="middle">Infant</text>
<text x="202.20" y="310.00" font-size="10" text-anchor="middle">control</text>
<text x="202.20" y="374.50" font-size="10" text-anchor="middle">FHL2</text>
<text x="202.20" y="387.40" font-size="10" text-anchor="middle">(<tspan font-style="italic">PRF1</tspan>)</text>
<text x="202.20" y="451.30" font-size="10" text-anchor="middle">FHL3</text>
<text x="202.20" y="464.20" font-size="10" text-anchor="middle">(<tspan font-style="italic">UNC13D</tspan>)</text>
<text x="202.20" y="530.00" font-size="10" text-anchor="middle">FHL4</text>
<text x="202.20" y="542.90" font-size="10" text-anchor="middle">(<tspan font-style="italic">STX11</tspan>)</text>
<line x1="13.75" y1="195.00" x2="13.75" y2="357.50" stroke="#000" stroke-width="1.1"/>
<line x1="13.75" y1="394.00" x2="13.75" y2="562.00" stroke="#000" stroke-width="1.1"/>
<polygon points="13.75,188 16.4,196 11.1,196" fill="#000"/>
<text transform="translate(17.6,375.8) rotate(-90)" font-size="12" text-anchor="middle">CD56</text>
<line x1="33.60" y1="581.70" x2="81.20" y2="581.70" stroke="#000" stroke-width="1.1"/>
<line x1="128.00" y1="581.70" x2="174.00" y2="581.70" stroke="#000" stroke-width="1.1"/>
<polygon points="181,581.7 172.5,579.1 172.5,584.3" fill="#000"/>
<text x="82.00" y="586.20" font-size="12.3" text-anchor="start">CD107a</text>
<text x="237.60" y="175.60" font-size="20" text-anchor="start" font-weight="bold">D</text>
<line x1="275.60" y1="173.53" x2="275.60" y2="381.80" stroke="#000" stroke-width="1.2"/>
<line x1="272.50" y1="381.30" x2="520.00" y2="381.30" stroke="#000" stroke-width="1.3"/>
<line x1="272.50" y1="381.30" x2="275.60" y2="381.30" stroke="#000" stroke-width="1.2"/>
<text x="271.20" y="385.30" font-size="11.5" text-anchor="end">0</text>
<line x1="272.50" y1="358.27" x2="275.60" y2="358.27" stroke="#000" stroke-width="1.2"/>
<text x="271.20" y="362.27" font-size="11.5" text-anchor="end">10</text>
<line x1="272.50" y1="335.24" x2="275.60" y2="335.24" stroke="#000" stroke-width="1.2"/>
<text x="271.20" y="339.24" font-size="11.5" text-anchor="end">20</text>
<line x1="272.50" y1="312.21" x2="275.60" y2="312.21" stroke="#000" stroke-width="1.2"/>
<text x="271.20" y="316.21" font-size="11.5" text-anchor="end">30</text>
<line x1="272.50" y1="289.18" x2="275.60" y2="289.18" stroke="#000" stroke-width="1.2"/>
<text x="271.20" y="293.18" font-size="11.5" text-anchor="end">40</text>
<line x1="272.50" y1="266.15" x2="275.60" y2="266.15" stroke="#000" stroke-width="1.2"/>
<text x="271.20" y="270.15" font-size="11.5" text-anchor="end">50</text>
<line x1="272.50" y1="243.12" x2="275.60" y2="243.12" stroke="#000" stroke-width="1.2"/>
<text x="271.20" y="247.12" font-size="11.5" text-anchor="end">60</text>
<line x1="272.50" y1="220.09" x2="275.60" y2="220.09" stroke="#000" stroke-width="1.2"/>
<text x="271.20" y="224.09" font-size="11.5" text-anchor="end">70</text>
<line x1="272.50" y1="197.06" x2="275.60" y2="197.06" stroke="#000" stroke-width="1.2"/>
<text x="271.20" y="201.06" font-size="11.5" text-anchor="end">80</text>
<line x1="272.50" y1="174.03" x2="275.60" y2="174.03" stroke="#000" stroke-width="1.2"/>
<text x="271.20" y="178.03" font-size="11.5" text-anchor="end">90</text>
<text transform="translate(256,277.2) rotate(-90)" font-size="12" text-anchor="middle">ΔCD107a<tspan dy="-4.5" font-size="7">+</tspan><tspan dy="4.5"> (%)</tspan></text>
<polyline points="283,390 283,393 316.75,393 316.75,390" fill="none" stroke="#222" stroke-width="1"/>
<line x1="299.88" y1="390.00" x2="299.88" y2="393.00" stroke="#222" stroke-width="1"/>
<text x="299.88" y="402.50" font-size="10" text-anchor="middle">Adult</text>
<polyline points="332.5,390 332.5,393 365.5,393 365.5,390" fill="none" stroke="#222" stroke-width="1"/>
<line x1="349.00" y1="390.00" x2="349.00" y2="393.00" stroke="#222" stroke-width="1"/>
<text x="349.00" y="402.50" font-size="10" text-anchor="middle">Inf.</text>
<polyline points="381.25,390 381.25,393 414.25,393 414.25,390" fill="none" stroke="#222" stroke-width="1"/>
<line x1="397.75" y1="390.00" x2="397.75" y2="393.00" stroke="#222" stroke-width="1"/>
<text x="397.75" y="402.50" font-size="10" text-anchor="middle">FHL2</text>
<polyline points="429.5,390 429.5,393 463,393 463,390" fill="none" stroke="#222" stroke-width="1"/>
<line x1="446.25" y1="390.00" x2="446.25" y2="393.00" stroke="#222" stroke-width="1"/>
<text x="446.25" y="402.50" font-size="10" text-anchor="middle">FHL3</text>
<polyline points="478.75,390 478.75,393 512,393 512,390" fill="none" stroke="#222" stroke-width="1"/>
<line x1="495.38" y1="390.00" x2="495.38" y2="393.00" stroke="#222" stroke-width="1"/>
<text x="495.38" y="402.50" font-size="10" text-anchor="middle">FHL4</text>
<rect x="431.60" y="184.70" width="6.80" height="6.80" fill="#111" stroke="#222" stroke-width="0.7"/>
<text x="440.50" y="191.80" font-size="10" text-anchor="start">P815</text>
<rect x="431.60" y="198.05" width="6.80" height="6.80" fill="#e5202a" stroke="#222" stroke-width="0.7"/>
<text x="440.50" y="205.15" font-size="10" text-anchor="start">P815 + anti-CD16</text>
<rect x="431.60" y="211.40" width="6.80" height="6.80" fill="#2aa84e" stroke="#222" stroke-width="0.7"/>
<text x="440.50" y="218.50" font-size="10" text-anchor="start">K562</text>
<rect x="291.20" y="188.70" width="4.60" height="4.60" fill="#e5202a" stroke="none" stroke-width="0"/>
<rect x="295.80" y="187.50" width="4.60" height="4.60" fill="#e5202a" stroke="none" stroke-width="0"/>
<rect x="301.50" y="188.70" width="4.60" height="4.60" fill="#e5202a" stroke="none" stroke-width="0"/>
<rect x="295.20" y="192.70" width="4.60" height="4.60" fill="#e5202a" stroke="none" stroke-width="0"/>
<rect x="299.20" y="192.10" width="4.60" height="4.60" fill="#e5202a" stroke="none" stroke-width="0"/>
<rect x="297.50" y="195.00" width="4.60" height="4.60" fill="#e5202a" stroke="none" stroke-width="0"/>
<rect x="294.60" y="196.70" width="4.60" height="4.60" fill="#e5202a" stroke="none" stroke-width="0"/>
<rect x="302.10" y="196.20" width="4.60" height="4.60" fill="#e5202a" stroke="none" stroke-width="0"/>
<rect x="299.20" y="199.60" width="4.60" height="4.60" fill="#e5202a" stroke="none" stroke-width="0"/>
<rect x="298.70" y="207.10" width="4.60" height="4.60" fill="#e5202a" stroke="none" stroke-width="0"/>
<rect x="302.10" y="224.40" width="4.60" height="4.60" fill="#e5202a" stroke="none" stroke-width="0"/>
<rect x="297.50" y="230.20" width="4.60" height="4.60" fill="#e5202a" stroke="none" stroke-width="0"/>
<rect x="301.50" y="234.20" width="4.60" height="4.60" fill="#e5202a" stroke="none" stroke-width="0"/>
<rect x="291.20" y="236.00" width="4.60" height="4.60" fill="#e5202a" stroke="none" stroke-width="0"/>
<rect x="298.70" y="230.00" width="4.60" height="4.60" fill="#e5202a" stroke="none" stroke-width="0"/>
<rect x="302.10" y="234.60" width="4.60" height="4.60" fill="#e5202a" stroke="none" stroke-width="0"/>
<rect x="291.20" y="236.90" width="4.60" height="4.60" fill="#e5202a" stroke="none" stroke-width="0"/>
<rect x="298.70" y="238.10" width="4.60" height="4.60" fill="#e5202a" stroke="none" stroke-width="0"/>
<rect x="294.60" y="241.50" width="4.60" height="4.60" fill="#e5202a" stroke="none" stroke-width="0"/>
<rect x="301.50" y="242.10" width="4.60" height="4.60" fill="#e5202a" stroke="none" stroke-width="0"/>
<rect x="298.70" y="248.50" width="4.60" height="4.60" fill="#e5202a" stroke="none" stroke-width="0"/>
<rect x="291.20" y="254.80" width="4.60" height="4.60" fill="#e5202a" stroke="none" stroke-width="0"/>
<rect x="298.70" y="257.70" width="4.60" height="4.60" fill="#e5202a" stroke="none" stroke-width="0"/>
<rect x="298.50" y="281.90" width="4.60" height="4.60" fill="#e5202a" stroke="none" stroke-width="0"/>
<rect x="314.80" y="188.70" width="4.60" height="4.60" fill="#2aa84e" stroke="none" stroke-width="0"/>
<rect x="310.80" y="195.00" width="4.60" height="4.60" fill="#2aa84e" stroke="none" stroke-width="0"/>
<rect x="318.30" y="195.00" width="4.60" height="4.60" fill="#2aa84e" stroke="none" stroke-width="0"/>
<rect x="314.80" y="199.00" width="4.60" height="4.60" fill="#2aa84e" stroke="none" stroke-width="0"/>
<rect x="307.90" y="204.80" width="4.60" height="4.60" fill="#2aa84e" stroke="none" stroke-width="0"/>
<rect x="312.50" y="208.90" width="4.60" height="4.60" fill="#2aa84e" stroke="none" stroke-width="0"/>
<rect x="316.00" y="211.20" width="4.60" height="4.60" fill="#2aa84e" stroke="none" stroke-width="0"/>
<rect x="317.70" y="214.60" width="4.60" height="4.60" fill="#2aa84e" stroke="none" stroke-width="0"/>
<rect x="313.70" y="214.60" width="4.60" height="4.60" fill="#2aa84e" stroke="none" stroke-width="0"/>
<rect x="307.30" y="226.70" width="4.60" height="4.60" fill="#2aa84e" stroke="none" stroke-width="0"/>
<rect x="312.50" y="228.50" width="4.60" height="4.60" fill="#2aa84e" stroke="none" stroke-width="0"/>
<rect x="317.10" y="228.50" width="4.60" height="4.60" fill="#2aa84e" stroke="none" stroke-width="0"/>
<rect x="312.50" y="233.10" width="4.60" height="4.60" fill="#2aa84e" stroke="none" stroke-width="0"/>
<rect x="318.30" y="233.70" width="4.60" height="4.60" fill="#2aa84e" stroke="none" stroke-width="0"/>
<rect x="308.50" y="229.40" width="4.60" height="4.60" fill="#2aa84e" stroke="none" stroke-width="0"/>
<rect x="314.80" y="236.90" width="4.60" height="4.60" fill="#2aa84e" stroke="none" stroke-width="0"/>
<rect x="307.90" y="246.70" width="4.60" height="4.60" fill="#2aa84e" stroke="none" stroke-width="0"/>
<rect x="314.80" y="247.30" width="4.60" height="4.60" fill="#2aa84e" stroke="none" stroke-width="0"/>
<rect x="314.00" y="286.20" width="4.60" height="4.60" fill="#2aa84e" stroke="none" stroke-width="0"/>
<rect x="317.90" y="286.20" width="4.60" height="4.60" fill="#2aa84e" stroke="none" stroke-width="0"/>
<rect x="310.70" y="212.20" width="4.60" height="4.60" fill="#2aa84e" stroke="none" stroke-width="0"/>
<rect x="319.00" y="209.70" width="4.60" height="4.60" fill="#2aa84e" stroke="none" stroke-width="0"/>
<rect x="315.70" y="206.50" width="4.60" height="4.60" fill="#2aa84e" stroke="none" stroke-width="0"/>
<rect x="310.20" y="216.20" width="4.60" height="4.60" fill="#2aa84e" stroke="none" stroke-width="0"/>
<rect x="282.60" y="311.00" width="4.60" height="4.60" fill="#000" stroke="none" stroke-width="0"/>
<rect x="286.00" y="316.90" width="4.60" height="4.60" fill="#000" stroke="none" stroke-width="0"/>
<rect x="275.60" y="320.00" width="4.60" height="4.60" fill="#000" stroke="none" stroke-width="0"/>
<rect x="282.30" y="323.20" width="4.60" height="4.60" fill="#000" stroke="none" stroke-width="0"/>
<rect x="286.00" y="339.60" width="4.60" height="4.60" fill="#000" stroke="none" stroke-width="0"/>
<rect x="282.60" y="341.50" width="4.60" height="4.60" fill="#000" stroke="none" stroke-width="0"/>
<rect x="278.30" y="346.40" width="4.60" height="4.60" fill="#000" stroke="none" stroke-width="0"/>
<rect x="286.50" y="346.80" width="4.60" height="4.60" fill="#000" stroke="none" stroke-width="0"/>
<rect x="274.90" y="349.20" width="4.60" height="4.60" fill="#000" stroke="none" stroke-width="0"/>
<rect x="282.10" y="350.20" width="4.60" height="4.60" fill="#000" stroke="none" stroke-width="0"/>
<rect x="279.20" y="352.10" width="4.60" height="4.60" fill="#000" stroke="none" stroke-width="0"/>
<rect x="283.60" y="353.60" width="4.60" height="4.60" fill="#000" stroke="none" stroke-width="0"/>
<rect x="278.30" y="356.90" width="4.60" height="4.60" fill="#000" stroke="none" stroke-width="0"/>
<rect x="282.10" y="356.90" width="4.60" height="4.60" fill="#000" stroke="none" stroke-width="0"/>
<rect x="286.00" y="358.40" width="4.60" height="4.60" fill="#000" stroke="none" stroke-width="0"/>
<rect x="283.10" y="359.30" width="4.60" height="4.60" fill="#000" stroke="none" stroke-width="0"/>
<rect x="275.40" y="366.50" width="4.60" height="4.60" fill="#000" stroke="none" stroke-width="0"/>
<rect x="282.10" y="366.50" width="4.60" height="4.60" fill="#000" stroke="none" stroke-width="0"/>
<rect x="278.80" y="374.70" width="4.60" height="4.60" fill="#000" stroke="none" stroke-width="0"/>
<rect x="286.00" y="376.70" width="4.60" height="4.60" fill="#000" stroke="none" stroke-width="0"/>
<rect x="282.10" y="380.00" width="4.60" height="4.60" fill="#000" stroke="none" stroke-width="0"/>
<rect x="294.00" y="221.60" width="12.70" height="2.60" fill="#000" stroke="none" stroke-width="0"/>
<rect x="310.20" y="224.30" width="12.70" height="2.60" fill="#000" stroke="none" stroke-width="0"/>
<polygon points="349.60,226.40 352.60,231.80 346.60,231.80" fill="#e5202a" stroke="none" stroke-width="0"/>
<polygon points="349.60,256.50 352.60,261.90 346.60,261.90" fill="#e5202a" stroke="none" stroke-width="0"/>
<polygon points="353.20,256.00 356.20,261.40 350.20,261.40" fill="#e5202a" stroke="none" stroke-width="0"/>
<polygon points="342.40,273.00 345.40,278.40 339.40,278.40" fill="#e5202a" stroke="none" stroke-width="0"/>
<polygon points="349.60,278.80 352.60,284.20 346.60,284.20" fill="#e5202a" stroke="none" stroke-width="0"/>
<polygon points="349.60,290.10 352.60,295.50 346.60,295.50" fill="#e5202a" stroke="none" stroke-width="0"/>
<polygon points="353.20,289.70 356.20,295.10 350.20,295.10" fill="#e5202a" stroke="none" stroke-width="0"/>
<polygon points="365.70,204.00 368.70,209.40 362.70,209.40" fill="#2aa84e" stroke="none" stroke-width="0"/>
<polygon points="358.60,241.60 361.60,247.00 355.60,247.00" fill="#2aa84e" stroke="none" stroke-width="0"/>
<polygon points="365.70,244.70 368.70,250.10 362.70,250.10" fill="#2aa84e" stroke="none" stroke-width="0"/>
<polygon points="365.70,264.00 368.70,269.40 362.70,269.40" fill="#2aa84e" stroke="none" stroke-width="0"/>
<polygon points="365.70,273.90 368.70,279.30 362.70,279.30" fill="#2aa84e" stroke="none" stroke-width="0"/>
<polygon points="369.30,278.40 372.30,283.80 366.30,283.80" fill="#2aa84e" stroke="none" stroke-width="0"/>
<polygon points="365.70,282.00 368.70,287.40 362.70,287.40" fill="#2aa84e" stroke="none" stroke-width="0"/>
<rect x="342.30" y="267.90" width="13.50" height="2.60" fill="#000" stroke="none" stroke-width="0"/>
<rect x="358.70" y="256.10" width="13.40" height="2.60" fill="#000" stroke="none" stroke-width="0"/>
<polygon points="333.60,350.40 336.60,355.80 330.60,355.80" fill="#000" stroke="none" stroke-width="0"/>
<polygon points="333.60,366.50 336.60,371.90 330.60,371.90" fill="#000" stroke="none" stroke-width="0"/>
<polygon points="331.00,371.30 334.00,376.70 328.00,376.70" fill="#000" stroke="none" stroke-width="0"/>
<polygon points="336.20,371.30 339.20,376.70 333.20,376.70" fill="#000" stroke="none" stroke-width="0"/>
<polygon points="331.50,375.10 334.50,380.50 328.50,380.50" fill="#000" stroke="none" stroke-width="0"/>
<polygon points="336.20,375.10 339.20,380.50 333.20,380.50" fill="#000" stroke="none" stroke-width="0"/>
<polygon points="333.60,375.80 336.60,381.20 330.60,381.20" fill="#000" stroke="none" stroke-width="0"/>
<polygon points="333.60,366.30 340.10,381.30 327.10,381.30" fill="#000" stroke="none" stroke-width="0"/>
<rect x="326.30" y="371.20" width="13.90" height="2.60" fill="#000" stroke="none" stroke-width="0"/>
<polygon points="414.80,205.00 417.60,199.80 412.00,199.80" fill="#2aa84e" stroke="none" stroke-width="0"/>
<polygon points="414.80,254.10 417.60,248.90 412.00,248.90" fill="#2aa84e" stroke="none" stroke-width="0"/>
<polygon points="398.30,221.80 401.10,216.60 395.50,216.60" fill="#e5202a" stroke="none" stroke-width="0"/>
<polygon points="398.30,253.60 401.10,248.40 395.50,248.40" fill="#e5202a" stroke="none" stroke-width="0"/>
<rect x="407.50" y="225.40" width="13.30" height="2.60" fill="#000" stroke="none" stroke-width="0"/>
<rect x="391.30" y="233.90" width="13.30" height="2.60" fill="#000" stroke="none" stroke-width="0"/>
<polygon points="382.30,311.80 385.10,306.60 379.50,306.60" fill="#000" stroke="none" stroke-width="0"/>
<polygon points="382.30,350.50 385.10,345.30 379.50,345.30" fill="#000" stroke="none" stroke-width="0"/>
<rect x="375.20" y="327.00" width="13.50" height="2.60" fill="#000" stroke="none" stroke-width="0"/>
<polygon points="430.80,379.30 434.05,382.30 430.80,385.30 427.55,382.30" fill="#000"/>
<rect x="441.30" y="380.30" width="11.60" height="2.00" fill="#000" stroke="none" stroke-width="0"/>
<polygon points="447.10,378.30 450.35,381.30 447.10,384.30 443.85,381.30" fill="#e5202a"/>
<rect x="456.70" y="370.00" width="13.00" height="2.60" fill="#000" stroke="none" stroke-width="0"/>
<polygon points="463.50,371.00 465.50,373.00 463.50,375.00 461.50,373.00" fill="#2aa84e"/>
<circle cx="512.30" cy="280.00" r="2.60" fill="#2aa84e"/>
<circle cx="512.60" cy="316.10" r="2.60" fill="#2aa84e"/>
<rect x="505.10" y="296.00" width="13.50" height="2.60" fill="#000" stroke="none" stroke-width="0"/>
<circle cx="496.10" cy="308.90" r="2.60" fill="#e5202a"/>
<circle cx="496.10" cy="320.40" r="2.60" fill="#e5202a"/>
<rect x="488.40" y="313.00" width="13.80" height="2.60" fill="#000" stroke="none" stroke-width="0"/>
<rect x="472.30" y="370.80" width="13.00" height="2.60" fill="#000" stroke="none" stroke-width="0"/>
<circle cx="479.20" cy="374.40" r="2.60" fill="#000"/>
<circle cx="483.80" cy="370.90" r="2.60" fill="#000"/>
<text x="240.40" y="413.50" font-size="20" text-anchor="start" font-weight="bold">E</text>
<line x1="276.00" y1="417.15" x2="276.00" y2="566.75" stroke="#555" stroke-width="1.2"/>
<line x1="272.50" y1="566.25" x2="479.50" y2="566.25" stroke="#000" stroke-width="1.2"/>
<line x1="272.50" y1="566.25" x2="276.00" y2="566.25" stroke="#000" stroke-width="1.2"/>
<text x="271.20" y="570.25" font-size="11.5" text-anchor="end">0</text>
<line x1="272.50" y1="529.10" x2="276.00" y2="529.10" stroke="#000" stroke-width="1.2"/>
<text x="271.20" y="533.10" font-size="11.5" text-anchor="end">5</text>
<line x1="272.50" y1="491.95" x2="276.00" y2="491.95" stroke="#000" stroke-width="1.2"/>
<text x="271.20" y="495.95" font-size="11.5" text-anchor="end">10</text>
<line x1="272.50" y1="454.80" x2="276.00" y2="454.80" stroke="#000" stroke-width="1.2"/>
<text x="271.20" y="458.80" font-size="11.5" text-anchor="end">15</text>
<line x1="272.50" y1="417.65" x2="276.00" y2="417.65" stroke="#000" stroke-width="1.2"/>
<text x="271.20" y="421.65" font-size="11.5" text-anchor="end">20</text>
<text transform="translate(256,491.7) rotate(-90)" font-size="12" text-anchor="middle">ΔCD107a<tspan dy="-4.5" font-size="7">+</tspan><tspan dy="4.5"> (%)</tspan></text>
<polyline points="285.5,572.8 285.5,575.8 306.75,575.8 306.75,572.8" fill="none" stroke="#222" stroke-width="1"/>
<text x="296.12" y="586.80" font-size="10" text-anchor="middle">Adult</text>
<polyline points="327,572.8 327,575.8 347,575.8 347,572.8" fill="none" stroke="#222" stroke-width="1"/>
<text x="337.00" y="586.80" font-size="10" text-anchor="middle">Inf.</text>
<polyline points="367,572.8 367,575.8 387.5,575.8 387.5,572.8" fill="none" stroke="#222" stroke-width="1"/>
<text x="377.25" y="586.80" font-size="10" text-anchor="middle">FHL2</text>
<polyline points="408,572.8 408,575.8 428,575.8 428,572.8" fill="none" stroke="#222" stroke-width="1"/>
<text x="418.00" y="586.80" font-size="10" text-anchor="middle">FHL3</text>
<polyline points="448,572.8 448,575.8 469.5,575.8 469.5,572.8" fill="none" stroke="#222" stroke-width="1"/>
<text x="458.75" y="586.80" font-size="10" text-anchor="middle">FHL4</text>
<rect x="431.60" y="426.50" width="6.80" height="6.80" fill="#111" stroke="#222" stroke-width="0.7"/>
<text x="440.50" y="433.10" font-size="10" text-anchor="start">P815</text>
<rect x="431.60" y="439.85" width="6.80" height="6.80" fill="#3d4fa3" stroke="#222" stroke-width="0.7"/>
<text x="440.50" y="446.45" font-size="10" text-anchor="start">P815 + anti-CD3</text>
<rect x="304.65" y="445.35" width="4.50" height="4.50" fill="#3d4fa3" stroke="#223" stroke-width="0.5"/>
<rect x="308.05" y="447.25" width="4.50" height="4.50" fill="#3d4fa3" stroke="#223" stroke-width="0.5"/>
<rect x="304.65" y="453.35" width="4.50" height="4.50" fill="#3d4fa3" stroke="#223" stroke-width="0.5"/>
<rect x="298.45" y="465.05" width="4.50" height="4.50" fill="#3d4fa3" stroke="#223" stroke-width="0.5"/>
<rect x="304.65" y="470.95" width="4.50" height="4.50" fill="#3d4fa3" stroke="#223" stroke-width="0.5"/>
<rect x="308.35" y="475.25" width="4.50" height="4.50" fill="#3d4fa3" stroke="#223" stroke-width="0.5"/>
<rect x="304.65" y="479.05" width="4.50" height="4.50" fill="#3d4fa3" stroke="#223" stroke-width="0.5"/>
<rect x="304.65" y="488.55" width="4.50" height="4.50" fill="#3d4fa3" stroke="#223" stroke-width="0.5"/>
<rect x="308.35" y="491.55" width="4.50" height="4.50" fill="#3d4fa3" stroke="#223" stroke-width="0.5"/>
<rect x="308.35" y="498.35" width="4.50" height="4.50" fill="#3d4fa3" stroke="#223" stroke-width="0.5"/>
<rect x="298.45" y="501.65" width="4.50" height="4.50" fill="#3d4fa3" stroke="#223" stroke-width="0.5"/>
<rect x="304.65" y="503.65" width="4.50" height="4.50" fill="#3d4fa3" stroke="#223" stroke-width="0.5"/>
<rect x="304.65" y="512.25" width="4.50" height="4.50" fill="#3d4fa3" stroke="#223" stroke-width="0.5"/>
<rect x="304.65" y="513.85" width="4.50" height="4.50" fill="#3d4fa3" stroke="#223" stroke-width="0.5"/>
<rect x="308.35" y="523.95" width="4.50" height="4.50" fill="#3d4fa3" stroke="#223" stroke-width="0.5"/>
<rect x="298.45" y="527.25" width="4.50" height="4.50" fill="#3d4fa3" stroke="#223" stroke-width="0.5"/>
<rect x="304.65" y="529.15" width="4.50" height="4.50" fill="#3d4fa3" stroke="#223" stroke-width="0.5"/>
<rect x="301.35" y="533.35" width="4.50" height="4.50" fill="#3d4fa3" stroke="#223" stroke-width="0.5"/>
<rect x="305.15" y="537.85" width="4.50" height="4.50" fill="#3d4fa3" stroke="#223" stroke-width="0.5"/>
<rect x="308.35" y="537.85" width="4.50" height="4.50" fill="#3d4fa3" stroke="#223" stroke-width="0.5"/>
<rect x="298.30" y="496.70" width="16.30" height="2.60" fill="#000" stroke="none" stroke-width="0"/>
<rect x="284.50" y="538.00" width="4.60" height="4.60" fill="#000" stroke="none" stroke-width="0"/>
<rect x="281.50" y="547.60" width="11.60" height="5.20" fill="#000" stroke="none" stroke-width="0"/>
<rect x="284.20" y="552.00" width="5.40" height="4.50" fill="#000" stroke="none" stroke-width="0"/>
<rect x="278.30" y="556.20" width="16.60" height="4.90" fill="#000" stroke="none" stroke-width="0"/>
<rect x="281.50" y="560.50" width="11.60" height="8.40" fill="#000" stroke="none" stroke-width="0"/>
<rect x="285.20" y="559.00" width="3.40" height="10.50" fill="#000" stroke="none" stroke-width="0"/>
<polygon points="327.2,556.3 334.6,567.6 319.8,567.6" fill="#000"/>
<rect x="320.50" y="563.50" width="13.90" height="2.40" fill="#000" stroke="none" stroke-width="0"/>
<polygon points="347.40,527.60 350.10,532.60 344.70,532.60" fill="#3d4fa3" stroke="none" stroke-width="0"/>
<polygon points="347.60,551.00 353.10,566.00 342.10,566.00" fill="#3d4fa3" stroke="none" stroke-width="0"/>
<rect x="339.50" y="553.70" width="15.80" height="2.60" fill="#000" stroke="none" stroke-width="0"/>
<polygon points="366.00,566.50 368.30,562.10 363.70,562.10" fill="#000" stroke="none" stroke-width="0"/>
<polygon points="369.20,566.50 371.50,562.10 366.90,562.10" fill="#000" stroke="none" stroke-width="0"/>
<polygon points="372.40,566.50 374.70,562.10 370.10,562.10" fill="#000" stroke="none" stroke-width="0"/>
<rect x="362.00" y="562.20" width="12.00" height="2.00" fill="#000" stroke="none" stroke-width="0"/>
<polygon points="388.50,539.80 391.20,534.80 385.80,534.80" fill="#3d4fa3" stroke="none" stroke-width="0"/>
<polygon points="388.50,560.70 391.20,555.70 385.80,555.70" fill="#3d4fa3" stroke="none" stroke-width="0"/>
<rect x="379.90" y="546.40" width="15.10" height="2.60" fill="#000" stroke="none" stroke-width="0"/>
<polygon points="408.75,563.25 411.75,566.25 408.75,569.25 405.75,566.25" fill="#000"/>
<polygon points="428.75,564.25 431.25,567.00 428.75,569.75 426.25,567.00" fill="#3d4fa3"/>
<rect x="442.00" y="564.75" width="11.75" height="2.00" fill="#000" stroke="none" stroke-width="0"/>
<circle cx="449.50" cy="566.25" r="2.60" fill="#000"/>
<circle cx="452.50" cy="565.00" r="2.60" fill="#000"/>
<circle cx="469.60" cy="488.00" r="2.40" fill="#3d4fa3"/>
<circle cx="469.60" cy="543.20" r="2.40" fill="#3d4fa3"/>
<rect x="460.50" y="513.50" width="17.30" height="2.60" fill="#000" stroke="none" stroke-width="0"/>
</svg></body></html>
